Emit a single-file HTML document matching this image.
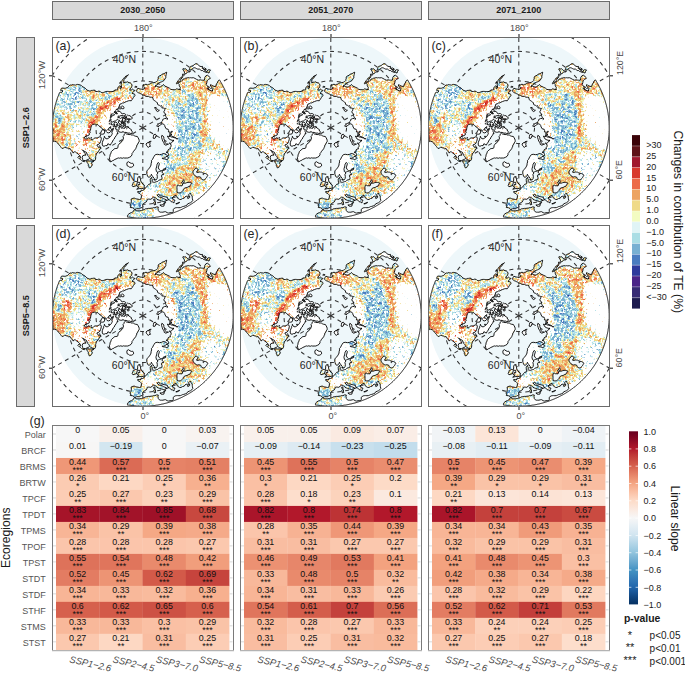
<!DOCTYPE html>
<html><head><meta charset="utf-8"><style>
html,body{margin:0;padding:0;background:#fff;width:685px;height:673px;overflow:hidden;}
svg{display:block;font-family:"Liberation Sans", sans-serif;}
</style></head><body>
<svg width="685" height="673" viewBox="0 0 685 673">
<rect x="0" y="0" width="685" height="673" fill="#fff"/>
<rect x="52.5" y="1.5" width="181" height="18" fill="#d9d9d9" stroke="#6b6b6b" stroke-width="1"/>
<text x="142.75" y="13.1" font-size="9" fill="#1a1a1a" text-anchor="middle" font-weight="bold">2030_2050</text>
<rect x="240.5" y="1.5" width="181" height="18" fill="#d9d9d9" stroke="#6b6b6b" stroke-width="1"/>
<text x="330.75" y="13.1" font-size="9" fill="#1a1a1a" text-anchor="middle" font-weight="bold">2051_2070</text>
<rect x="428.5" y="1.5" width="181" height="18" fill="#d9d9d9" stroke="#6b6b6b" stroke-width="1"/>
<text x="518.75" y="13.1" font-size="9" fill="#1a1a1a" text-anchor="middle" font-weight="bold">2071_2100</text>
<rect x="16.5" y="37.5" width="18" height="181" fill="#d9d9d9" stroke="#6b6b6b" stroke-width="1"/>
<text x="29" y="127.75" font-size="9" fill="#1a1a1a" text-anchor="middle" font-weight="bold" transform="rotate(-90 29 127.75)">SSP1−2.6</text>
<rect x="16.5" y="225.5" width="18" height="181" fill="#d9d9d9" stroke="#6b6b6b" stroke-width="1"/>
<text x="29" y="315.75" font-size="9" fill="#1a1a1a" text-anchor="middle" font-weight="bold" transform="rotate(-90 29 315.75)">SSP5−8.5</text>
<defs><filter id="valF0" x="0" y="0" width="182" height="182" filterUnits="userSpaceOnUse" color-interpolation-filters="sRGB">
<feGaussianBlur in="SourceGraphic" stdDeviation="1.8" result="f"/>
<feTurbulence type="fractalNoise" baseFrequency="0.3" numOctaves="3" seed="3" result="n"/>
<feColorMatrix in="n" type="matrix" values="1 0 0 0 0 0 1 0 0 0 0 0 1 0 0 0 0 0 0 1" result="n1"/>
<feComposite in="f" in2="n1" operator="arithmetic" k1="0" k2="1" k3="0.38" k4="-0.19" result="t"/>
<feColorMatrix in="t" type="matrix" values="1 0 0 0 0 1 0 0 0 0 1 0 0 0 0 0 0 0 0 1" result="g"/>
<feComponentTransfer in="g"><feFuncR type="discrete" tableValues="0.1098 0.1098 0.1098 0.1098 0.1098 0.2118 0.2118 0.2118 0.2118 0.2118 0.2902 0.2902 0.2902 0.2902 0.2902 0.1804 0.1804 0.1804 0.1804 0.1804 0.2902 0.2902 0.2902 0.2902 0.2902 0.4706 0.4706 0.4706 0.4706 0.4706 0.6706 0.6706 0.6706 0.6706 0.8784 0.9529 0.9373 0.9373 0.9373 0.9373 0.9294 0.9294 0.9294 0.9294 0.9294 0.9255 0.9255 0.9255 0.9255 0.9255 0.8471 0.8471 0.8471 0.8471 0.8471 0.6275 0.6275 0.6275 0.6275 0.6275 0.3686 0.3686 0.3686 0.3686 0.3686 0.2275 0.2275 0.2275 0.2275 0.2275"/><feFuncG type="discrete" tableValues="0.1020 0.1020 0.1020 0.1020 0.1020 0.1647 0.1647 0.1647 0.1647 0.1647 0.1412 0.1412 0.1412 0.1412 0.1412 0.2275 0.2275 0.2275 0.2275 0.2275 0.4863 0.4863 0.4863 0.4863 0.4863 0.6902 0.6902 0.6902 0.6902 0.6902 0.8706 0.8706 0.8706 0.8706 0.9569 0.9882 0.8549 0.8549 0.8549 0.8549 0.6431 0.6431 0.6431 0.6431 0.6431 0.4196 0.4196 0.4196 0.4196 0.4196 0.2275 0.2275 0.2275 0.2275 0.2275 0.0941 0.0941 0.0941 0.0941 0.0941 0.0706 0.0706 0.0706 0.0706 0.0706 0.0078 0.0078 0.0078 0.0078 0.0078"/><feFuncB type="discrete" tableValues="0.3059 0.3059 0.3059 0.3059 0.3059 0.4549 0.4549 0.4549 0.4549 0.4549 0.5333 0.5333 0.5333 0.5333 0.5333 0.6118 0.6118 0.6118 0.6118 0.6118 0.7529 0.7529 0.7529 0.7529 0.7529 0.8235 0.8235 0.8235 0.8235 0.8235 0.8980 0.8980 0.8980 0.8980 0.9647 0.7608 0.5333 0.5333 0.5333 0.5333 0.3843 0.3843 0.3843 0.3843 0.3843 0.2824 0.2824 0.2824 0.2824 0.2824 0.1804 0.1804 0.1804 0.1804 0.1804 0.1804 0.1804 0.1804 0.1804 0.1804 0.0941 0.0941 0.0941 0.0941 0.0941 0.0314 0.0314 0.0314 0.0314 0.0314"/><feFuncA type="linear" slope="0" intercept="1"/></feComponentTransfer>
<feGaussianBlur stdDeviation="0.65"/>
</filter>
<filter id="valF1" x="0" y="0" width="182" height="182" filterUnits="userSpaceOnUse" color-interpolation-filters="sRGB">
<feGaussianBlur in="SourceGraphic" stdDeviation="1.8" result="f"/>
<feTurbulence type="fractalNoise" baseFrequency="0.3" numOctaves="3" seed="10" result="n"/>
<feColorMatrix in="n" type="matrix" values="1 0 0 0 0 0 1 0 0 0 0 0 1 0 0 0 0 0 0 1" result="n1"/>
<feComposite in="f" in2="n1" operator="arithmetic" k1="0" k2="1" k3="0.38" k4="-0.19" result="t"/>
<feColorMatrix in="t" type="matrix" values="1 0 0 0 0 1 0 0 0 0 1 0 0 0 0 0 0 0 0 1" result="g"/>
<feComponentTransfer in="g"><feFuncR type="discrete" tableValues="0.1098 0.1098 0.1098 0.1098 0.1098 0.2118 0.2118 0.2118 0.2118 0.2118 0.2902 0.2902 0.2902 0.2902 0.2902 0.1804 0.1804 0.1804 0.1804 0.1804 0.2902 0.2902 0.2902 0.2902 0.2902 0.4706 0.4706 0.4706 0.4706 0.4706 0.6706 0.6706 0.6706 0.6706 0.8784 0.9529 0.9373 0.9373 0.9373 0.9373 0.9294 0.9294 0.9294 0.9294 0.9294 0.9255 0.9255 0.9255 0.9255 0.9255 0.8471 0.8471 0.8471 0.8471 0.8471 0.6275 0.6275 0.6275 0.6275 0.6275 0.3686 0.3686 0.3686 0.3686 0.3686 0.2275 0.2275 0.2275 0.2275 0.2275"/><feFuncG type="discrete" tableValues="0.1020 0.1020 0.1020 0.1020 0.1020 0.1647 0.1647 0.1647 0.1647 0.1647 0.1412 0.1412 0.1412 0.1412 0.1412 0.2275 0.2275 0.2275 0.2275 0.2275 0.4863 0.4863 0.4863 0.4863 0.4863 0.6902 0.6902 0.6902 0.6902 0.6902 0.8706 0.8706 0.8706 0.8706 0.9569 0.9882 0.8549 0.8549 0.8549 0.8549 0.6431 0.6431 0.6431 0.6431 0.6431 0.4196 0.4196 0.4196 0.4196 0.4196 0.2275 0.2275 0.2275 0.2275 0.2275 0.0941 0.0941 0.0941 0.0941 0.0941 0.0706 0.0706 0.0706 0.0706 0.0706 0.0078 0.0078 0.0078 0.0078 0.0078"/><feFuncB type="discrete" tableValues="0.3059 0.3059 0.3059 0.3059 0.3059 0.4549 0.4549 0.4549 0.4549 0.4549 0.5333 0.5333 0.5333 0.5333 0.5333 0.6118 0.6118 0.6118 0.6118 0.6118 0.7529 0.7529 0.7529 0.7529 0.7529 0.8235 0.8235 0.8235 0.8235 0.8235 0.8980 0.8980 0.8980 0.8980 0.9647 0.7608 0.5333 0.5333 0.5333 0.5333 0.3843 0.3843 0.3843 0.3843 0.3843 0.2824 0.2824 0.2824 0.2824 0.2824 0.1804 0.1804 0.1804 0.1804 0.1804 0.1804 0.1804 0.1804 0.1804 0.1804 0.0941 0.0941 0.0941 0.0941 0.0941 0.0314 0.0314 0.0314 0.0314 0.0314"/><feFuncA type="linear" slope="0" intercept="1"/></feComponentTransfer>
<feGaussianBlur stdDeviation="0.65"/>
</filter>
<filter id="valF2" x="0" y="0" width="182" height="182" filterUnits="userSpaceOnUse" color-interpolation-filters="sRGB">
<feGaussianBlur in="SourceGraphic" stdDeviation="1.8" result="f"/>
<feTurbulence type="fractalNoise" baseFrequency="0.3" numOctaves="3" seed="17" result="n"/>
<feColorMatrix in="n" type="matrix" values="1 0 0 0 0 0 1 0 0 0 0 0 1 0 0 0 0 0 0 1" result="n1"/>
<feComposite in="f" in2="n1" operator="arithmetic" k1="0" k2="1" k3="0.38" k4="-0.19" result="t"/>
<feColorMatrix in="t" type="matrix" values="1 0 0 0 0 1 0 0 0 0 1 0 0 0 0 0 0 0 0 1" result="g"/>
<feComponentTransfer in="g"><feFuncR type="discrete" tableValues="0.1098 0.1098 0.1098 0.1098 0.1098 0.2118 0.2118 0.2118 0.2118 0.2118 0.2902 0.2902 0.2902 0.2902 0.2902 0.1804 0.1804 0.1804 0.1804 0.1804 0.2902 0.2902 0.2902 0.2902 0.2902 0.4706 0.4706 0.4706 0.4706 0.4706 0.6706 0.6706 0.6706 0.6706 0.8784 0.9529 0.9373 0.9373 0.9373 0.9373 0.9294 0.9294 0.9294 0.9294 0.9294 0.9255 0.9255 0.9255 0.9255 0.9255 0.8471 0.8471 0.8471 0.8471 0.8471 0.6275 0.6275 0.6275 0.6275 0.6275 0.3686 0.3686 0.3686 0.3686 0.3686 0.2275 0.2275 0.2275 0.2275 0.2275"/><feFuncG type="discrete" tableValues="0.1020 0.1020 0.1020 0.1020 0.1020 0.1647 0.1647 0.1647 0.1647 0.1647 0.1412 0.1412 0.1412 0.1412 0.1412 0.2275 0.2275 0.2275 0.2275 0.2275 0.4863 0.4863 0.4863 0.4863 0.4863 0.6902 0.6902 0.6902 0.6902 0.6902 0.8706 0.8706 0.8706 0.8706 0.9569 0.9882 0.8549 0.8549 0.8549 0.8549 0.6431 0.6431 0.6431 0.6431 0.6431 0.4196 0.4196 0.4196 0.4196 0.4196 0.2275 0.2275 0.2275 0.2275 0.2275 0.0941 0.0941 0.0941 0.0941 0.0941 0.0706 0.0706 0.0706 0.0706 0.0706 0.0078 0.0078 0.0078 0.0078 0.0078"/><feFuncB type="discrete" tableValues="0.3059 0.3059 0.3059 0.3059 0.3059 0.4549 0.4549 0.4549 0.4549 0.4549 0.5333 0.5333 0.5333 0.5333 0.5333 0.6118 0.6118 0.6118 0.6118 0.6118 0.7529 0.7529 0.7529 0.7529 0.7529 0.8235 0.8235 0.8235 0.8235 0.8235 0.8980 0.8980 0.8980 0.8980 0.9647 0.7608 0.5333 0.5333 0.5333 0.5333 0.3843 0.3843 0.3843 0.3843 0.3843 0.2824 0.2824 0.2824 0.2824 0.2824 0.1804 0.1804 0.1804 0.1804 0.1804 0.1804 0.1804 0.1804 0.1804 0.1804 0.0941 0.0941 0.0941 0.0941 0.0941 0.0314 0.0314 0.0314 0.0314 0.0314"/><feFuncA type="linear" slope="0" intercept="1"/></feComponentTransfer>
<feGaussianBlur stdDeviation="0.65"/>
</filter>
<filter id="valF3" x="0" y="0" width="182" height="182" filterUnits="userSpaceOnUse" color-interpolation-filters="sRGB">
<feGaussianBlur in="SourceGraphic" stdDeviation="1.8" result="f"/>
<feTurbulence type="fractalNoise" baseFrequency="0.3" numOctaves="3" seed="24" result="n"/>
<feColorMatrix in="n" type="matrix" values="1 0 0 0 0 0 1 0 0 0 0 0 1 0 0 0 0 0 0 1" result="n1"/>
<feComposite in="f" in2="n1" operator="arithmetic" k1="0" k2="1" k3="0.38" k4="-0.19" result="t"/>
<feColorMatrix in="t" type="matrix" values="1 0 0 0 0 1 0 0 0 0 1 0 0 0 0 0 0 0 0 1" result="g"/>
<feComponentTransfer in="g"><feFuncR type="discrete" tableValues="0.1098 0.1098 0.1098 0.1098 0.1098 0.2118 0.2118 0.2118 0.2118 0.2118 0.2902 0.2902 0.2902 0.2902 0.2902 0.1804 0.1804 0.1804 0.1804 0.1804 0.2902 0.2902 0.2902 0.2902 0.2902 0.4706 0.4706 0.4706 0.4706 0.4706 0.6706 0.6706 0.6706 0.6706 0.8784 0.9529 0.9373 0.9373 0.9373 0.9373 0.9294 0.9294 0.9294 0.9294 0.9294 0.9255 0.9255 0.9255 0.9255 0.9255 0.8471 0.8471 0.8471 0.8471 0.8471 0.6275 0.6275 0.6275 0.6275 0.6275 0.3686 0.3686 0.3686 0.3686 0.3686 0.2275 0.2275 0.2275 0.2275 0.2275"/><feFuncG type="discrete" tableValues="0.1020 0.1020 0.1020 0.1020 0.1020 0.1647 0.1647 0.1647 0.1647 0.1647 0.1412 0.1412 0.1412 0.1412 0.1412 0.2275 0.2275 0.2275 0.2275 0.2275 0.4863 0.4863 0.4863 0.4863 0.4863 0.6902 0.6902 0.6902 0.6902 0.6902 0.8706 0.8706 0.8706 0.8706 0.9569 0.9882 0.8549 0.8549 0.8549 0.8549 0.6431 0.6431 0.6431 0.6431 0.6431 0.4196 0.4196 0.4196 0.4196 0.4196 0.2275 0.2275 0.2275 0.2275 0.2275 0.0941 0.0941 0.0941 0.0941 0.0941 0.0706 0.0706 0.0706 0.0706 0.0706 0.0078 0.0078 0.0078 0.0078 0.0078"/><feFuncB type="discrete" tableValues="0.3059 0.3059 0.3059 0.3059 0.3059 0.4549 0.4549 0.4549 0.4549 0.4549 0.5333 0.5333 0.5333 0.5333 0.5333 0.6118 0.6118 0.6118 0.6118 0.6118 0.7529 0.7529 0.7529 0.7529 0.7529 0.8235 0.8235 0.8235 0.8235 0.8235 0.8980 0.8980 0.8980 0.8980 0.9647 0.7608 0.5333 0.5333 0.5333 0.5333 0.3843 0.3843 0.3843 0.3843 0.3843 0.2824 0.2824 0.2824 0.2824 0.2824 0.1804 0.1804 0.1804 0.1804 0.1804 0.1804 0.1804 0.1804 0.1804 0.1804 0.0941 0.0941 0.0941 0.0941 0.0941 0.0314 0.0314 0.0314 0.0314 0.0314"/><feFuncA type="linear" slope="0" intercept="1"/></feComponentTransfer>
<feGaussianBlur stdDeviation="0.65"/>
</filter>
<filter id="valF4" x="0" y="0" width="182" height="182" filterUnits="userSpaceOnUse" color-interpolation-filters="sRGB">
<feGaussianBlur in="SourceGraphic" stdDeviation="1.8" result="f"/>
<feTurbulence type="fractalNoise" baseFrequency="0.3" numOctaves="3" seed="31" result="n"/>
<feColorMatrix in="n" type="matrix" values="1 0 0 0 0 0 1 0 0 0 0 0 1 0 0 0 0 0 0 1" result="n1"/>
<feComposite in="f" in2="n1" operator="arithmetic" k1="0" k2="1" k3="0.38" k4="-0.19" result="t"/>
<feColorMatrix in="t" type="matrix" values="1 0 0 0 0 1 0 0 0 0 1 0 0 0 0 0 0 0 0 1" result="g"/>
<feComponentTransfer in="g"><feFuncR type="discrete" tableValues="0.1098 0.1098 0.1098 0.1098 0.1098 0.2118 0.2118 0.2118 0.2118 0.2118 0.2902 0.2902 0.2902 0.2902 0.2902 0.1804 0.1804 0.1804 0.1804 0.1804 0.2902 0.2902 0.2902 0.2902 0.2902 0.4706 0.4706 0.4706 0.4706 0.4706 0.6706 0.6706 0.6706 0.6706 0.8784 0.9529 0.9373 0.9373 0.9373 0.9373 0.9294 0.9294 0.9294 0.9294 0.9294 0.9255 0.9255 0.9255 0.9255 0.9255 0.8471 0.8471 0.8471 0.8471 0.8471 0.6275 0.6275 0.6275 0.6275 0.6275 0.3686 0.3686 0.3686 0.3686 0.3686 0.2275 0.2275 0.2275 0.2275 0.2275"/><feFuncG type="discrete" tableValues="0.1020 0.1020 0.1020 0.1020 0.1020 0.1647 0.1647 0.1647 0.1647 0.1647 0.1412 0.1412 0.1412 0.1412 0.1412 0.2275 0.2275 0.2275 0.2275 0.2275 0.4863 0.4863 0.4863 0.4863 0.4863 0.6902 0.6902 0.6902 0.6902 0.6902 0.8706 0.8706 0.8706 0.8706 0.9569 0.9882 0.8549 0.8549 0.8549 0.8549 0.6431 0.6431 0.6431 0.6431 0.6431 0.4196 0.4196 0.4196 0.4196 0.4196 0.2275 0.2275 0.2275 0.2275 0.2275 0.0941 0.0941 0.0941 0.0941 0.0941 0.0706 0.0706 0.0706 0.0706 0.0706 0.0078 0.0078 0.0078 0.0078 0.0078"/><feFuncB type="discrete" tableValues="0.3059 0.3059 0.3059 0.3059 0.3059 0.4549 0.4549 0.4549 0.4549 0.4549 0.5333 0.5333 0.5333 0.5333 0.5333 0.6118 0.6118 0.6118 0.6118 0.6118 0.7529 0.7529 0.7529 0.7529 0.7529 0.8235 0.8235 0.8235 0.8235 0.8235 0.8980 0.8980 0.8980 0.8980 0.9647 0.7608 0.5333 0.5333 0.5333 0.5333 0.3843 0.3843 0.3843 0.3843 0.3843 0.2824 0.2824 0.2824 0.2824 0.2824 0.1804 0.1804 0.1804 0.1804 0.1804 0.1804 0.1804 0.1804 0.1804 0.1804 0.0941 0.0941 0.0941 0.0941 0.0941 0.0314 0.0314 0.0314 0.0314 0.0314"/><feFuncA type="linear" slope="0" intercept="1"/></feComponentTransfer>
<feGaussianBlur stdDeviation="0.65"/>
</filter>
<filter id="valF5" x="0" y="0" width="182" height="182" filterUnits="userSpaceOnUse" color-interpolation-filters="sRGB">
<feGaussianBlur in="SourceGraphic" stdDeviation="1.8" result="f"/>
<feTurbulence type="fractalNoise" baseFrequency="0.3" numOctaves="3" seed="38" result="n"/>
<feColorMatrix in="n" type="matrix" values="1 0 0 0 0 0 1 0 0 0 0 0 1 0 0 0 0 0 0 1" result="n1"/>
<feComposite in="f" in2="n1" operator="arithmetic" k1="0" k2="1" k3="0.38" k4="-0.19" result="t"/>
<feColorMatrix in="t" type="matrix" values="1 0 0 0 0 1 0 0 0 0 1 0 0 0 0 0 0 0 0 1" result="g"/>
<feComponentTransfer in="g"><feFuncR type="discrete" tableValues="0.1098 0.1098 0.1098 0.1098 0.1098 0.2118 0.2118 0.2118 0.2118 0.2118 0.2902 0.2902 0.2902 0.2902 0.2902 0.1804 0.1804 0.1804 0.1804 0.1804 0.2902 0.2902 0.2902 0.2902 0.2902 0.4706 0.4706 0.4706 0.4706 0.4706 0.6706 0.6706 0.6706 0.6706 0.8784 0.9529 0.9373 0.9373 0.9373 0.9373 0.9294 0.9294 0.9294 0.9294 0.9294 0.9255 0.9255 0.9255 0.9255 0.9255 0.8471 0.8471 0.8471 0.8471 0.8471 0.6275 0.6275 0.6275 0.6275 0.6275 0.3686 0.3686 0.3686 0.3686 0.3686 0.2275 0.2275 0.2275 0.2275 0.2275"/><feFuncG type="discrete" tableValues="0.1020 0.1020 0.1020 0.1020 0.1020 0.1647 0.1647 0.1647 0.1647 0.1647 0.1412 0.1412 0.1412 0.1412 0.1412 0.2275 0.2275 0.2275 0.2275 0.2275 0.4863 0.4863 0.4863 0.4863 0.4863 0.6902 0.6902 0.6902 0.6902 0.6902 0.8706 0.8706 0.8706 0.8706 0.9569 0.9882 0.8549 0.8549 0.8549 0.8549 0.6431 0.6431 0.6431 0.6431 0.6431 0.4196 0.4196 0.4196 0.4196 0.4196 0.2275 0.2275 0.2275 0.2275 0.2275 0.0941 0.0941 0.0941 0.0941 0.0941 0.0706 0.0706 0.0706 0.0706 0.0706 0.0078 0.0078 0.0078 0.0078 0.0078"/><feFuncB type="discrete" tableValues="0.3059 0.3059 0.3059 0.3059 0.3059 0.4549 0.4549 0.4549 0.4549 0.4549 0.5333 0.5333 0.5333 0.5333 0.5333 0.6118 0.6118 0.6118 0.6118 0.6118 0.7529 0.7529 0.7529 0.7529 0.7529 0.8235 0.8235 0.8235 0.8235 0.8235 0.8980 0.8980 0.8980 0.8980 0.9647 0.7608 0.5333 0.5333 0.5333 0.5333 0.3843 0.3843 0.3843 0.3843 0.3843 0.2824 0.2824 0.2824 0.2824 0.2824 0.1804 0.1804 0.1804 0.1804 0.1804 0.1804 0.1804 0.1804 0.1804 0.1804 0.0941 0.0941 0.0941 0.0941 0.0941 0.0314 0.0314 0.0314 0.0314 0.0314"/><feFuncA type="linear" slope="0" intercept="1"/></feComponentTransfer>
<feGaussianBlur stdDeviation="0.65"/>
</filter>
<filter id="rough" x="-5" y="-5" width="192" height="192" filterUnits="userSpaceOnUse">
<feTurbulence type="fractalNoise" baseFrequency="0.22" numOctaves="2" seed="4" result="n"/>
<feDisplacementMap in="SourceGraphic" in2="n" scale="3" xChannelSelector="R" yChannelSelector="G"/>
</filter>
<filter id="covF" x="0" y="0" width="182" height="182" filterUnits="userSpaceOnUse" color-interpolation-filters="sRGB">
<feGaussianBlur in="SourceGraphic" stdDeviation="2" result="f"/>
<feTurbulence type="fractalNoise" baseFrequency="0.45" numOctaves="2" seed="17" result="n"/>
<feColorMatrix in="n" type="matrix" values="1 0 0 0 0 1 0 0 0 0 1 0 0 0 0 0 0 0 0 1" result="n1"/>
<feComposite in="f" in2="n1" operator="arithmetic" k1="0" k2="1" k3="1.6" k4="-0.8" result="t"/>
<feComponentTransfer in="t"><feFuncR type="linear" slope="5" intercept="-2.5"/><feFuncG type="linear" slope="5" intercept="-2.5"/><feFuncB type="linear" slope="5" intercept="-2.5"/><feFuncA type="linear" slope="0" intercept="1"/></feComponentTransfer>
<feGaussianBlur stdDeviation="0.4"/>
</filter><path id="landP" d="M66.5 71.6L67.8 71.8L69.1 71.9L69.4 71.3L70.1 71.7L71.7 71.7L72.1 70.3L71.2 69.6L70.3 68.7L69.7 69.8L69.3 70.5L68.9 70.0L67.8 70.1L67.0 70.2L66.5 70.8L66.9 70.0L67.6 68.0L67.9 67.1L69.2 66.8L70.7 65.9L71.9 65.9L72.9 65.2L74.4 64.6L76.4 63.8L77.8 63.6L79.2 63.8L80.4 62.2L81.5 60.3L82.9 58.7L83.0 57.7L82.1 56.9L81.1 56.6L80.0 56.3L81.5 54.9L82.9 53.4L81.8 53.2L80.4 52.1L79.3 53.0L77.8 53.1L78.1 51.7L79.6 50.4L79.8 49.2L80.1 48.1L79.2 46.6L78.3 45.8L77.0 45.8L75.7 44.8L74.4 45.2L73.0 45.2L71.7 45.9L71.8 44.4L71.9 42.9L72.4 41.6L73.8 41.1L74.2 39.8L75.5 38.9L76.3 37.6L75.3 38.6L74.0 39.1L73.0 39.8L72.2 40.7L71.4 41.6L70.6 42.5L70.0 43.5L69.8 44.8L69.5 46.2L69.2 47.6L69.4 48.8L69.5 50.0L69.3 51.2L68.3 51.9L68.1 50.5L68.5 49.2L67.6 48.9L66.5 49.7L65.8 50.9L65.6 52.8L64.5 52.9L63.5 53.2L61.8 54.3L59.9 54.6L58.5 54.5L57.1 54.7L56.3 54.4L55.2 54.4L54.1 54.5L53.0 54.9L51.7 55.4L50.3 55.6L49.2 55.4L48.3 54.5L46.8 54.1L45.3 54.6L43.5 54.5L43.1 53.3L41.7 53.2L40.5 53.4L39.2 53.5L38.0 54.3L36.8 53.7L34.9 53.1L34.1 52.1L33.2 51.2L32.2 50.5L31.1 50.0L30.1 49.4L29.3 48.4L28.2 48.0L26.9 47.6L25.7 47.4L24.3 47.6L23.7 48.1L21.8 47.9L20.6 47.5L19.4 48.1L18.2 48.0L17.1 48.7L16.4 49.9L15.7 50.4L13.7 51.2L12.2 51.3L10.9 51.1L9.5 51.2L9.3 51.6L9.1 52.1L8.8 52.7L8.6 53.2L8.5 53.3L9.7 53.7L11.0 53.9L9.5 55.5L8.4 55.3L7.5 55.7L7.5 55.7L7.3 56.2L7.1 56.7L6.9 57.2L6.7 57.7L6.5 58.3L6.3 58.8L6.1 59.3L5.9 59.8L5.7 60.3L5.5 60.9L5.3 61.4L5.1 61.9L5.0 62.4L4.8 63.0L4.6 63.5L4.5 64.0L4.3 64.6L4.1 65.1L4.0 65.6L3.8 66.2L3.7 66.7L3.5 67.2L3.4 67.8L3.2 68.3L3.1 68.8L3.0 69.4L2.8 69.9L2.7 70.5L2.6 71.0L2.5 71.5L2.4 72.1L2.2 72.6L2.1 73.2L2.0 73.7L1.9 74.3L1.8 74.8L1.7 75.3L1.6 75.9L1.5 76.4L1.5 77.0L1.4 77.5L1.3 78.1L1.2 78.6L1.1 79.2L1.1 79.7L1.0 80.3L1.0 80.8L0.9 81.4L0.8 81.9L0.8 82.5L0.7 83.0L0.7 83.6L0.6 84.1L0.6 84.7L0.6 85.3L0.5 85.8L0.5 86.4L0.5 86.9L0.5 87.5L0.4 88.0L0.4 88.6L0.4 89.1L0.4 89.7L0.4 90.2L0.4 90.8L0.4 91.4L0.4 91.7L1.0 91.6L1.1 92.8L0.9 93.9L0.6 95.2L1.1 96.3L0.6 97.4L0.6 97.5L0.7 98.0L0.7 98.6L0.8 99.1L0.8 99.7L0.9 100.2L1.0 100.8L1.0 101.3L1.1 101.9L1.1 102.4L1.2 103.0L1.3 103.5L1.4 104.1L1.5 104.6L2.4 104.2L4.3 104.8L5.6 106.0L6.6 107.2L7.5 108.5L8.4 109.4L9.1 110.4L10.2 111.6L11.4 111.1L12.4 110.4L12.8 110.4L14.0 110.4L14.9 111.1L15.5 111.1L16.6 111.8L18.2 111.6L19.2 113.4L20.6 115.0L21.3 116.1L21.5 115.3L22.3 114.8L23.6 115.0L24.8 116.1L26.0 116.9L27.1 117.8L28.1 119.1L28.7 120.7L27.7 120.1L26.9 119.2L25.8 120.3L26.8 121.5L28.2 122.0L29.1 122.9L30.0 123.8L30.7 124.2L32.5 124.7L33.1 123.6L31.3 123.5L30.5 122.2L30.2 120.4L30.7 118.8L32.1 118.2L34.0 118.1L33.5 116.8L32.4 115.9L31.8 114.6L30.5 113.0L31.9 114.0L33.1 114.7L34.4 115.3L34.6 116.5L35.8 117.2L35.8 118.5L36.6 119.4L37.3 120.4L37.5 121.6L38.7 122.2L39.8 122.8L40.9 123.4L42.8 123.6L43.5 122.3L43.7 120.8L43.6 119.6L44.0 118.4L44.3 117.0L45.1 115.9L46.0 115.1L46.5 114.1L47.2 113.2L48.0 111.9L48.9 110.7L47.6 110.3L46.2 110.2L45.6 109.1L44.8 108.0L45.8 107.4L47.0 107.2L48.0 106.0L48.5 104.6L49.2 102.7L49.3 101.2L48.6 99.8L47.1 99.9L45.9 100.8L44.3 100.9L42.8 101.0L41.8 101.6L41.1 102.4L40.1 103.0L38.9 102.3L37.9 101.3L36.6 100.8L35.3 101.7L33.8 102.1L32.8 101.2L31.7 100.7L33.1 100.0L34.0 98.8L35.1 98.8L36.2 98.5L37.2 98.0L37.2 96.7L38.2 95.6L37.7 94.1L38.5 93.0L38.7 91.7L39.0 90.1L39.5 88.6L40.7 87.5L42.3 87.2L43.5 87.2L44.6 87.7L45.8 87.6L47.1 88.9L47.9 89.9L49.1 90.3L49.9 91.1L50.2 92.2L51.7 92.8L52.9 93.0L54.1 93.0L54.2 94.6L55.1 95.5L56.7 95.9L58.0 95.3L58.8 94.2L57.1 92.9L55.6 92.6L56.6 92.0L57.1 90.8L58.6 89.7L58.9 89.7L58.8 89.9L58.4 91.3L59.6 92.3L60.9 91.8L61.4 91.1L61.9 91.5L61.3 91.8L61.0 93.0L60.7 93.5L60.7 93.3L60.5 92.6L59.8 92.2L59.4 93.0L59.5 93.7L59.9 94.2L60.4 93.9L60.3 94.0L59.8 95.2L60.3 96.5L59.8 97.7L59.2 98.8L58.3 99.8L57.3 100.6L56.3 101.3L55.2 101.8L54.0 101.7L52.9 100.7L52.4 99.3L52.3 100.5L51.6 101.6L51.6 102.8L50.8 104.0L50.4 105.5L50.2 107.1L50.6 108.7L52.0 109.3L53.4 108.6L55.1 108.6L55.9 106.7L57.1 107.4L58.3 108.1L59.2 106.5L60.2 105.1L61.1 103.1L62.3 102.0L62.6 100.9L63.2 100.0L64.4 98.4L65.3 96.9L65.2 96.1L66.0 96.7L65.7 95.7L65.1 94.6L65.1 94.6L65.0 93.7L65.2 92.4L63.7 92.0L63.0 91.5L63.5 91.3L63.9 90.6L63.6 89.7L62.3 89.7L61.5 89.9L61.1 89.3L61.4 89.2L62.4 88.6L61.4 87.8L60.0 87.8L58.8 87.4L59.1 87.1L59.4 86.9L59.4 86.7L59.6 86.4L59.3 86.4L59.2 85.9L59.0 85.1L59.0 85.0L59.4 84.5L60.7 85.0L61.9 84.2L63.3 84.0L64.4 83.2L65.7 82.0L65.8 82.5L66.9 83.7L67.5 83.2L67.5 84.3L67.5 84.3L66.1 84.9L66.8 86.0L67.5 86.8L67.9 86.7L68.2 87.6L69.9 86.7L69.7 85.7L69.0 86.1L69.3 85.5L69.2 85.4L69.5 85.3L69.3 84.6L68.8 84.8L68.6 84.4L68.9 84.3L70.5 83.4L70.5 83.2L70.8 83.5L70.6 83.4L70.5 83.8L70.5 84.2L70.6 84.6L71.0 84.3L71.2 84.2L71.2 85.7L71.2 85.7L71.1 86.0L70.6 84.6L69.9 85.6L70.6 86.7L70.9 86.5L71.9 86.6L72.4 86.6L71.6 87.2L71.6 88.4L72.5 87.9L72.8 87.9L73.4 87.9L73.6 87.4L73.4 87.1L73.3 86.3L73.2 86.1L73.2 86.1L72.6 85.4L71.9 85.5L71.5 85.6L72.0 85.0L72.7 84.5L72.7 84.7L73.2 84.9L73.7 84.9L74.1 84.4L73.5 84.1L73.3 84.0L73.0 84.1L72.9 83.0L73.3 82.4L72.6 81.6L71.1 80.7L71.0 81.1L70.2 80.3L69.1 81.1L68.4 81.6L68.0 81.2L67.0 80.3L66.0 81.0L66.1 79.8L66.1 78.9L67.0 79.4L68.3 78.8L69.7 78.6L69.7 78.5L71.8 78.9L73.2 78.7L73.8 77.6L72.6 76.7L71.9 76.5L70.1 76.9L69.4 76.4L69.3 76.2L69.2 75.8L69.1 75.8L68.9 75.5L68.5 75.1L68.4 74.8L68.2 74.7L68.0 74.6L68.1 74.7L67.0 74.1L66.1 74.6L65.9 74.5L65.7 74.6L66.2 73.8L65.6 72.6L64.3 72.7L64.1 72.8L64.8 71.9L66.7 71.9ZM71.0 81.2L70.8 81.9L70.5 82.8L70.5 82.2ZM63.5 73.6L63.5 74.2L64.1 75.3L64.9 75.1L64.4 75.3L65.3 76.4L65.3 77.0L65.3 76.9L63.9 76.7L64.2 76.4L64.4 76.1L64.3 75.8L63.8 75.5L63.2 75.8L63.2 76.1L63.0 75.5L62.1 75.4L62.1 75.0L62.7 74.6ZM63.5 76.6L63.4 76.4L63.8 76.7L63.6 76.7L63.5 76.8ZM57.5 87.1L56.9 86.5L57.7 86.2L57.8 86.3L57.9 86.6ZM58.5 81.7L59.0 82.3L58.8 83.9L58.2 83.9L57.6 84.5L57.5 84.2L57.3 84.2L58.1 82.6L58.3 82.1L58.4 82.1L58.5 81.9ZM59.6 79.2L59.1 80.4L58.6 81.2L58.4 80.3L58.7 79.1L58.7 78.4L59.2 78.7L59.5 78.5L59.9 78.2L59.6 77.8L59.2 77.6L58.7 77.8L58.7 77.8L60.1 76.7L60.8 77.0L61.4 77.0L62.2 77.6L62.7 77.6L61.6 78.4ZM73.0 86.8L72.8 86.8L72.8 86.6ZM48.1 95.7L47.8 96.8L49.0 97.4L49.0 96.8L49.3 97.1L50.6 97.2L51.8 97.0L52.7 95.1L52.5 93.1L50.9 92.7L49.5 93.7L49.1 95.2L48.5 96.0ZM48.3 98.1L48.2 98.6L48.7 98.7ZM57.4 100.1L57.0 98.9L56.7 99.9ZM33.9 100.0L34.5 100.2L33.9 99.3ZM39.7 101.2L39.3 100.4L38.9 100.9ZM38.7 130.5L39.3 129.6L40.4 127.8L39.5 126.1L40.1 125.0L41.8 124.5L40.5 124.1L39.1 123.9L37.7 124.0L35.9 123.8L34.6 124.2L35.0 125.3L35.6 126.2L36.4 127.1L36.2 128.2L36.8 129.7L37.3 130.9ZM68.7 44.5L67.6 46.3L68.6 46.2L68.5 45.1ZM64.9 89.7L65.7 88.6L65.0 88.4L65.0 88.2L64.4 88.0L64.3 88.1L63.9 87.9L65.9 87.5L65.3 86.3L63.9 85.1L62.2 85.5L62.0 87.3L62.9 87.6L62.2 87.8L62.7 88.4L62.8 88.7L62.6 88.8L63.6 89.5ZM68.0 89.6L68.3 89.0L68.5 89.3L69.2 88.8L69.6 88.4L69.2 87.9L68.6 87.8L68.0 88.1L68.0 88.2L67.4 87.9L66.8 88.7ZM68.1 94.9L68.6 95.3L69.0 95.3L69.1 95.5L69.4 95.3L70.3 95.3L70.3 94.8L70.7 94.5L72.5 95.4L74.1 95.4L76.0 96.2L77.4 96.0L78.7 96.5L80.0 96.8L80.1 95.6L80.4 94.6L79.4 94.0L79.3 92.5L78.2 91.9L76.6 90.6L75.6 90.9L75.8 90.6L76.9 90.3L75.9 89.5L74.7 89.9L73.5 90.5L72.5 91.4L71.8 91.4L71.6 91.2L70.6 91.1L70.4 91.1L70.3 91.0L69.9 91.2L69.5 91.3L69.6 91.0L68.5 89.8L66.7 90.0L67.2 91.1L67.1 91.1L67.1 92.1L67.0 92.4L66.4 93.6L66.8 94.8L67.9 95.0ZM74.1 91.9L74.5 91.7L74.3 92.0ZM74.8 81.2L73.9 81.0L72.4 81.2L73.6 82.1L73.8 82.8L74.7 82.8L76.0 81.8L75.7 81.6L76.1 81.3L76.8 81.9L78.3 81.8L78.5 82.4L79.6 81.8L80.6 81.0L79.5 80.3L79.1 80.2L78.6 79.1L76.8 78.4L76.3 78.7L75.6 78.1L74.5 79.1L74.8 79.6L74.1 80.0L75.0 80.9L75.0 81.3ZM73.6 79.7L72.4 79.3L71.3 80.5L72.5 81.0L73.8 81.0ZM77.5 85.0L76.9 84.5L76.1 84.2L75.2 84.6L75.4 85.4L75.9 86.2L76.8 85.5ZM73.7 89.2L73.5 88.4L72.5 88.3L71.8 88.8L71.6 89.6L72.5 90.2L73.5 89.9ZM70.4 88.7L69.7 89.5L70.6 90.4L71.2 89.6ZM67.4 121.2L68.8 120.8L70.2 121.3L71.5 120.8L72.8 121.1L74.1 121.0L75.8 121.0L77.7 120.2L79.0 119.4L80.0 117.8L80.0 116.5L80.8 115.6L81.6 114.2L82.7 113.0L83.7 111.7L84.3 110.2L84.8 109.1L84.9 107.9L85.9 107.1L86.2 105.9L87.1 104.8L87.2 103.4L86.8 102.0L86.1 100.8L85.4 99.5L83.7 99.3L82.6 98.9L81.6 98.2L80.5 98.0L79.3 98.0L78.3 97.5L76.9 97.6L75.6 97.3L74.4 97.0L73.5 96.2L72.2 97.2L71.9 98.6L71.0 99.6L71.5 101.0L71.1 102.4L70.8 103.5L69.7 104.2L69.3 105.3L68.0 106.2L66.8 107.3L66.0 108.8L66.0 110.1L65.4 111.3L63.9 111.5L62.4 111.7L61.4 112.9L60.1 113.8L59.3 114.7L59.0 115.8L58.6 116.9L58.0 117.9L58.0 119.2L57.5 120.3L57.6 122.3L58.2 123.5L58.2 124.8L59.0 124.7L60.7 123.6L61.9 123.2L62.8 122.4L64.0 122.0L65.2 121.4L66.3 120.9ZM147.8 29.2L146.8 28.6L146.2 27.6L145.1 26.9L143.9 26.6L142.2 27.7L141.1 28.6L139.9 29.1L138.7 29.4L138.0 30.4L137.6 31.5L137.2 32.7L139.3 33.0L140.2 31.9L141.1 31.1L142.3 30.7L143.5 31.0L144.6 31.6L145.7 32.1L147.5 32.1L148.4 32.8L149.2 33.5L150.6 33.5L151.3 34.3L152.9 34.8L154.4 35.5L154.9 35.1L153.8 34.5L153.3 33.3L152.0 32.9L151.4 31.8L150.3 31.3L150.5 29.4L149.1 29.6ZM152.3 30.9L151.0 31.4L152.2 32.6L154.2 32.7L154.2 31.9ZM131.8 33.8L132.3 34.8L132.6 35.9L133.1 37.0L134.2 36.5L135.1 35.8L135.7 34.8L136.8 35.0L138.0 34.8L138.5 33.9L137.2 34.1L135.9 33.8L134.3 32.4L133.4 31.7L132.1 32.1L131.1 31.5L130.9 33.0ZM154.8 34.0L155.1 35.1L157.0 36.1L157.6 34.3L158.5 33.0L156.4 32.7ZM126.1 43.7L125.3 45.0L124.4 46.2L124.6 46.9L125.6 46.3L126.2 45.2L127.3 44.6L128.3 43.5L128.9 42.1L130.0 41.0L130.7 39.7L131.5 38.9L132.2 38.2L132.5 37.4L130.6 37.1L130.6 38.2L130.2 39.3L129.3 40.6L127.8 41.3L127.1 42.6ZM84.8 49.5L83.4 49.4L82.7 50.0L84.7 50.3ZM89.3 61.3L89.8 61.8L90.5 61.0L91.3 61.0L89.8 60.8ZM104.5 73.9L105.2 74.5L106.4 74.1L107.4 73.3L106.2 73.1L105.3 72.2L104.6 71.4L104.1 70.4L102.4 70.8L103.9 72.1ZM108.2 88.0L109.4 87.5L108.7 85.7L107.1 86.6L106.1 87.4L105.1 88.3L104.6 89.1L105.7 89.5L107.2 88.8ZM102.3 101.5L103.4 100.3L104.2 98.5L103.4 97.2L101.8 97.7L101.4 99.7L101.1 101.1ZM110.9 98.9L109.9 98.3L109.6 98.8L109.6 100.6L110.3 102.7L110.7 104.0L111.5 105.1L112.1 106.1L112.2 107.3L114.0 108.3L115.1 107.4L116.5 107.2L116.2 107.0L114.8 107.1L113.9 106.4L113.0 105.6L112.5 103.6L111.8 101.5L111.8 100.1ZM94.0 107.0L94.4 108.2L95.2 109.2L96.3 110.5L97.0 109.5L98.5 109.3L97.7 107.9L98.0 106.2L97.7 104.4L96.8 105.7L95.1 105.9ZM90.4 168.1L91.5 166.5L93.1 165.5L94.3 164.9L94.9 163.8L95.2 162.3L96.3 162.1L97.4 162.2L98.8 162.3L100.0 161.3L101.0 160.6L101.8 160.0L103.5 160.7L105.0 162.4L106.3 162.9L107.6 163.4L109.5 164.0L111.5 164.4L112.4 165.6L112.2 167.1L113.3 166.2L113.7 165.2L112.6 164.5L114.2 163.4L115.0 163.6L114.0 162.7L112.7 162.1L111.2 161.6L110.1 160.7L108.7 160.6L107.4 160.1L105.7 159.1L105.4 157.8L106.8 157.1L107.4 158.3L108.5 159.0L109.8 158.9L111.0 159.3L112.2 159.6L113.4 159.9L115.3 160.3L116.0 162.3L117.4 163.0L118.3 163.7L119.3 164.3L119.4 164.9L120.8 165.0L121.9 166.0L122.3 164.3L123.0 163.2L121.0 162.7L120.0 160.9L121.2 160.0L122.2 159.0L124.0 158.2L124.6 159.2L124.9 160.0L125.7 161.3L126.8 161.9L127.8 162.5L129.2 162.4L130.6 161.5L132.2 161.2L133.1 159.8L134.2 159.2L135.4 159.5L136.3 158.6L136.8 157.4L137.6 156.6L138.8 156.4L139.0 157.6L140.2 159.0L140.3 160.6L140.4 161.7L140.8 163.5L139.8 164.8L138.3 165.9L137.5 166.1L135.6 166.9L134.7 168.4L133.2 168.9L131.7 169.4L130.5 169.6L129.5 170.2L128.4 170.6L126.9 170.7L125.5 170.6L124.3 170.7L123.2 170.9L122.1 171.6L121.2 172.4L121.3 174.5L120.5 175.7L119.3 175.5L118.1 175.7L116.6 176.1L115.2 175.7L113.6 174.7L112.2 174.8L110.9 175.2L109.5 175.2L108.4 175.2L107.3 174.8L106.3 173.5L106.0 171.5L106.3 170.0L104.5 169.9L102.9 170.7L101.6 170.6L100.4 171.1L99.1 171.2L97.9 171.4L96.4 171.4L95.0 171.8L93.5 171.8L92.2 172.6L90.8 173.1L89.4 173.6L88.2 173.6L87.2 173.9L85.7 173.8L84.3 173.6L83.0 172.8L82.2 172.7L81.5 173.9L80.7 175.1L79.5 175.6L78.1 176.1L76.9 176.9L75.8 177.9L75.7 179.2L75.2 179.8L75.3 179.9L75.9 180.0L76.4 180.1L77.0 180.1L77.5 180.2L78.1 180.3L78.6 180.4L79.2 180.5L79.7 180.5L80.3 180.6L80.8 180.6L81.4 180.7L81.9 180.8L82.5 180.8L83.0 180.9L83.6 180.9L84.1 181.0L84.7 181.0L85.3 181.0L85.8 181.1L86.4 181.1L86.9 181.1L87.5 181.1L88.0 181.2L88.6 181.2L89.1 181.2L89.7 181.2L90.2 181.2L90.8 181.2L91.4 181.2L91.9 181.2L92.5 181.2L93.0 181.2L93.6 181.2L94.1 181.1L94.7 181.1L95.2 181.1L95.8 181.1L96.3 181.0L96.9 181.0L97.5 181.0L98.0 180.9L98.6 180.9L99.1 180.8L99.7 180.8L100.2 180.7L100.8 180.6L101.3 180.6L101.9 180.5L102.4 180.5L103.0 180.4L103.5 180.3L104.1 180.2L104.6 180.1L105.2 180.1L105.7 180.0L106.3 179.9L106.8 179.8L107.3 179.7L107.9 179.6L108.4 179.5L109.0 179.4L109.5 179.2L110.1 179.1L110.6 179.0L111.1 178.9L111.7 178.8L112.2 178.6L112.8 178.5L113.3 178.4L113.8 178.2L114.4 178.1L114.9 177.9L115.4 177.8L116.0 177.6L116.5 177.5L117.0 177.3L117.6 177.1L118.1 177.0L118.6 176.8L119.2 176.6L119.7 176.5L120.2 176.3L120.7 176.1L121.3 175.9L121.8 175.7L122.3 175.5L122.8 175.3L123.3 175.1L123.9 174.9L124.4 174.7L124.9 174.5L125.4 174.3L125.9 174.1L126.4 173.9L126.9 173.7L127.4 173.4L127.9 173.2L128.4 173.0L128.9 172.8L129.5 172.5L130.0 172.3L130.5 172.0L130.9 171.8L131.4 171.5L131.9 171.3L132.4 171.0L132.9 170.8L133.4 170.5L133.9 170.3L134.4 170.0L134.9 169.7L135.4 169.5L135.8 169.2L136.3 168.9L136.8 168.6L137.3 168.3L137.7 168.1L138.2 167.8L138.7 167.5L139.2 167.2L139.6 166.9L140.1 166.6L140.6 166.3L141.0 166.0L141.5 165.7L141.9 165.3L142.4 165.0L142.9 164.7L143.3 164.4L143.8 164.1L144.2 163.7L144.7 163.4L145.1 163.1L145.5 162.7L146.0 162.4L146.4 162.1L146.9 161.7L147.3 161.4L147.7 161.0L148.1 160.7L148.6 160.3L149.0 160.0L149.4 159.6L149.8 159.3L150.3 158.9L150.7 158.5L151.1 158.2L151.5 157.8L151.9 157.4L152.3 157.0L152.7 156.7L153.1 156.3L153.5 155.9L153.9 155.5L154.3 155.1L154.7 154.7L155.1 154.3L155.5 153.9L155.9 153.5L156.3 153.1L156.7 152.7L157.0 152.3L157.4 151.9L157.8 151.5L158.2 151.1L158.5 150.7L158.9 150.3L159.3 149.8L159.6 149.4L160.0 149.0L160.3 148.6L160.7 148.1L161.0 147.7L161.4 147.3L161.7 146.9L162.1 146.4L162.4 146.0L162.7 145.5L163.1 145.1L163.4 144.7L163.7 144.2L164.1 143.8L164.4 143.3L164.7 142.9L165.0 142.4L165.3 141.9L165.7 141.5L166.0 141.0L166.3 140.6L166.6 140.1L166.9 139.6L167.2 139.2L167.5 138.7L167.8 138.2L168.1 137.7L168.3 137.3L168.6 136.8L168.9 136.3L169.2 135.8L169.5 135.4L169.7 134.9L170.0 134.4L170.3 133.9L170.5 133.4L170.8 132.9L171.0 132.4L171.3 131.9L171.5 131.4L171.8 130.9L172.0 130.5L172.3 130.0L172.5 129.5L172.8 128.9L173.0 128.4L173.2 127.9L173.4 127.4L173.7 126.9L173.9 126.4L174.1 125.9L174.3 125.4L174.5 124.9L174.7 124.4L174.9 123.9L175.1 123.3L175.3 122.8L175.5 122.3L175.7 121.8L175.9 121.3L176.1 120.7L176.3 120.2L176.5 119.7L176.6 119.2L176.8 118.6L177.0 118.1L177.1 117.6L177.3 117.0L177.5 116.5L177.6 116.0L177.8 115.4L177.9 114.9L178.1 114.4L178.2 113.8L178.4 113.3L178.5 112.8L178.6 112.2L178.8 111.7L178.9 111.1L179.0 110.6L179.1 110.1L179.2 109.5L179.4 109.0L179.5 108.4L179.6 107.9L179.7 107.3L179.8 106.8L179.9 106.3L180.0 105.7L180.1 105.2L180.1 104.6L180.2 104.1L180.3 103.5L180.4 103.0L180.5 102.4L180.5 101.9L180.6 101.3L180.6 100.8L180.7 100.2L180.8 99.7L180.8 99.1L180.9 98.6L180.9 98.0L181.0 97.5L181.0 96.9L181.0 96.3L181.1 95.8L181.1 95.2L181.1 94.7L181.1 94.1L181.2 93.6L181.2 93.0L181.2 92.5L181.2 91.9L181.2 91.4L181.2 90.8L181.2 90.2L181.2 89.7L181.2 89.1L181.2 88.6L181.2 88.0L181.1 87.5L181.1 86.9L181.1 86.4L181.1 85.8L181.0 85.3L181.0 84.7L181.0 84.1L180.9 83.6L180.9 83.0L180.8 82.5L180.8 81.9L180.7 81.4L180.6 80.8L180.6 80.3L180.5 79.7L180.5 79.2L180.4 78.6L180.3 78.1L180.2 77.5L180.1 77.0L180.1 76.4L180.0 75.9L179.9 75.3L179.8 74.8L179.7 74.3L179.6 73.7L179.5 73.2L179.4 72.6L179.2 72.1L179.1 71.5L179.0 71.0L178.9 70.5L178.8 69.9L178.6 69.4L178.5 68.8L178.4 68.3L178.2 67.8L178.1 67.2L177.9 66.7L177.8 66.2L177.6 65.6L177.5 65.1L177.3 64.6L177.1 64.0L177.0 63.5L176.8 63.0L176.6 62.4L176.5 61.9L176.3 61.4L176.1 60.9L175.9 60.3L175.7 59.8L175.5 59.3L175.3 58.8L175.1 58.3L174.9 57.7L174.7 57.2L174.5 56.7L174.3 56.2L174.1 55.7L173.9 55.2L173.7 54.7L173.4 54.2L173.2 53.7L173.0 53.2L172.8 52.7L172.5 52.1L172.3 51.6L172.0 51.1L171.8 50.7L171.5 50.2L171.3 49.7L171.0 49.2L170.8 48.7L170.5 48.2L170.3 47.7L170.0 47.2L169.7 46.7L169.5 46.2L169.2 45.8L168.9 45.3L168.6 44.8L168.3 44.3L168.1 43.9L167.8 43.4L167.5 42.9L167.5 42.9L166.9 43.3L165.9 44.2L165.3 46.0L164.5 46.8L164.1 48.0L163.5 49.7L161.5 49.1L160.0 48.6L159.0 47.4L158.3 48.0L158.8 49.2L159.7 50.2L161.1 51.8L160.5 52.9L160.5 54.0L159.0 53.8L157.1 52.8L155.9 52.4L155.0 51.5L156.7 50.7L157.6 50.3L156.7 49.6L155.5 49.6L155.0 48.5L154.2 47.6L154.8 45.7L155.1 43.7L156.3 42.5L157.6 42.0L158.4 40.9L157.5 40.2L156.8 39.2L155.3 38.2L153.8 38.9L152.7 40.7L152.7 41.9L152.4 43.2L150.6 43.2L149.5 43.1L148.4 42.8L146.3 43.2L144.6 42.4L142.9 41.4L141.4 40.7L139.8 40.9L138.6 40.7L137.5 40.9L136.3 40.6L135.0 41.0L133.6 41.2L132.5 41.8L131.2 42.0L130.7 43.1L129.7 43.7L128.9 44.6L127.7 44.9L126.3 46.3L127.2 47.4L127.3 48.9L128.3 50.4L128.0 51.5L128.4 52.6L127.0 52.5L125.7 52.1L124.4 51.9L123.4 52.7L122.2 52.7L120.0 52.7L118.6 52.2L117.5 51.2L115.6 50.3L114.1 49.5L112.9 49.2L112.2 48.3L111.5 47.5L110.3 48.6L108.9 49.3L108.1 50.1L106.9 50.0L105.8 49.7L104.4 49.2L103.0 49.6L103.7 48.2L104.9 48.1L105.8 47.3L105.7 46.3L106.9 46.1L108.0 45.3L109.4 44.9L110.7 44.3L112.1 43.4L112.9 42.0L113.8 40.6L113.8 39.1L114.2 37.6L114.5 36.1L114.7 35.2L113.3 35.8L112.1 36.7L110.2 37.1L109.2 38.3L107.7 38.8L106.0 40.2L106.4 41.1L105.9 42.1L105.9 43.3L104.4 44.8L103.3 45.3L102.0 45.7L100.9 45.7L99.7 46.0L98.6 46.4L97.7 47.1L96.5 47.4L95.3 47.9L94.0 47.1L92.7 47.8L91.5 47.5L91.7 49.4L92.5 50.2L93.2 51.1L92.2 51.7L90.9 52.6L89.5 52.2L88.2 52.0L87.1 51.7L85.9 51.2L84.8 52.9L84.1 53.8L85.5 55.2L86.5 55.8L87.8 56.1L88.7 57.0L89.9 57.1L90.8 57.9L92.3 58.3L93.6 59.2L95.0 59.4L96.4 59.3L97.9 60.2L99.4 60.2L100.9 60.6L101.1 62.5L102.2 63.4L103.4 64.2L104.4 65.1L105.3 65.6L105.6 67.1L106.2 68.0L107.4 68.3L108.4 69.1L109.6 68.6L110.1 69.8L109.9 71.0L111.1 70.9L112.2 71.3L113.7 71.6L112.7 72.6L112.5 73.9L111.8 74.7L112.4 76.2L113.8 77.0L113.5 78.5L113.9 79.5L114.3 80.6L115.9 81.7L115.0 82.5L114.1 81.4L112.5 81.6L110.7 82.5L110.6 83.8L109.6 84.7L109.6 86.0L110.4 87.0L111.7 87.1L112.7 88.5L113.1 90.0L113.8 91.0L114.4 92.0L116.1 92.2L116.6 93.5L116.4 94.9L118.4 95.3L119.2 94.4L120.4 94.3L119.7 95.4L118.6 96.0L117.8 96.0L118.1 97.1L119.9 97.3L118.6 98.0L117.0 98.1L118.4 98.5L119.7 98.8L120.9 99.7L122.2 100.0L123.4 100.6L124.5 101.4L125.8 101.8L124.3 101.7L123.4 100.9L122.2 100.7L121.0 100.1L119.7 100.1L118.5 99.6L116.9 99.5L115.3 99.2L115.9 100.0L116.5 101.0L117.1 102.0L118.9 102.9L120.3 103.3L122.0 103.3L120.6 104.1L121.4 103.8L120.6 104.7L119.8 105.6L118.8 106.3L117.3 106.1L118.5 106.9L119.2 108.2L118.9 109.5L118.2 110.7L118.4 112.0L117.1 112.0L116.1 112.8L115.7 114.9L114.0 115.3L115.1 115.3L116.1 116.2L116.5 117.4L116.6 118.6L115.2 119.4L116.3 120.7L116.4 121.4L114.8 122.7L113.4 122.0L112.3 121.9L111.2 121.8L110.4 121.6L110.1 121.1L111.7 121.1L112.8 120.6L113.9 119.9L115.5 118.9L114.1 117.3L112.3 116.6L110.8 116.7L109.4 117.4L107.3 117.7L105.8 117.3L103.8 117.5L102.9 118.1L102.1 119.4L101.2 120.9L100.6 122.3L99.5 123.4L99.6 124.9L99.1 126.7L99.0 128.0L98.6 129.1L97.5 130.9L96.3 132.3L94.9 133.9L94.7 135.9L95.0 137.4L95.5 138.9L96.4 140.2L97.6 140.2L98.9 138.6L99.4 137.3L99.9 138.3L100.5 139.2L101.1 140.0L102.3 141.6L102.9 143.0L104.1 142.9L105.2 141.3L105.3 139.3L104.9 137.5L105.9 136.0L104.6 134.6L104.0 132.8L104.1 131.3L104.6 129.9L104.8 128.5L105.1 127.2L106.3 125.4L107.4 126.7L107.1 127.9L106.7 129.1L106.3 130.9L107.3 132.6L108.6 133.8L109.9 133.7L111.1 133.0L111.7 131.8L112.9 131.8L113.9 131.1L113.2 132.9L111.9 133.1L110.9 133.9L109.9 134.8L110.4 135.8L111.4 136.5L111.7 137.7L110.2 137.5L109.4 138.8L109.8 140.1L110.1 140.8L109.8 142.2L109.2 142.9L108.1 142.7L106.5 143.6L105.6 144.5L104.4 144.7L102.4 145.4L101.2 145.2L100.4 145.1L100.1 144.4L100.3 142.6L99.7 141.6L100.0 140.4L98.5 141.4L98.2 142.6L98.3 143.7L98.4 145.0L99.1 146.1L98.2 146.9L96.7 147.3L95.5 148.7L94.4 150.3L93.4 150.9L92.5 151.3L92.4 152.5L91.0 153.1L90.6 153.5L89.1 153.1L89.0 154.5L87.5 154.6L85.6 154.6L85.9 155.7L87.9 156.6L88.7 157.4L89.4 158.2L89.4 160.0L89.1 161.0L88.9 162.1L87.5 162.6L86.1 162.2L84.8 162.0L83.6 161.7L82.3 161.1L80.9 161.3L79.1 162.1L79.4 164.2L79.0 166.3L77.9 168.0L78.7 169.1L78.3 170.5L80.4 170.7L81.9 171.5L82.8 172.5L84.6 171.7L86.1 171.7L87.7 171.8L88.6 170.9L89.8 170.6L91.1 169.1ZM144.9 134.1L144.7 135.3L146.0 135.4L147.3 135.0L148.6 135.1L149.7 135.2L150.7 135.9L152.2 136.3L153.7 136.6L154.9 137.4L156.0 138.3L155.2 139.4L154.6 140.6L153.5 141.6L152.7 142.7L151.4 142.9L150.1 142.5L149.1 141.6L148.7 140.2L146.7 139.7L145.4 140.0L144.3 139.6L142.8 138.6L142.1 137.7L141.4 136.9L140.8 135.0L141.6 133.4L142.5 132.6L143.0 131.5L144.2 131.0L145.1 131.9L146.2 132.2L145.9 133.4ZM126.6 148.3L127.7 148.8L128.9 148.7L130.0 148.9L130.8 146.9L131.7 146.1L133.3 146.2L134.6 145.7L136.0 145.3L137.4 145.4L138.8 145.8L140.0 146.4L139.2 147.4L138.1 148.3L137.5 149.5L136.1 149.7L135.1 150.6L133.5 150.7L132.3 151.3L131.5 152.2L131.1 153.4L130.4 154.3L129.4 155.1L128.3 155.8L126.9 156.0L125.1 155.5L125.0 153.5L125.0 152.1L124.9 150.6L125.1 149.0L125.3 148.2ZM131.7 145.9L130.7 146.8L129.5 146.0L130.3 144.9L131.0 143.6L131.9 142.4L132.0 143.6L132.2 144.8ZM78.0 125.8L76.4 124.7L74.9 125.7L74.9 126.9L75.0 128.6L76.4 129.3L77.6 130.2L78.0 130.2L79.4 130.2L80.7 129.7L81.8 128.1L81.2 127.1L80.7 126.2L79.3 126.4ZM102.3 142.2L101.9 142.8L102.4 143.3ZM92.5 148.3L91.0 147.4L90.2 145.9L89.2 145.2L88.9 143.9L88.3 143.0L89.2 141.4L87.7 141.1L88.2 139.7L86.5 139.7L85.7 141.1L85.7 143.0L85.4 144.4L86.1 145.3L87.5 145.2L87.7 146.3L87.8 147.6L86.2 147.4L86.1 148.3L85.6 149.4L85.5 150.0L87.2 150.1L86.4 150.7L85.7 151.6L84.7 152.2L85.9 152.0L87.1 151.6L89.2 151.6L91.1 151.4L92.3 151.0L92.1 149.9ZM81.2 145.4L80.9 146.9L80.2 148.4L80.7 149.5L82.0 149.6L83.0 148.9L84.3 149.0L84.8 147.1L85.5 145.5L83.9 144.3L82.5 144.8ZM137.6 158.9L136.2 159.8L135.3 161.1L135.9 161.6L137.6 160.6ZM102.7 164.2L103.1 163.1L102.6 161.9L101.7 162.2L101.8 163.5ZM123.9 166.7L123.9 167.0L125.1 166.8L126.2 166.4L127.3 165.9L127.6 165.3L126.3 165.6L125.2 166.3ZM101.6 165.7L102.2 166.8L102.3 167.9L103.8 167.4L103.3 166.1L103.6 164.8L102.7 164.5ZM107.9 167.9L108.9 169.0L110.4 169.3L111.9 169.1L112.1 167.9L112.0 166.7L110.7 167.5L109.4 167.9Z" fill-rule="evenodd"/>
<path id="baseP" d="M73.0 45.2L71.7 45.9L71.8 44.4L71.9 42.9L72.4 41.6L73.8 41.1L74.2 39.8L75.5 38.9L76.3 37.6L75.3 38.6L74.0 39.1L73.0 39.8L72.2 40.7L71.4 41.6L70.6 42.5L70.0 43.5L69.8 44.8L69.5 46.2L69.2 47.6L69.4 48.8L69.5 50.0L69.5 50.3L70.0 50.0L79.6 47.2L79.2 46.6L78.3 45.8L77.0 45.8L75.7 44.8L74.4 45.2ZM65.7 52.5L68.2 51.1L68.1 50.5L68.5 49.2L67.6 48.9L66.5 49.7L65.8 50.9ZM57.1 54.7L56.3 54.4L55.2 54.4L54.1 54.5L53.0 54.9L51.7 55.4L50.3 55.6L49.2 55.4L48.3 54.5L46.8 54.1L45.3 54.6L43.5 54.5L43.1 53.3L41.7 53.2L40.5 53.4L39.2 53.5L38.0 54.3L36.8 53.7L34.9 53.1L34.1 52.1L33.2 51.2L32.2 50.5L31.1 50.0L30.1 49.4L29.3 48.4L28.2 48.0L26.9 47.6L25.7 47.4L24.3 47.6L23.7 48.1L21.8 47.9L20.6 47.5L19.4 48.1L18.2 48.0L17.1 48.7L16.4 49.9L15.7 50.4L13.7 51.2L12.2 51.3L10.9 51.1L9.5 51.2L9.3 51.6L9.1 52.1L8.8 52.7L8.6 53.2L8.5 53.3L9.7 53.7L11.0 53.9L9.5 55.5L8.4 55.3L7.5 55.7L7.5 55.7L7.3 56.2L7.1 56.7L6.9 57.2L6.7 57.7L6.5 58.3L6.3 58.8L6.1 59.3L5.9 59.8L5.7 60.3L5.5 60.9L5.3 61.4L5.1 61.9L5.0 62.4L4.8 63.0L4.6 63.5L4.5 64.0L4.3 64.6L4.1 65.1L4.0 65.6L3.8 66.2L3.7 66.7L3.5 67.2L3.4 67.8L3.2 68.3L3.1 68.8L3.0 69.4L2.8 69.9L2.7 70.5L2.6 71.0L2.5 71.5L2.4 72.1L2.2 72.6L2.1 73.2L2.0 73.7L1.9 74.3L1.8 74.8L1.7 75.3L1.6 75.9L1.5 76.4L1.5 77.0L1.4 77.5L1.3 78.1L1.2 78.6L1.1 79.2L1.1 79.7L1.0 80.3L1.0 80.8L0.9 81.4L0.8 81.9L0.8 82.5L0.7 83.0L0.7 83.6L0.6 84.1L0.6 84.7L0.6 85.3L0.5 85.8L0.5 86.4L0.5 86.9L0.5 87.5L0.4 88.0L0.4 88.6L0.4 89.1L0.4 89.7L0.4 90.2L0.4 90.8L0.4 91.4L0.4 91.7L1.0 91.6L1.1 92.8L0.9 93.9L0.6 95.2L1.1 96.3L0.6 97.4L0.6 97.5L0.7 98.0L0.7 98.6L0.8 99.1L0.8 99.7L0.9 100.2L1.0 100.8L1.0 101.3L1.1 101.9L1.1 102.4L1.2 103.0L1.3 103.5L1.4 104.1L1.5 104.6L2.4 104.2L4.3 104.8L5.6 106.0L6.6 107.2L7.5 108.5L8.4 109.4L9.1 110.4L10.2 111.6L11.4 111.1L12.4 110.4L12.8 110.4L14.0 110.4L14.9 111.1L15.5 111.1L16.6 111.8L18.2 111.6L19.2 113.4L20.6 115.0L21.3 116.1L21.5 115.3L22.3 114.8L23.6 115.0L24.8 116.1L26.0 116.9L27.1 117.8L28.1 119.1L28.7 120.7L27.7 120.1L26.9 119.2L25.8 120.3L26.8 121.5L28.2 122.0L29.1 122.9L30.0 123.8L30.7 124.2L32.5 124.7L33.1 123.6L31.3 123.5L30.5 122.2L30.2 120.4L30.7 118.8L32.1 118.2L34.0 118.1L33.5 116.8L32.4 115.9L31.8 114.6L30.5 113.0L31.9 114.0L33.1 114.7L34.4 115.3L34.6 116.5L35.8 117.2L35.8 118.5L36.6 119.4L37.3 120.4L37.5 121.6L38.7 122.2L39.8 122.8L40.9 123.4L42.8 123.6L43.5 122.3L43.7 120.8L43.6 119.6L44.0 118.4L44.3 117.0L45.1 115.9L46.0 115.1L46.5 114.1L47.2 113.2L47.5 112.6L43.0 110.0L44.4 100.9L44.3 100.9L42.8 101.0L41.8 101.6L41.1 102.4L40.1 103.0L38.9 102.3L37.9 101.3L36.6 100.8L35.3 101.7L33.8 102.1L32.8 101.2L31.7 100.7L33.1 100.0L34.0 98.8L35.1 98.8L36.2 98.5L37.2 98.0L37.2 96.7L38.2 95.6L37.7 94.1L38.5 93.0L38.7 91.7L39.0 90.1L39.5 88.6L40.7 87.5L42.3 87.2L43.5 87.2L44.6 87.7L45.8 87.6L46.5 88.3L52.0 70.0L58.0 57.0L65.1 52.8L64.5 52.9L63.5 53.2L61.8 54.3L59.9 54.6L58.5 54.5ZM57.1 107.4L55.9 106.7L57.1 107.4L58.3 108.1ZM65.3 94.9L65.2 95.0L65.5 95.7L66.0 96.7L65.7 95.7ZM39.1 123.9L37.7 124.0L35.9 123.8L34.6 124.2L35.0 125.3L35.6 126.2L36.4 127.1L36.2 128.2L36.8 129.7L37.3 130.9L38.7 130.5L39.3 129.6L40.4 127.8L39.5 126.1L40.1 125.0L41.8 124.5L40.5 124.1ZM68.5 45.1L68.7 44.5L67.6 46.3L68.6 46.2ZM78.7 96.3L77.9 96.2L78.7 96.5L80.0 96.8ZM80.0 95.6L80.0 96.8L80.1 95.6L80.4 94.6ZM79.2 92.6L79.3 93.2L79.3 92.5L78.2 91.9ZM74.7 90.1L75.9 89.5L74.7 89.9L73.5 90.5ZM67.1 92.2L67.1 92.2L67.0 92.4L66.4 93.6L66.8 94.8L67.2 93.6L67.2 92.4L67.1 92.4ZM74.3 92.0L75.7 91.6L76.5 90.7L76.1 91.0L75.1 91.5L74.5 91.7ZM72.8 120.7L72.2 121.0L72.8 121.1L74.1 121.0ZM84.4 109.0L84.3 110.2L84.8 109.1L84.9 107.9ZM85.3 106.7L84.9 107.9L85.9 107.1L86.2 105.9ZM86.8 104.7L86.2 105.9L87.1 104.8L87.2 103.4ZM82.6 98.9L81.6 98.2L80.5 98.0L81.6 98.3L82.5 99.2L83.7 99.3ZM76.9 97.7L78.3 97.5L76.9 97.6L75.6 97.3ZM70.2 104.5L70.3 103.8L69.7 104.2L69.3 105.3ZM68.3 106.5L69.3 105.3L68.0 106.2L66.8 107.3ZM61.5 113.0L62.4 111.7L61.4 112.9L60.1 113.8ZM59.5 116.0L59.3 114.8L59.0 115.8L58.6 116.9ZM58.1 118.0L58.6 116.9L58.0 117.9L58.0 118.2ZM61.9 123.2L60.7 123.6L61.9 123.2L62.8 122.4ZM139.9 29.1L138.7 29.4L138.0 30.4L137.6 31.5L137.2 32.7L139.3 33.0L140.2 31.9L141.1 31.1L142.3 30.7L143.5 31.0L144.6 31.6L145.7 32.1L147.5 32.1L148.4 32.8L149.2 33.5L150.6 33.5L151.3 34.3L152.9 34.8L154.4 35.5L154.9 35.1L153.8 34.5L153.3 33.3L152.0 32.9L151.4 31.8L150.3 31.3L150.5 29.4L149.1 29.6L147.8 29.2L146.8 28.6L146.2 27.6L145.1 26.9L143.9 26.6L142.2 27.7L141.1 28.6ZM152.2 32.6L154.2 32.7L154.2 31.9L152.3 30.9L151.0 31.4ZM136.8 35.0L138.0 34.8L138.5 33.9L137.2 34.1L135.9 33.8L134.3 32.4L133.4 31.7L132.1 32.1L131.1 31.5L130.9 33.0L131.8 33.8L132.3 34.8L132.6 35.9L133.1 37.0L134.2 36.5L135.1 35.8L135.7 34.8ZM155.1 35.1L157.0 36.1L157.6 34.3L158.5 33.0L156.4 32.7L154.8 34.0ZM128.3 43.5L128.9 42.1L130.0 41.0L130.7 39.7L131.5 38.9L132.2 38.2L132.5 37.4L130.6 37.1L130.6 38.2L130.2 39.3L129.3 40.6L127.8 41.3L127.1 42.6L126.1 43.7L125.3 45.0L124.4 46.2L124.6 46.9L125.6 46.3L126.2 45.2L127.3 44.6ZM111.2 103.7L110.3 102.7L110.7 104.0L111.5 105.1ZM112.1 106.1L111.5 105.1L112.1 106.1L112.2 107.3ZM94.7 108.1L94.0 107.0L94.4 108.2L95.2 109.2ZM97.4 162.2L98.8 162.3L100.0 161.3L101.0 160.6L101.8 160.0L103.5 160.7L105.0 162.4L106.3 162.9L107.6 163.4L109.5 164.0L111.5 164.4L112.3 165.4L113.5 165.0L112.6 164.5L114.2 163.4L115.0 163.6L114.0 162.7L112.7 162.1L111.2 161.6L110.1 160.7L108.7 160.6L107.4 160.1L105.7 159.1L105.4 157.8L106.8 157.1L107.4 158.3L108.5 159.0L109.8 158.9L111.0 159.3L112.2 159.6L113.4 159.9L115.3 160.3L116.0 162.3L117.4 163.0L118.2 163.6L120.0 163.0L121.1 162.7L121.0 162.7L120.0 160.9L121.2 160.0L122.2 159.0L124.0 158.2L124.6 159.2L124.9 160.0L125.7 161.3L126.0 161.5L133.4 159.6L134.2 159.2L134.7 159.3L135.9 159.0L136.3 158.6L136.8 157.4L137.6 156.6L138.8 156.4L139.0 157.6L139.4 158.1L140.0 158.0L156.0 150.0L162.7 143.3L156.0 146.0L153.7 141.4L153.5 141.6L152.7 142.7L151.4 142.9L150.1 142.5L149.1 141.6L148.7 140.2L146.7 139.7L145.4 140.0L144.3 139.6L142.8 138.6L142.1 137.7L141.4 136.9L140.8 135.0L141.6 133.4L142.5 132.6L143.0 131.5L144.2 131.0L145.1 131.9L146.2 132.2L145.9 133.4L144.9 134.1L144.7 135.3L146.0 135.4L147.3 135.0L148.6 135.1L149.7 135.2L150.7 135.9L151.0 136.0L150.0 134.0L150.0 118.0L160.0 116.0L168.0 124.0L166.2 139.8L167.7 138.3L167.8 138.2L168.1 137.7L168.3 137.3L168.6 136.8L168.9 136.3L169.2 135.8L169.5 135.4L169.7 134.9L170.0 134.4L170.3 133.9L170.5 133.4L170.8 132.9L171.0 132.4L171.3 131.9L171.5 131.4L171.8 130.9L172.0 130.5L172.3 130.0L172.5 129.5L172.8 128.9L173.0 128.4L173.2 127.9L173.4 127.4L173.7 126.9L173.9 126.4L174.1 125.9L174.3 125.4L174.5 124.9L174.7 124.4L174.9 123.9L175.1 123.3L175.3 122.8L175.5 122.3L175.7 121.8L175.9 121.3L176.1 120.7L176.3 120.2L176.5 119.7L176.6 119.2L176.8 118.6L177.0 118.1L177.1 117.6L177.3 117.0L177.5 116.5L177.6 116.0L177.8 115.4L177.9 114.9L178.1 114.4L178.2 113.8L178.4 113.3L178.5 112.8L178.6 112.2L178.8 111.7L178.9 111.1L179.0 110.6L179.1 110.1L179.2 109.5L179.4 109.0L179.5 108.4L179.6 107.9L179.7 107.3L179.8 106.8L179.9 106.3L180.0 105.7L180.1 105.2L180.1 104.6L180.2 104.1L180.3 103.5L180.4 103.0L180.5 102.4L180.5 101.9L180.6 101.3L180.6 100.8L180.7 100.5L172.0 104.0L160.0 96.0L152.0 84.0L152.0 62.0L162.0 60.0L176.0 64.0L179.5 73.3L179.5 73.2L179.4 72.6L179.2 72.1L179.1 71.5L179.0 71.0L178.9 70.5L178.8 69.9L178.6 69.4L178.5 68.8L178.4 68.3L178.2 67.8L178.1 67.2L177.9 66.7L177.8 66.2L177.6 65.6L177.5 65.1L177.3 64.6L177.1 64.0L177.0 63.5L176.8 63.0L176.6 62.4L176.5 61.9L176.3 61.4L176.1 60.9L175.9 60.3L175.7 59.8L175.5 59.3L175.3 58.8L175.1 58.3L174.9 57.7L174.7 57.2L174.5 56.7L174.3 56.2L174.1 55.7L173.9 55.2L173.7 54.7L173.4 54.2L173.2 53.7L173.0 53.2L172.8 52.7L172.5 52.1L172.3 51.6L172.0 51.1L171.8 50.7L171.5 50.2L171.3 49.7L171.0 49.2L170.8 48.7L170.5 48.2L170.3 47.7L170.0 47.2L169.7 46.7L169.5 46.2L169.2 45.8L168.9 45.3L168.6 44.8L168.3 44.3L168.1 43.9L167.8 43.4L167.5 42.9L167.5 42.9L166.9 43.3L165.9 44.2L165.3 46.0L164.5 46.8L164.1 48.0L163.5 49.7L161.5 49.1L160.0 48.6L159.0 47.4L158.3 48.0L158.8 49.2L159.7 50.2L161.1 51.8L160.5 52.9L160.5 54.0L159.0 53.8L157.1 52.8L155.9 52.4L155.0 51.5L156.7 50.7L157.6 50.3L156.7 49.6L155.5 49.6L155.0 48.5L154.2 47.6L154.8 45.7L155.1 43.7L156.3 42.5L157.6 42.0L158.4 40.9L157.5 40.2L156.8 39.2L155.3 38.2L153.8 38.9L152.7 40.7L152.7 41.9L152.4 43.2L150.6 43.2L149.5 43.1L148.4 42.8L146.3 43.2L144.6 42.4L142.9 41.4L141.4 40.7L139.8 40.9L138.6 40.7L137.5 40.9L136.3 40.6L135.0 41.0L133.6 41.2L132.5 41.8L131.2 42.0L130.7 43.1L129.7 43.7L128.9 44.6L127.7 44.9L126.3 46.3L127.2 47.4L127.3 48.9L128.3 50.4L128.0 51.5L128.4 52.6L127.0 52.5L125.7 52.1L124.4 51.9L123.4 52.7L122.2 52.7L120.0 52.7L118.6 52.2L117.5 51.2L115.6 50.3L114.1 49.5L112.9 49.2L112.2 48.3L111.5 47.5L110.3 48.6L108.9 49.3L108.1 50.1L106.9 50.0L105.8 49.7L104.4 49.2L103.0 49.6L103.7 48.2L104.9 48.1L105.8 47.3L105.7 46.3L106.9 46.1L108.0 45.3L109.4 44.9L110.7 44.3L112.1 43.4L112.9 42.0L113.8 40.6L113.8 39.1L114.2 37.6L114.5 36.1L114.7 35.2L113.3 35.8L112.1 36.7L110.2 37.1L109.2 38.3L107.7 38.8L106.0 40.2L106.4 41.1L105.9 42.1L105.9 43.3L104.4 44.8L103.3 45.3L102.0 45.7L100.9 45.7L99.7 46.0L98.6 46.4L97.7 47.1L96.5 47.4L95.3 47.9L94.0 47.1L92.7 47.8L91.5 47.5L91.7 49.4L92.5 50.2L93.2 51.1L92.2 51.7L90.9 52.6L89.5 52.2L88.2 52.0L87.1 51.7L86.8 51.6L89.5 57.1L89.9 57.1L90.8 57.9L92.3 58.3L93.6 59.2L94.8 59.4L92.0 53.0L104.0 56.0L112.0 66.0L118.0 78.0L121.0 92.0L123.1 100.4L123.4 100.6L124.5 101.4L125.8 101.8L124.3 101.7L123.4 100.9L123.2 100.8L124.0 104.0L119.0 107.8L119.2 108.2L118.9 109.5L118.2 110.7L118.4 112.0L117.1 112.0L116.1 112.8L115.7 114.9L114.0 115.3L115.1 115.3L116.1 116.2L116.5 117.4L116.6 118.6L115.2 119.4L116.3 120.7L116.4 121.4L114.8 122.7L113.4 122.0L112.3 121.9L111.2 121.8L110.4 121.6L110.1 121.1L111.7 121.1L112.8 120.6L113.9 119.9L115.5 118.9L114.1 117.3L112.3 116.6L110.8 116.7L109.4 117.4L107.3 117.7L105.8 117.3L105.0 117.4L110.0 124.0L108.8 133.7L109.9 133.7L111.1 133.0L111.7 131.8L112.9 131.8L113.9 131.1L113.2 132.9L111.9 133.1L110.9 133.9L109.9 134.8L110.4 135.8L111.4 136.5L111.7 137.7L110.2 137.5L109.4 138.8L109.8 140.1L110.1 140.8L109.8 142.2L109.2 142.9L108.1 142.7L106.5 143.6L105.6 144.5L104.4 144.7L102.4 145.4L101.2 145.2L101.1 145.2L100.0 146.0L98.3 143.1L98.3 143.7L98.4 145.0L99.1 146.1L98.2 146.9L96.7 147.3L95.5 148.7L94.4 150.3L93.4 150.9L92.5 151.3L92.4 152.5L91.0 153.1L90.6 153.5L89.1 153.1L89.0 154.5L87.5 154.6L85.6 154.6L85.9 155.7L87.9 156.6L88.7 157.4L89.4 158.2L89.4 160.0L89.1 161.0L88.9 162.1L87.5 162.6L86.1 162.2L84.8 162.0L83.6 161.7L82.3 161.1L80.9 161.3L79.1 162.1L79.4 164.2L79.0 166.3L77.9 168.0L78.7 169.1L78.3 170.5L80.4 170.7L81.9 171.5L82.8 172.5L84.6 171.7L86.1 171.7L87.7 171.8L88.6 170.9L89.8 170.6L91.1 169.1L90.4 168.1L91.5 166.5L93.1 165.5L94.3 164.9L94.9 163.8L95.2 162.3L96.3 162.1ZM134.6 145.7L136.0 145.3L137.4 145.4L138.8 145.8L140.0 146.4L139.2 147.4L138.1 148.3L137.5 149.5L136.1 149.7L135.1 150.6L133.5 150.7L132.3 151.3L131.5 152.2L131.1 153.4L130.4 154.3L129.4 155.1L128.3 155.8L126.9 156.0L125.1 155.5L125.0 153.5L125.0 152.1L124.9 150.6L125.1 149.0L125.3 148.2L126.6 148.3L127.7 148.8L128.9 148.7L130.0 148.9L130.8 146.9L131.7 146.1L133.3 146.2ZM132.2 144.8L131.7 145.9L130.7 146.8L129.5 146.0L130.3 144.9L131.0 143.6L131.9 142.4L132.0 143.6ZM95.5 138.9L96.4 140.2L96.5 140.2L95.2 137.9ZM100.4 171.1L99.1 171.2L97.9 171.4L96.4 171.4L95.0 171.8L93.5 171.8L92.2 172.6L90.8 173.1L89.4 173.6L88.2 173.6L87.2 173.9L85.7 173.8L84.3 173.6L83.0 172.8L82.2 172.7L81.5 173.9L80.7 175.1L79.5 175.6L78.1 176.1L76.9 176.9L75.8 177.9L75.7 179.2L75.2 179.8L75.3 179.9L75.9 180.0L76.4 180.1L77.0 180.1L77.5 180.2L78.1 180.3L78.6 180.4L79.2 180.5L79.7 180.5L80.3 180.6L80.8 180.6L81.4 180.7L81.9 180.8L82.5 180.8L83.0 180.9L83.6 180.9L84.1 181.0L84.7 181.0L85.3 181.0L85.8 181.1L86.4 181.1L86.9 181.1L87.5 181.1L88.0 181.2L88.6 181.2L89.1 181.2L89.7 181.2L90.2 181.2L90.8 181.2L91.4 181.2L91.9 181.2L92.5 181.2L93.0 181.2L93.6 181.2L94.1 181.1L94.7 181.1L95.2 181.1L95.8 181.1L96.3 181.0L96.9 181.0L97.5 181.0L98.0 180.9L98.6 180.9L99.1 180.8L99.7 180.8L100.2 180.7L100.8 180.6L100.8 180.6L103.4 170.4L102.9 170.7L101.6 170.6ZM76.4 129.3L75.0 128.6L76.4 129.3L77.6 130.2ZM79.4 130.0L78.0 130.2L79.4 130.2L80.7 129.7ZM87.7 141.1L88.2 139.7L86.5 139.7L85.7 141.1L85.7 143.0L85.4 144.4L86.1 145.3L87.5 145.2L87.7 146.3L87.8 147.6L86.2 147.4L86.1 148.3L85.6 149.4L85.5 150.0L87.2 150.1L86.4 150.7L85.7 151.6L84.7 152.2L85.9 152.0L87.1 151.6L89.2 151.6L91.1 151.4L92.3 151.0L92.1 149.9L92.5 148.3L91.0 147.4L90.2 145.9L89.2 145.2L88.9 143.9L88.3 143.0L89.2 141.4ZM84.8 147.1L85.5 145.5L83.9 144.3L82.5 144.8L81.2 145.4L80.9 146.9L80.2 148.4L80.7 149.5L82.0 149.6L83.0 148.9L84.3 149.0ZM102.6 161.9L101.7 162.2L101.8 163.5L102.7 164.2L103.1 163.1ZM101.6 165.7L102.2 166.8L102.3 167.9L103.8 167.4L103.3 166.1L103.6 164.8L102.7 164.5Z" fill-rule="evenodd"/>
<clipPath id="dataClip"><path d="M66.9 70.0L67.6 68.0L67.9 67.1L69.2 66.8L70.7 65.9L71.9 65.9L72.9 65.2L74.4 64.6L76.4 63.8L77.8 63.6L79.2 63.8L80.4 62.2L81.5 60.3L82.9 58.7L83.0 57.7L82.1 56.9L81.1 56.6L80.0 56.3L81.5 54.9L82.9 53.4L81.8 53.2L80.4 52.1L79.3 53.0L77.8 53.1L78.1 51.7L79.6 50.4L79.8 49.2L80.1 48.1L79.2 46.6L78.3 45.8L77.0 45.8L75.7 44.8L74.4 45.2L73.0 45.2L71.7 45.9L71.8 44.4L71.9 42.9L72.4 41.6L73.8 41.1L74.2 39.8L75.5 38.9L76.3 37.6L75.3 38.6L74.0 39.1L73.0 39.8L72.2 40.7L71.4 41.6L70.6 42.5L70.0 43.5L69.8 44.8L69.5 46.2L69.2 47.6L69.4 48.8L69.5 50.0L69.3 51.2L68.3 51.9L68.1 50.5L68.5 49.2L67.6 48.9L66.5 49.7L65.8 50.9L65.6 52.8L64.5 52.9L63.5 53.2L61.8 54.3L59.9 54.6L58.5 54.5L57.1 54.7L56.3 54.4L55.2 54.4L54.1 54.5L53.0 54.9L51.7 55.4L50.3 55.6L49.2 55.4L48.3 54.5L46.8 54.1L45.3 54.6L43.5 54.5L43.1 53.3L41.7 53.2L40.5 53.4L39.2 53.5L38.0 54.3L36.8 53.7L34.9 53.1L34.1 52.1L33.2 51.2L32.2 50.5L31.1 50.0L30.1 49.4L29.3 48.4L28.2 48.0L26.9 47.6L25.7 47.4L24.3 47.6L23.7 48.1L21.8 47.9L20.6 47.5L19.4 48.1L18.2 48.0L17.1 48.7L16.4 49.9L15.7 50.4L13.7 51.2L12.2 51.3L10.9 51.1L9.5 51.2L9.3 51.6L9.1 52.1L8.8 52.7L8.6 53.2L8.5 53.3L9.7 53.7L11.0 53.9L9.5 55.5L8.4 55.3L7.5 55.7L7.5 55.7L7.3 56.2L7.1 56.7L6.9 57.2L6.7 57.7L6.5 58.3L6.3 58.8L6.1 59.3L5.9 59.8L5.7 60.3L5.5 60.9L5.3 61.4L5.1 61.9L5.0 62.4L4.8 63.0L4.6 63.5L4.5 64.0L4.3 64.6L4.1 65.1L4.0 65.6L3.8 66.2L3.7 66.7L3.5 67.2L3.4 67.8L3.2 68.3L3.1 68.8L3.0 69.4L2.8 69.9L2.7 70.5L2.6 71.0L2.5 71.5L2.4 72.1L2.2 72.6L2.1 73.2L2.0 73.7L1.9 74.3L1.8 74.8L1.7 75.3L1.6 75.9L1.5 76.4L1.5 77.0L1.4 77.5L1.3 78.1L1.2 78.6L1.1 79.2L1.1 79.7L1.0 80.3L1.0 80.8L0.9 81.4L0.8 81.9L0.8 82.5L0.7 83.0L0.7 83.6L0.6 84.1L0.6 84.7L0.6 85.3L0.5 85.8L0.5 86.4L0.5 86.9L0.5 87.5L0.4 88.0L0.4 88.6L0.4 89.1L0.4 89.7L0.4 90.2L0.4 90.8L0.4 91.4L0.4 91.7L1.0 91.6L1.1 92.8L0.9 93.9L0.6 95.2L1.1 96.3L0.6 97.4L0.6 97.5L0.7 98.0L0.7 98.6L0.8 99.1L0.8 99.7L0.9 100.2L1.0 100.8L1.0 101.3L1.1 101.9L1.1 102.4L1.2 103.0L1.3 103.5L1.4 104.1L1.5 104.6L2.4 104.2L4.3 104.8L5.6 106.0L6.6 107.2L7.5 108.5L8.4 109.4L9.1 110.4L10.2 111.6L11.4 111.1L12.4 110.4L12.8 110.4L14.0 110.4L14.9 111.1L15.5 111.1L16.6 111.8L18.2 111.6L19.2 113.4L20.6 115.0L21.3 116.1L21.5 115.3L22.3 114.8L23.6 115.0L24.8 116.1L26.0 116.9L27.1 117.8L28.1 119.1L28.7 120.7L27.7 120.1L26.9 119.2L25.8 120.3L26.8 121.5L28.2 122.0L29.1 122.9L30.0 123.8L30.7 124.2L32.5 124.7L33.1 123.6L31.3 123.5L30.5 122.2L30.2 120.4L30.7 118.8L32.1 118.2L34.0 118.1L33.5 116.8L32.4 115.9L31.8 114.6L30.5 113.0L31.9 114.0L33.1 114.7L34.4 115.3L34.6 116.5L35.8 117.2L35.8 118.5L36.6 119.4L37.3 120.4L37.5 121.6L38.7 122.2L39.8 122.8L40.9 123.4L42.8 123.6L43.5 122.3L43.7 120.8L43.6 119.6L44.0 118.4L44.3 117.0L45.1 115.9L46.0 115.1L46.5 114.1L47.2 113.2L48.0 111.9L48.9 110.7L47.6 110.3L46.2 110.2L45.6 109.1L44.8 108.0L45.8 107.4L47.0 107.2L48.0 106.0L48.5 104.6L49.2 102.7L49.3 101.2L48.6 99.8L47.1 99.9L45.9 100.8L44.3 100.9L42.8 101.0L41.8 101.6L41.1 102.4L40.1 103.0L38.9 102.3L37.9 101.3L36.6 100.8L35.3 101.7L33.8 102.1L32.8 101.2L31.7 100.7L33.1 100.0L34.0 98.8L35.1 98.8L36.2 98.5L37.2 98.0L37.2 96.7L38.2 95.6L37.7 94.1L38.5 93.0L38.7 91.7L39.0 90.1L39.5 88.6L40.7 87.5L42.3 87.2L43.5 87.2L44.6 87.7L45.8 87.6L47.1 88.9L47.9 89.9L49.1 90.3L49.9 91.1L50.2 92.2L51.7 92.8L52.9 93.0L54.1 93.0L54.2 94.6L55.1 95.5L56.7 95.9L58.0 95.3L58.8 94.2L57.1 92.9L55.6 92.6L56.6 92.0L57.1 90.8L58.6 89.7L58.9 89.7L59.6 88.8L60.3 89.4L61.1 89.3L61.1 89.3L61.4 89.2L62.4 88.6L61.4 87.8L60.0 87.8L58.8 87.4L58.5 87.4L58.2 87.6L58.1 87.4L57.3 87.3L57.5 87.1L56.9 86.5L56.6 86.7L56.1 85.6L55.8 84.9L54.9 85.3L54.6 84.3L54.3 83.6L54.9 83.3L55.9 83.2L56.2 84.1L56.0 84.6L56.6 84.2L57.3 84.2L58.1 82.6L58.3 82.1L57.9 82.2L57.6 81.9L57.1 81.4L57.9 81.3L58.5 81.1L58.5 81.4L59.4 80.5L59.6 79.2L59.1 80.4L58.6 81.2L58.4 80.3L58.7 79.1L58.7 78.4L58.7 78.4L58.4 77.9L58.7 77.8L58.7 77.8L60.1 76.7L59.7 76.5L59.7 75.5L60.6 74.6L62.1 74.8L62.1 75.0L62.7 74.6L63.5 73.6L63.6 73.2L64.1 72.8L64.8 71.9L66.7 71.9L66.5 71.6L65.8 71.6L66.5 70.8ZM57.8 78.2L57.0 78.3L56.5 78.0L56.3 77.1L57.0 76.9L58.3 76.7L58.7 77.6ZM61.0 93.0L60.7 93.5L60.6 93.7L61.2 93.1L61.3 91.8ZM60.3 94.0L60.4 93.9L60.4 93.9ZM59.8 95.2L60.3 96.5L59.8 97.7L60.4 96.5L60.5 95.3L60.3 94.0ZM57.3 100.6L56.3 101.3L57.3 100.6L58.3 99.8ZM51.6 101.6L51.6 102.8L52.1 101.7L52.0 100.9ZM50.8 104.0L50.4 105.5L50.8 104.0L51.6 102.8ZM57.1 107.4L58.3 108.1L57.1 107.4L55.9 106.7ZM65.7 95.7L65.3 94.9L65.2 95.0L65.5 95.7L66.0 96.7ZM61.9 84.2L63.3 84.0L64.4 83.2L63.2 84.0L61.9 84.2L60.7 85.0ZM67.5 84.3L67.7 84.3L68.1 83.2L68.1 82.8L67.5 83.2ZM70.5 83.2L70.5 83.2L70.5 83.4ZM66.1 78.9L67.0 79.4L66.2 78.5L65.4 77.9L65.5 78.4L66.1 79.8ZM68.3 78.8L69.7 78.6L68.2 78.7L67.0 79.4ZM66.1 74.6L66.7 74.7L67.0 74.1ZM70.5 82.2L71.0 81.2L71.0 81.2L70.3 82.2L70.5 82.9L70.5 82.8ZM65.3 76.9L65.3 77.1L65.3 77.0ZM63.5 76.8L63.5 76.8L63.6 76.7ZM58.5 81.7L58.5 81.7L58.5 81.7L58.5 81.9ZM61.6 78.4L62.8 77.7L62.8 77.6L62.7 77.6ZM49.3 97.1L50.6 97.2L49.5 96.4L49.0 96.4L49.0 96.8ZM39.3 129.6L40.4 127.8L39.5 126.1L40.1 125.0L41.8 124.5L40.5 124.1L39.1 123.9L37.7 124.0L35.9 123.8L34.6 124.2L35.0 125.3L35.6 126.2L36.4 127.1L36.2 128.2L36.8 129.7L37.3 130.9L38.7 130.5ZM67.6 46.3L68.6 46.2L68.5 45.1L68.7 44.5ZM63.6 89.5L64.9 89.7L63.7 89.2L63.2 89.0L63.2 89.0L63.1 89.0L62.6 88.8ZM78.7 96.5L80.0 96.8L78.7 96.3L77.9 96.2ZM80.1 95.6L80.4 94.6L80.0 95.6L80.0 96.8ZM79.3 92.5L78.2 91.9L79.2 92.6L79.3 93.2ZM74.7 89.9L73.5 90.5L74.7 90.1L75.9 89.5ZM67.0 92.4L66.4 93.6L66.8 94.8L67.2 93.6L67.2 92.4L67.1 92.4L67.1 92.2L67.1 92.2ZM74.3 92.0L75.7 91.6L76.5 90.7L76.1 91.0L75.1 91.5L74.5 91.7ZM72.5 81.0L73.8 81.0L72.6 80.5L71.3 80.5ZM72.8 121.1L74.1 121.0L72.8 120.7L72.2 121.0ZM84.8 109.1L84.9 107.9L84.4 109.0L84.3 110.2ZM85.9 107.1L86.2 105.9L85.3 106.7L84.9 107.9ZM87.1 104.8L87.2 103.4L86.8 104.7L86.2 105.9ZM82.6 98.9L81.6 98.2L80.5 98.0L81.6 98.3L82.5 99.2L83.7 99.3ZM76.9 97.6L75.6 97.3L76.9 97.7L78.3 97.5ZM69.7 104.2L69.3 105.3L70.2 104.5L70.3 103.8ZM68.0 106.2L66.8 107.3L68.3 106.5L69.3 105.3ZM61.4 112.9L60.1 113.8L61.5 113.0L62.4 111.7ZM59.0 115.8L58.6 116.9L59.5 116.0L59.3 114.8ZM58.0 117.9L58.0 118.2L58.1 118.0L58.6 116.9ZM61.9 123.2L62.8 122.4L61.9 123.2L60.7 123.6ZM146.8 28.6L146.2 27.6L145.1 26.9L143.9 26.6L142.2 27.7L141.1 28.6L139.9 29.1L138.7 29.4L138.0 30.4L137.6 31.5L137.2 32.7L139.3 33.0L140.2 31.9L141.1 31.1L142.3 30.7L143.5 31.0L144.6 31.6L145.7 32.1L147.5 32.1L148.4 32.8L149.2 33.5L150.6 33.5L151.3 34.3L152.9 34.8L154.4 35.5L154.9 35.1L153.8 34.5L153.3 33.3L152.0 32.9L151.4 31.8L150.3 31.3L150.5 29.4L149.1 29.6L147.8 29.2ZM151.0 31.4L152.2 32.6L154.2 32.7L154.2 31.9L152.3 30.9ZM132.3 34.8L132.6 35.9L133.1 37.0L134.2 36.5L135.1 35.8L135.7 34.8L136.8 35.0L138.0 34.8L138.5 33.9L137.2 34.1L135.9 33.8L134.3 32.4L133.4 31.7L132.1 32.1L131.1 31.5L130.9 33.0L131.8 33.8ZM155.1 35.1L157.0 36.1L157.6 34.3L158.5 33.0L156.4 32.7L154.8 34.0ZM125.3 45.0L124.4 46.2L124.6 46.9L125.6 46.3L126.2 45.2L127.3 44.6L128.3 43.5L128.9 42.1L130.0 41.0L130.7 39.7L131.5 38.9L132.2 38.2L132.5 37.4L130.6 37.1L130.6 38.2L130.2 39.3L129.3 40.6L127.8 41.3L127.1 42.6L126.1 43.7ZM83.4 49.4L82.7 50.0L84.7 50.3L84.8 49.5ZM106.4 74.1L107.4 73.3L106.3 73.9L105.2 74.5ZM109.4 87.5L108.2 87.9L107.2 88.8L108.2 88.0ZM110.7 104.0L111.5 105.1L111.2 103.7L110.3 102.7ZM112.1 106.1L112.2 107.3L112.1 106.1L111.5 105.1ZM111.8 100.1L110.9 98.9L111.2 100.3L111.8 101.5ZM94.4 108.2L95.2 109.2L94.7 108.1L94.0 107.0ZM91.5 166.5L93.1 165.5L94.3 164.9L94.9 163.8L95.2 162.3L96.3 162.1L97.4 162.2L98.8 162.3L100.0 161.3L101.0 160.6L101.8 160.0L103.5 160.7L105.0 162.4L106.3 162.9L107.6 163.4L109.5 164.0L111.5 164.4L112.4 165.6L112.2 167.1L113.3 166.2L113.7 165.2L112.6 164.5L114.2 163.4L115.0 163.6L114.0 162.7L112.7 162.1L111.2 161.6L110.1 160.7L108.7 160.6L107.4 160.1L105.7 159.1L105.4 157.8L106.8 157.1L107.4 158.3L108.5 159.0L109.8 158.9L111.0 159.3L112.2 159.6L113.4 159.9L115.3 160.3L116.0 162.3L117.4 163.0L118.3 163.7L119.3 164.3L119.4 164.9L120.8 165.0L121.9 166.0L122.3 164.3L123.0 163.2L121.0 162.7L120.0 160.9L121.2 160.0L122.2 159.0L124.0 158.2L124.6 159.2L124.9 160.0L125.7 161.3L126.8 161.9L127.8 162.5L129.2 162.4L130.6 161.5L132.2 161.2L133.1 159.8L134.2 159.2L135.4 159.5L136.3 158.6L136.8 157.4L137.6 156.6L138.8 156.4L139.0 157.6L140.2 159.0L140.3 160.6L140.4 161.7L140.8 163.5L139.8 164.8L138.3 165.9L137.5 166.1L135.6 166.9L134.7 168.4L133.2 168.9L131.7 169.4L130.5 169.6L129.5 170.2L128.4 170.6L126.9 170.7L125.5 170.6L124.3 170.7L123.2 170.9L122.1 171.6L121.2 172.4L121.3 174.5L120.5 175.7L119.3 175.5L118.1 175.7L116.6 176.1L115.2 175.7L113.6 174.7L112.2 174.8L110.9 175.2L109.5 175.2L108.4 175.2L107.3 174.8L106.3 173.5L106.0 171.5L106.3 170.0L104.5 169.9L102.9 170.7L101.6 170.6L100.4 171.1L99.1 171.2L97.9 171.4L96.4 171.4L95.0 171.8L93.5 171.8L92.2 172.6L90.8 173.1L89.4 173.6L88.2 173.6L87.2 173.9L85.7 173.8L84.3 173.6L83.0 172.8L82.2 172.7L81.5 173.9L80.7 175.1L79.5 175.6L78.1 176.1L76.9 176.9L75.8 177.9L75.7 179.2L75.2 179.8L75.3 179.9L75.9 180.0L76.4 180.1L77.0 180.1L77.5 180.2L78.1 180.3L78.6 180.4L79.2 180.5L79.7 180.5L80.3 180.6L80.8 180.6L81.4 180.7L81.9 180.8L82.5 180.8L83.0 180.9L83.6 180.9L84.1 181.0L84.7 181.0L85.3 181.0L85.8 181.1L86.4 181.1L86.9 181.1L87.5 181.1L88.0 181.2L88.6 181.2L89.1 181.2L89.7 181.2L90.2 181.2L90.8 181.2L91.4 181.2L91.9 181.2L92.5 181.2L93.0 181.2L93.6 181.2L94.1 181.1L94.7 181.1L95.2 181.1L95.8 181.1L96.3 181.0L96.9 181.0L97.5 181.0L98.0 180.9L98.6 180.9L99.1 180.8L99.7 180.8L100.2 180.7L100.8 180.6L101.3 180.6L101.9 180.5L102.4 180.5L103.0 180.4L103.5 180.3L104.1 180.2L104.6 180.1L105.2 180.1L105.7 180.0L106.3 179.9L106.8 179.8L107.3 179.7L107.9 179.6L108.4 179.5L109.0 179.4L109.5 179.2L110.1 179.1L110.6 179.0L111.1 178.9L111.7 178.8L112.2 178.6L112.8 178.5L113.3 178.4L113.8 178.2L114.4 178.1L114.9 177.9L115.4 177.8L116.0 177.6L116.5 177.5L117.0 177.3L117.6 177.1L118.1 177.0L118.6 176.8L119.2 176.6L119.7 176.5L120.2 176.3L120.7 176.1L121.3 175.9L121.8 175.7L122.3 175.5L122.8 175.3L123.3 175.1L123.9 174.9L124.4 174.7L124.9 174.5L125.4 174.3L125.9 174.1L126.4 173.9L126.9 173.7L127.4 173.4L127.9 173.2L128.4 173.0L128.9 172.8L129.5 172.5L130.0 172.3L130.5 172.0L130.9 171.8L131.4 171.5L131.9 171.3L132.4 171.0L132.9 170.8L133.4 170.5L133.9 170.3L134.4 170.0L134.9 169.7L135.4 169.5L135.8 169.2L136.3 168.9L136.8 168.6L137.3 168.3L137.7 168.1L138.2 167.8L138.7 167.5L139.2 167.2L139.6 166.9L140.1 166.6L140.6 166.3L141.0 166.0L141.5 165.7L141.9 165.3L142.4 165.0L142.9 164.7L143.3 164.4L143.8 164.1L144.2 163.7L144.7 163.4L145.1 163.1L145.5 162.7L146.0 162.4L146.4 162.1L146.9 161.7L147.3 161.4L147.7 161.0L148.1 160.7L148.6 160.3L149.0 160.0L149.4 159.6L149.8 159.3L150.3 158.9L150.7 158.5L151.1 158.2L151.5 157.8L151.9 157.4L152.3 157.0L152.7 156.7L153.1 156.3L153.5 155.9L153.9 155.5L154.3 155.1L154.7 154.7L155.1 154.3L155.5 153.9L155.9 153.5L156.3 153.1L156.7 152.7L157.0 152.3L157.4 151.9L157.8 151.5L158.2 151.1L158.5 150.7L158.9 150.3L159.3 149.8L159.6 149.4L160.0 149.0L160.3 148.6L160.7 148.1L161.0 147.7L161.4 147.3L161.7 146.9L162.1 146.4L162.4 146.0L162.7 145.5L163.1 145.1L163.4 144.7L163.7 144.2L164.1 143.8L164.4 143.3L164.7 142.9L165.0 142.4L165.3 141.9L165.7 141.5L166.0 141.0L166.3 140.6L166.6 140.1L166.9 139.6L167.2 139.2L167.5 138.7L167.8 138.2L168.1 137.7L168.3 137.3L168.6 136.8L168.9 136.3L169.2 135.8L169.5 135.4L169.7 134.9L170.0 134.4L170.3 133.9L170.5 133.4L170.8 132.9L171.0 132.4L171.3 131.9L171.5 131.4L171.8 130.9L172.0 130.5L172.3 130.0L172.5 129.5L172.8 128.9L173.0 128.4L173.2 127.9L173.4 127.4L173.7 126.9L173.9 126.4L174.1 125.9L174.3 125.4L174.5 124.9L174.7 124.4L174.9 123.9L175.1 123.3L175.3 122.8L175.5 122.3L175.7 121.8L175.9 121.3L176.1 120.7L176.3 120.2L176.5 119.7L176.6 119.2L176.8 118.6L177.0 118.1L177.1 117.6L177.3 117.0L177.5 116.5L177.6 116.0L177.8 115.4L177.9 114.9L178.1 114.4L178.2 113.8L178.4 113.3L178.5 112.8L178.6 112.2L178.8 111.7L178.9 111.1L179.0 110.6L179.1 110.1L179.2 109.5L179.4 109.0L179.5 108.4L179.6 107.9L179.7 107.3L179.8 106.8L179.9 106.3L180.0 105.7L180.1 105.2L180.1 104.6L180.2 104.1L180.3 103.5L180.4 103.0L180.5 102.4L180.5 101.9L180.6 101.3L180.6 100.8L180.7 100.2L180.8 99.7L180.8 99.1L180.9 98.6L180.9 98.0L181.0 97.5L181.0 96.9L181.0 96.3L181.1 95.8L181.1 95.2L181.1 94.7L181.1 94.1L181.2 93.6L181.2 93.0L181.2 92.5L181.2 91.9L181.2 91.4L181.2 90.8L181.2 90.2L181.2 89.7L181.2 89.1L181.2 88.6L181.2 88.0L181.1 87.5L181.1 86.9L181.1 86.4L181.1 85.8L181.0 85.3L181.0 84.7L181.0 84.1L180.9 83.6L180.9 83.0L180.8 82.5L180.8 81.9L180.7 81.4L180.6 80.8L180.6 80.3L180.5 79.7L180.5 79.2L180.4 78.6L180.3 78.1L180.2 77.5L180.1 77.0L180.1 76.4L180.0 75.9L179.9 75.3L179.8 74.8L179.7 74.3L179.6 73.7L179.5 73.2L179.4 72.6L179.2 72.1L179.1 71.5L179.0 71.0L178.9 70.5L178.8 69.9L178.6 69.4L178.5 68.8L178.4 68.3L178.2 67.8L178.1 67.2L177.9 66.7L177.8 66.2L177.6 65.6L177.5 65.1L177.3 64.6L177.1 64.0L177.0 63.5L176.8 63.0L176.6 62.4L176.5 61.9L176.3 61.4L176.1 60.9L175.9 60.3L175.7 59.8L175.5 59.3L175.3 58.8L175.1 58.3L174.9 57.7L174.7 57.2L174.5 56.7L174.3 56.2L174.1 55.7L173.9 55.2L173.7 54.7L173.4 54.2L173.2 53.7L173.0 53.2L172.8 52.7L172.5 52.1L172.3 51.6L172.0 51.1L171.8 50.7L171.5 50.2L171.3 49.7L171.0 49.2L170.8 48.7L170.5 48.2L170.3 47.7L170.0 47.2L169.7 46.7L169.5 46.2L169.2 45.8L168.9 45.3L168.6 44.8L168.3 44.3L168.1 43.9L167.8 43.4L167.5 42.9L167.5 42.9L166.9 43.3L165.9 44.2L165.3 46.0L164.5 46.8L164.1 48.0L163.5 49.7L161.5 49.1L160.0 48.6L159.0 47.4L158.3 48.0L158.8 49.2L159.7 50.2L161.1 51.8L160.5 52.9L160.5 54.0L159.0 53.8L157.1 52.8L155.9 52.4L155.0 51.5L156.7 50.7L157.6 50.3L156.7 49.6L155.5 49.6L155.0 48.5L154.2 47.6L154.8 45.7L155.1 43.7L156.3 42.5L157.6 42.0L158.4 40.9L157.5 40.2L156.8 39.2L155.3 38.2L153.8 38.9L152.7 40.7L152.7 41.9L152.4 43.2L150.6 43.2L149.5 43.1L148.4 42.8L146.3 43.2L144.6 42.4L142.9 41.4L141.4 40.7L139.8 40.9L138.6 40.7L137.5 40.9L136.3 40.6L135.0 41.0L133.6 41.2L132.5 41.8L131.2 42.0L130.7 43.1L129.7 43.7L128.9 44.6L127.7 44.9L126.3 46.3L127.2 47.4L127.3 48.9L128.3 50.4L128.0 51.5L128.4 52.6L127.0 52.5L125.7 52.1L124.4 51.9L123.4 52.7L122.2 52.7L120.0 52.7L118.6 52.2L117.5 51.2L115.6 50.3L114.1 49.5L112.9 49.2L112.2 48.3L111.5 47.5L110.3 48.6L108.9 49.3L108.1 50.1L106.9 50.0L105.8 49.7L104.4 49.2L103.0 49.6L103.7 48.2L104.9 48.1L105.8 47.3L105.7 46.3L106.9 46.1L108.0 45.3L109.4 44.9L110.7 44.3L112.1 43.4L112.9 42.0L113.8 40.6L113.8 39.1L114.2 37.6L114.5 36.1L114.7 35.2L113.3 35.8L112.1 36.7L110.2 37.1L109.2 38.3L107.7 38.8L106.0 40.2L106.4 41.1L105.9 42.1L105.9 43.3L104.4 44.8L103.3 45.3L102.0 45.7L100.9 45.7L99.7 46.0L98.6 46.4L97.7 47.1L96.5 47.4L95.3 47.9L94.0 47.1L92.7 47.8L91.5 47.5L91.7 49.4L92.5 50.2L93.2 51.1L92.2 51.7L90.9 52.6L89.5 52.2L88.2 52.0L87.1 51.7L85.9 51.2L84.8 52.9L84.1 53.8L85.5 55.2L86.5 55.8L87.8 56.1L88.7 57.0L89.9 57.1L90.8 57.9L92.3 58.3L93.6 59.2L95.0 59.4L96.4 59.3L97.9 60.2L99.4 60.2L100.9 60.6L101.1 62.5L102.2 63.4L103.4 64.2L104.4 65.1L105.3 65.6L105.6 67.1L106.2 68.0L107.4 68.3L108.4 69.1L109.6 68.6L110.1 69.8L109.9 71.0L111.1 70.9L112.2 71.3L113.7 71.6L112.7 72.6L112.5 73.9L111.8 74.7L112.4 76.2L113.8 77.0L113.5 78.5L113.9 79.5L114.3 80.6L115.9 81.7L115.0 82.5L114.1 81.4L112.5 81.6L110.7 82.5L110.6 83.8L109.6 84.7L109.6 86.0L110.4 87.0L111.7 87.1L112.7 88.5L113.1 90.0L113.8 91.0L114.4 92.0L116.1 92.2L116.6 93.5L116.4 94.9L118.4 95.3L119.2 94.4L120.4 94.3L119.7 95.4L118.6 96.0L117.8 96.0L118.1 97.1L119.9 97.3L118.6 98.0L117.0 98.1L118.4 98.5L119.7 98.8L120.9 99.7L122.2 100.0L123.4 100.6L124.5 101.4L125.8 101.8L124.3 101.7L123.4 100.9L122.2 100.7L121.0 100.1L119.7 100.1L118.5 99.6L116.9 99.5L115.3 99.2L115.9 100.0L116.5 101.0L117.1 102.0L118.9 102.9L120.3 103.3L122.0 103.3L120.6 104.1L121.4 103.8L120.6 104.7L119.8 105.6L118.8 106.3L117.3 106.1L118.5 106.9L119.2 108.2L118.9 109.5L118.2 110.7L118.4 112.0L117.1 112.0L116.1 112.8L115.7 114.9L114.0 115.3L115.1 115.3L116.1 116.2L116.5 117.4L116.6 118.6L115.2 119.4L116.3 120.7L116.4 121.4L114.8 122.7L113.4 122.0L112.3 121.9L111.2 121.8L110.4 121.6L110.1 121.1L111.7 121.1L112.8 120.6L113.9 119.9L115.5 118.9L114.1 117.3L112.3 116.6L110.8 116.7L109.4 117.4L107.3 117.7L105.8 117.3L103.8 117.5L102.9 118.1L102.1 119.4L101.2 120.9L100.6 122.3L99.5 123.4L99.6 124.9L99.1 126.7L99.0 128.0L98.6 129.1L97.5 130.9L96.3 132.3L94.9 133.9L94.7 135.9L95.0 137.4L95.5 138.9L96.4 140.2L97.6 140.2L98.9 138.6L99.4 137.3L99.9 138.3L100.5 139.2L101.1 140.0L102.3 141.6L102.9 143.0L104.1 142.9L105.2 141.3L105.3 139.3L104.9 137.5L105.9 136.0L104.6 134.6L104.0 132.8L104.1 131.3L104.6 129.9L104.8 128.5L105.1 127.2L106.3 125.4L107.4 126.7L107.1 127.9L106.7 129.1L106.3 130.9L107.3 132.6L108.6 133.8L109.9 133.7L111.1 133.0L111.7 131.8L112.9 131.8L113.9 131.1L113.2 132.9L111.9 133.1L110.9 133.9L109.9 134.8L110.4 135.8L111.4 136.5L111.7 137.7L110.2 137.5L109.4 138.8L109.8 140.1L110.1 140.8L109.8 142.2L109.2 142.9L108.1 142.7L106.5 143.6L105.6 144.5L104.4 144.7L102.4 145.4L101.2 145.2L100.4 145.1L100.1 144.4L100.3 142.6L99.7 141.6L100.0 140.4L98.5 141.4L98.2 142.6L98.3 143.7L98.4 145.0L99.1 146.1L98.2 146.9L96.7 147.3L95.5 148.7L94.4 150.3L93.4 150.9L92.5 151.3L92.4 152.5L91.0 153.1L90.6 153.5L89.1 153.1L89.0 154.5L87.5 154.6L85.6 154.6L85.9 155.7L87.9 156.6L88.7 157.4L89.4 158.2L89.4 160.0L89.1 161.0L88.9 162.1L87.5 162.6L86.1 162.2L84.8 162.0L83.6 161.7L82.3 161.1L80.9 161.3L79.1 162.1L79.4 164.2L79.0 166.3L77.9 168.0L78.7 169.1L78.3 170.5L80.4 170.7L81.9 171.5L82.8 172.5L84.6 171.7L86.1 171.7L87.7 171.8L88.6 170.9L89.8 170.6L91.1 169.1L90.4 168.1ZM144.7 135.3L146.0 135.4L147.3 135.0L148.6 135.1L149.7 135.2L150.7 135.9L152.2 136.3L153.7 136.6L154.9 137.4L156.0 138.3L155.2 139.4L154.6 140.6L153.5 141.6L152.7 142.7L151.4 142.9L150.1 142.5L149.1 141.6L148.7 140.2L146.7 139.7L145.4 140.0L144.3 139.6L142.8 138.6L142.1 137.7L141.4 136.9L140.8 135.0L141.6 133.4L142.5 132.6L143.0 131.5L144.2 131.0L145.1 131.9L146.2 132.2L145.9 133.4L144.9 134.1ZM127.7 148.8L128.9 148.7L130.0 148.9L130.8 146.9L131.7 146.1L133.3 146.2L134.6 145.7L136.0 145.3L137.4 145.4L138.8 145.8L140.0 146.4L139.2 147.4L138.1 148.3L137.5 149.5L136.1 149.7L135.1 150.6L133.5 150.7L132.3 151.3L131.5 152.2L131.1 153.4L130.4 154.3L129.4 155.1L128.3 155.8L126.9 156.0L125.1 155.5L125.0 153.5L125.0 152.1L124.9 150.6L125.1 149.0L125.3 148.2L126.6 148.3ZM130.7 146.8L129.5 146.0L130.3 144.9L131.0 143.6L131.9 142.4L132.0 143.6L132.2 144.8L131.7 145.9ZM76.4 129.3L77.6 130.2L76.4 129.3L75.0 128.6ZM79.4 130.2L80.7 129.7L79.4 130.0L78.0 130.2ZM101.9 142.8L102.4 143.3L102.3 142.2ZM91.0 147.4L90.2 145.9L89.2 145.2L88.9 143.9L88.3 143.0L89.2 141.4L87.7 141.1L88.2 139.7L86.5 139.7L85.7 141.1L85.7 143.0L85.4 144.4L86.1 145.3L87.5 145.2L87.7 146.3L87.8 147.6L86.2 147.4L86.1 148.3L85.6 149.4L85.5 150.0L87.2 150.1L86.4 150.7L85.7 151.6L84.7 152.2L85.9 152.0L87.1 151.6L89.2 151.6L91.1 151.4L92.3 151.0L92.1 149.9L92.5 148.3ZM80.9 146.9L80.2 148.4L80.7 149.5L82.0 149.6L83.0 148.9L84.3 149.0L84.8 147.1L85.5 145.5L83.9 144.3L82.5 144.8L81.2 145.4ZM136.2 159.8L135.3 161.1L135.9 161.6L137.6 160.6L137.6 158.9ZM103.1 163.1L102.6 161.9L101.7 162.2L101.8 163.5L102.7 164.2ZM123.9 167.0L125.1 166.8L126.2 166.4L127.3 165.9L127.6 165.3L126.3 165.6L125.2 166.3L123.9 166.7ZM102.2 166.8L102.3 167.9L103.8 167.4L103.3 166.1L103.6 164.8L102.7 164.5L101.6 165.7ZM108.9 169.0L110.4 169.3L111.9 169.1L112.1 167.9L112.0 166.7L110.7 167.5L109.4 167.9L107.9 167.9Z" clip-rule="evenodd"/></clipPath>
<mask id="covM" maskUnits="userSpaceOnUse" x="0" y="0" width="182" height="182"><g filter="url(#covF)"><rect x="0" y="0" width="182" height="182" fill="rgb(184,184,184)"/><polyline points="66,61.5 57,66 48,72.5 43.4,80.5 38.9,87.6 36.3,94.8 33.5,104" fill="none" stroke="rgb(242,242,242)" stroke-opacity="1" stroke-width="5" stroke-linecap="round" stroke-linejoin="round"/><ellipse cx="6" cy="95" rx="10" ry="16" fill="rgb(224,224,224)" fill-opacity="1"/><polygon points="119,56 133,53 147,62 150,80 149,104 145,124 130,126 121,110 120,80" fill="rgb(189,189,189)" fill-opacity="1"/><ellipse cx="131" cy="141" rx="17" ry="15" fill="rgb(235,235,235)" fill-opacity="1"/><polyline points="147,54 152.7,70 153,85 150,108 140.5,127 127,143 116,157" fill="none" stroke="rgb(230,230,230)" stroke-opacity="1" stroke-width="7" stroke-linecap="round" stroke-linejoin="round"/><ellipse cx="100" cy="55" rx="9" ry="7" fill="rgb(204,204,204)" fill-opacity="1"/><ellipse cx="160" cy="50" rx="10" ry="10" fill="rgb(209,209,209)" fill-opacity="1"/><ellipse cx="40" cy="60" rx="14" ry="9" fill="rgb(184,184,184)" fill-opacity="1"/><ellipse cx="18" cy="66" rx="14" ry="12" fill="rgb(158,158,158)" fill-opacity="1"/><ellipse cx="85" cy="166" rx="6" ry="5" fill="rgb(209,209,209)" fill-opacity="1"/><ellipse cx="132" cy="156" rx="8" ry="3" fill="rgb(204,204,204)" fill-opacity="1"/><polygon points="68,64 76,61 86,63 80,75 70,85 60,95 52,105 44,112 43,104 46,92 51,80 57,71" fill="rgb(71,71,71)" fill-opacity="1"/><polygon points="96,58 106,60 114,70 122,80 124,95 126,108 118,114 110,100 106,80 98,66" fill="rgb(66,66,66)" fill-opacity="1"/><polygon points="156,60 166,58 178,64 184,84 184,110 172,112 160,100 156,84" fill="rgb(31,31,31)" fill-opacity="1"/><polygon points="106,170 120,164 140,160 156,152 168,140 178,132 186,140 178,172 150,184 100,186" fill="rgb(26,26,26)" fill-opacity="1"/><polygon points="150,116 162,114 172,122 170,142 158,148 150,136" fill="rgb(89,89,89)" fill-opacity="1"/><polygon points="96,116 106,114 112,124 110,140 100,146 94,136" fill="rgb(56,56,56)" fill-opacity="1"/><ellipse cx="27" cy="96" rx="9" ry="10" fill="rgb(102,102,102)" fill-opacity="1"/><ellipse cx="30" cy="114" rx="9" ry="8" fill="rgb(102,102,102)" fill-opacity="1"/><ellipse cx="97" cy="156" rx="8" ry="6" fill="rgb(76,76,76)" fill-opacity="1"/><ellipse cx="88" cy="145" rx="4" ry="5" fill="rgb(102,102,102)" fill-opacity="1"/><polygon points="136,38 146,27 152,20 160,18 162,26 150,36 142,44" fill="rgb(20,20,20)" fill-opacity="1"/></g></mask>
<g id="grat" stroke="#333" stroke-width="1.05" stroke-dasharray="4 3.8"><circle cx="90.8" cy="90.8" r="15.76" fill="none"/><circle cx="90.8" cy="90.8" r="46.79" fill="none"/><circle cx="90.8" cy="90.8" r="76.41" fill="none"/><circle cx="90.8" cy="90.8" r="104.50" fill="none"/><line x1="90.8" y1="90.8" x2="90.80" y2="-25.42"/><line x1="90.8" y1="90.8" x2="-9.85" y2="32.69"/><line x1="90.8" y1="90.8" x2="-9.85" y2="148.91"/><line x1="90.8" y1="90.8" x2="90.80" y2="207.02"/><line x1="90.8" y1="90.8" x2="191.45" y2="148.91"/><line x1="90.8" y1="90.8" x2="191.45" y2="32.69"/></g></defs>
<g transform="translate(52 37)">
<svg x="0.5" y="0.5" width="181" height="181" viewBox="0.5 0.5 181 181" overflow="hidden">
<circle cx="90.8" cy="90.8" r="90.40" fill="#eef7fa"/>
<use href="#grat"/>
<use href="#landP" fill="#fff"/>
<g clip-path="url(#dataClip)"><g mask="url(#covM)">
<g filter="url(#valF0)"><rect x="0" y="0" width="182" height="182" fill="rgb(131,131,131)"/><polygon points="6,48 40,45 78,44 62,56 48,74 38,96 30,118 0,122 0,50" fill="rgb(128,128,128)" fill-opacity="1"/><ellipse cx="20" cy="61" rx="13" ry="8" fill="rgb(115,115,115)" fill-opacity="1" transform="rotate(-15 20 61)"/><ellipse cx="40" cy="70" rx="5" ry="6" fill="rgb(112,112,112)" fill-opacity="1"/><polygon points="66,63 76,60 86,63 80,75 70,85 60,95 52,105 44,112 42,104 45,92 50,80 56,70" fill="rgb(158,158,158)" fill-opacity="1"/><polyline points="66,61.5 57,66 48,72.5 43.4,80.5 38.9,87.6 36.3,94.8 33.5,104" fill="none" stroke="rgb(185,185,185)" stroke-opacity="1" stroke-width="4.5" stroke-linecap="round" stroke-linejoin="round"/><ellipse cx="6" cy="95" rx="9" ry="15" fill="rgb(152,152,152)" fill-opacity="1"/><ellipse cx="15.5" cy="81.5" rx="2.5" ry="4" fill="rgb(161,161,161)" fill-opacity="1"/><ellipse cx="41" cy="57" rx="8" ry="5" fill="rgb(142,142,142)" fill-opacity="1"/><ellipse cx="66" cy="54" rx="11" ry="6" fill="rgb(138,138,138)" fill-opacity="1" transform="rotate(-20 66 54)"/><ellipse cx="58" cy="60.5" rx="7" ry="2.5" fill="rgb(110,110,110)" fill-opacity="1" transform="rotate(-25 58 60.5)"/><ellipse cx="25" cy="55.5" rx="6" ry="5" fill="rgb(102,102,102)" fill-opacity="1" transform="rotate(-20 25 55.5)"/><ellipse cx="34" cy="51" rx="5" ry="3" fill="rgb(112,112,112)" fill-opacity="1" transform="rotate(-20 34 51)"/><ellipse cx="42" cy="75" rx="3.5" ry="4" fill="rgb(105,105,105)" fill-opacity="1"/><ellipse cx="7" cy="83" rx="3" ry="6" fill="rgb(105,105,105)" fill-opacity="1"/><ellipse cx="27.5" cy="96" rx="4" ry="4" fill="rgb(110,110,110)" fill-opacity="1"/><ellipse cx="18" cy="66" rx="9" ry="7" fill="rgb(111,111,111)" fill-opacity="1"/><ellipse cx="28" cy="112" rx="10" ry="8" fill="rgb(150,150,150)" fill-opacity="1"/><ellipse cx="27" cy="92" rx="6" ry="8" fill="rgb(117,117,117)" fill-opacity="1"/><ellipse cx="100" cy="55" rx="10" ry="8" fill="rgb(150,150,150)" fill-opacity="1"/><ellipse cx="118" cy="52" rx="10" ry="7" fill="rgb(140,140,140)" fill-opacity="1"/><ellipse cx="147" cy="50" rx="20" ry="7" fill="rgb(142,142,142)" fill-opacity="1" transform="rotate(15 147 50)"/><ellipse cx="160" cy="50" rx="10" ry="10" fill="rgb(147,147,147)" fill-opacity="1"/><polygon points="119,56 133,53 147,62 150,80 149,104 145,124 130,126 121,110 120,80" fill="rgb(111,111,111)" fill-opacity="1"/><ellipse cx="131" cy="80" rx="3" ry="5" fill="rgb(102,102,102)" fill-opacity="1"/><ellipse cx="146" cy="81" rx="1.8" ry="7" fill="rgb(103,103,103)" fill-opacity="1"/><ellipse cx="133" cy="95" rx="4" ry="8" fill="rgb(110,110,110)" fill-opacity="1"/><polyline points="147,54 152.7,70 153,85 150,108 140.5,127 127,143 116,157" fill="none" stroke="rgb(149,149,149)" stroke-opacity="1" stroke-width="5" stroke-linecap="round" stroke-linejoin="round"/><ellipse cx="127" cy="60" rx="9" ry="5" fill="rgb(130,130,130)" fill-opacity="1"/><ellipse cx="112" cy="120" rx="6" ry="9" fill="rgb(115,115,115)" fill-opacity="1"/><polyline points="128,60 132,70" fill="none" stroke="rgb(138,138,138)" stroke-opacity="1" stroke-width="3" stroke-linecap="round" stroke-linejoin="round"/><ellipse cx="151" cy="95" rx="3" ry="4" fill="rgb(159,159,159)" fill-opacity="1"/><ellipse cx="120" cy="90" rx="4" ry="18" fill="rgb(156,156,156)" fill-opacity="1"/><ellipse cx="142" cy="120" rx="8" ry="5" fill="rgb(143,143,143)" fill-opacity="1"/><ellipse cx="131" cy="143" rx="17" ry="14" fill="rgb(142,142,142)" fill-opacity="1"/><ellipse cx="133" cy="145" rx="7" ry="6" fill="rgb(144,144,144)" fill-opacity="1"/><ellipse cx="87" cy="146" rx="4" ry="5" fill="rgb(140,140,140)" fill-opacity="1"/><ellipse cx="97" cy="156" rx="8" ry="5" fill="rgb(148,148,148)" fill-opacity="1"/><ellipse cx="85" cy="162" rx="6" ry="2.5" fill="rgb(143,143,143)" fill-opacity="1"/><ellipse cx="85" cy="168" rx="7" ry="4" fill="rgb(106,106,106)" fill-opacity="1"/><polyline points="78,177 95,179 110,177" fill="none" stroke="rgb(111,111,111)" stroke-opacity="1" stroke-width="3" stroke-linecap="round" stroke-linejoin="round"/><ellipse cx="113" cy="162" rx="7" ry="5" fill="rgb(115,115,115)" fill-opacity="1"/><ellipse cx="132" cy="157" rx="7" ry="3" fill="rgb(115,115,115)" fill-opacity="1"/><ellipse cx="100" cy="150" rx="8" ry="6" fill="rgb(120,120,120)" fill-opacity="1"/><ellipse cx="163" cy="128" rx="12" ry="12" fill="rgb(117,117,117)" fill-opacity="1"/><ellipse cx="108" cy="128" rx="6" ry="10" fill="rgb(121,121,121)" fill-opacity="1"/><ellipse cx="120" cy="131" rx="6" ry="5" fill="rgb(110,110,110)" fill-opacity="1"/><ellipse cx="140" cy="109" rx="12" ry="6" fill="rgb(113,113,113)" fill-opacity="1"/></g>
</g></g>
<use href="#landP" fill="none" stroke="#000" stroke-width="0.9" stroke-linejoin="round"/>
<text x="60.7" y="26.4" font-size="10.5" fill="#262626">40°N</text>
<text x="59.8" y="144.4" font-size="10.5" fill="#262626">60°N</text>
</svg>
<rect x="0.5" y="0.5" width="181" height="181" fill="none" stroke="#6b6b6b" stroke-width="1"/>
<text x="3.4" y="13.1" font-size="12.4" fill="#262626" text-anchor="start">(a)</text>
</g>
<g transform="translate(240 37)">
<svg x="0.5" y="0.5" width="181" height="181" viewBox="0.5 0.5 181 181" overflow="hidden">
<circle cx="90.8" cy="90.8" r="90.40" fill="#eef7fa"/>
<use href="#grat"/>
<use href="#landP" fill="#fff"/>
<g clip-path="url(#dataClip)"><g mask="url(#covM)">
<g filter="url(#valF1)"><rect x="0" y="0" width="182" height="182" fill="rgb(131,131,131)"/><polygon points="6,48 40,45 78,44 62,56 48,74 38,96 30,118 0,122 0,50" fill="rgb(128,128,128)" fill-opacity="1"/><ellipse cx="20" cy="61" rx="13" ry="8" fill="rgb(114,114,114)" fill-opacity="1" transform="rotate(-15 20 61)"/><ellipse cx="40" cy="70" rx="5" ry="6" fill="rgb(112,112,112)" fill-opacity="1"/><polygon points="66,63 76,60 86,63 80,75 70,85 60,95 52,105 44,112 42,104 45,92 50,80 56,70" fill="rgb(159,159,159)" fill-opacity="1"/><polyline points="66,61.5 57,66 48,72.5 43.4,80.5 38.9,87.6 36.3,94.8 33.5,104" fill="none" stroke="rgb(187,187,187)" stroke-opacity="1" stroke-width="4.5" stroke-linecap="round" stroke-linejoin="round"/><ellipse cx="6" cy="95" rx="9" ry="15" fill="rgb(153,153,153)" fill-opacity="1"/><ellipse cx="15.5" cy="81.5" rx="2.5" ry="4" fill="rgb(162,162,162)" fill-opacity="1"/><ellipse cx="41" cy="57" rx="8" ry="5" fill="rgb(142,142,142)" fill-opacity="1"/><ellipse cx="66" cy="54" rx="11" ry="6" fill="rgb(138,138,138)" fill-opacity="1" transform="rotate(-20 66 54)"/><ellipse cx="58" cy="60.5" rx="7" ry="2.5" fill="rgb(109,109,109)" fill-opacity="1" transform="rotate(-25 58 60.5)"/><ellipse cx="25" cy="55.5" rx="6" ry="5" fill="rgb(101,101,101)" fill-opacity="1" transform="rotate(-20 25 55.5)"/><ellipse cx="34" cy="51" rx="5" ry="3" fill="rgb(112,112,112)" fill-opacity="1" transform="rotate(-20 34 51)"/><ellipse cx="42" cy="75" rx="3.5" ry="4" fill="rgb(104,104,104)" fill-opacity="1"/><ellipse cx="7" cy="83" rx="3" ry="6" fill="rgb(104,104,104)" fill-opacity="1"/><ellipse cx="27.5" cy="96" rx="4" ry="4" fill="rgb(109,109,109)" fill-opacity="1"/><ellipse cx="18" cy="66" rx="9" ry="7" fill="rgb(110,110,110)" fill-opacity="1"/><ellipse cx="28" cy="112" rx="10" ry="8" fill="rgb(151,151,151)" fill-opacity="1"/><ellipse cx="27" cy="92" rx="6" ry="8" fill="rgb(117,117,117)" fill-opacity="1"/><ellipse cx="100" cy="55" rx="10" ry="8" fill="rgb(151,151,151)" fill-opacity="1"/><ellipse cx="118" cy="52" rx="10" ry="7" fill="rgb(141,141,141)" fill-opacity="1"/><ellipse cx="147" cy="50" rx="20" ry="7" fill="rgb(142,142,142)" fill-opacity="1" transform="rotate(15 147 50)"/><ellipse cx="160" cy="50" rx="10" ry="10" fill="rgb(147,147,147)" fill-opacity="1"/><polygon points="119,56 133,53 147,62 150,80 149,104 145,124 130,126 121,110 120,80" fill="rgb(110,110,110)" fill-opacity="1"/><ellipse cx="131" cy="80" rx="3" ry="5" fill="rgb(101,101,101)" fill-opacity="1"/><ellipse cx="146" cy="81" rx="1.8" ry="7" fill="rgb(102,102,102)" fill-opacity="1"/><ellipse cx="133" cy="95" rx="4" ry="8" fill="rgb(109,109,109)" fill-opacity="1"/><polyline points="147,54 152.7,70 153,85 150,108 140.5,127 127,143 116,157" fill="none" stroke="rgb(150,150,150)" stroke-opacity="1" stroke-width="5" stroke-linecap="round" stroke-linejoin="round"/><ellipse cx="127" cy="60" rx="9" ry="5" fill="rgb(130,130,130)" fill-opacity="1"/><ellipse cx="112" cy="120" rx="6" ry="9" fill="rgb(114,114,114)" fill-opacity="1"/><polyline points="128,60 132,70" fill="none" stroke="rgb(138,138,138)" stroke-opacity="1" stroke-width="3" stroke-linecap="round" stroke-linejoin="round"/><ellipse cx="151" cy="95" rx="3" ry="4" fill="rgb(161,161,161)" fill-opacity="1"/><ellipse cx="120" cy="90" rx="4" ry="18" fill="rgb(157,157,157)" fill-opacity="1"/><ellipse cx="142" cy="120" rx="8" ry="5" fill="rgb(143,143,143)" fill-opacity="1"/><ellipse cx="131" cy="143" rx="17" ry="14" fill="rgb(143,143,143)" fill-opacity="1"/><ellipse cx="133" cy="145" rx="7" ry="6" fill="rgb(145,145,145)" fill-opacity="1"/><ellipse cx="87" cy="146" rx="4" ry="5" fill="rgb(141,141,141)" fill-opacity="1"/><ellipse cx="97" cy="156" rx="8" ry="5" fill="rgb(149,149,149)" fill-opacity="1"/><ellipse cx="85" cy="162" rx="6" ry="2.5" fill="rgb(143,143,143)" fill-opacity="1"/><ellipse cx="85" cy="168" rx="7" ry="4" fill="rgb(105,105,105)" fill-opacity="1"/><polyline points="78,177 95,179 110,177" fill="none" stroke="rgb(110,110,110)" stroke-opacity="1" stroke-width="3" stroke-linecap="round" stroke-linejoin="round"/><ellipse cx="113" cy="162" rx="7" ry="5" fill="rgb(114,114,114)" fill-opacity="1"/><ellipse cx="132" cy="157" rx="7" ry="3" fill="rgb(114,114,114)" fill-opacity="1"/><ellipse cx="100" cy="150" rx="8" ry="6" fill="rgb(120,120,120)" fill-opacity="1"/><ellipse cx="163" cy="128" rx="12" ry="12" fill="rgb(117,117,117)" fill-opacity="1"/><ellipse cx="108" cy="128" rx="6" ry="10" fill="rgb(121,121,121)" fill-opacity="1"/><ellipse cx="120" cy="131" rx="6" ry="5" fill="rgb(109,109,109)" fill-opacity="1"/><ellipse cx="140" cy="109" rx="12" ry="6" fill="rgb(113,113,113)" fill-opacity="1"/></g>
</g></g>
<use href="#landP" fill="none" stroke="#000" stroke-width="0.9" stroke-linejoin="round"/>
<text x="60.7" y="26.4" font-size="10.5" fill="#262626">40°N</text>
<text x="59.8" y="144.4" font-size="10.5" fill="#262626">60°N</text>
</svg>
<rect x="0.5" y="0.5" width="181" height="181" fill="none" stroke="#6b6b6b" stroke-width="1"/>
<text x="3.4" y="13.1" font-size="12.4" fill="#262626" text-anchor="start">(b)</text>
</g>
<g transform="translate(428 37)">
<svg x="0.5" y="0.5" width="181" height="181" viewBox="0.5 0.5 181 181" overflow="hidden">
<circle cx="90.8" cy="90.8" r="90.40" fill="#eef7fa"/>
<use href="#grat"/>
<use href="#landP" fill="#fff"/>
<g clip-path="url(#dataClip)"><g mask="url(#covM)">
<g filter="url(#valF2)"><rect x="0" y="0" width="182" height="182" fill="rgb(132,132,132)"/><polygon points="6,48 40,45 78,44 62,56 48,74 38,96 30,118 0,122 0,50" fill="rgb(128,128,128)" fill-opacity="1"/><ellipse cx="20" cy="61" rx="13" ry="8" fill="rgb(114,114,114)" fill-opacity="1" transform="rotate(-15 20 61)"/><ellipse cx="40" cy="70" rx="5" ry="6" fill="rgb(111,111,111)" fill-opacity="1"/><polygon points="66,63 76,60 86,63 80,75 70,85 60,95 52,105 44,112 42,104 45,92 50,80 56,70" fill="rgb(160,160,160)" fill-opacity="1"/><polyline points="66,61.5 57,66 48,72.5 43.4,80.5 38.9,87.6 36.3,94.8 33.5,104" fill="none" stroke="rgb(188,188,188)" stroke-opacity="1" stroke-width="4.5" stroke-linecap="round" stroke-linejoin="round"/><ellipse cx="6" cy="95" rx="9" ry="15" fill="rgb(153,153,153)" fill-opacity="1"/><ellipse cx="15.5" cy="81.5" rx="2.5" ry="4" fill="rgb(163,163,163)" fill-opacity="1"/><ellipse cx="41" cy="57" rx="8" ry="5" fill="rgb(142,142,142)" fill-opacity="1"/><ellipse cx="66" cy="54" rx="11" ry="6" fill="rgb(138,138,138)" fill-opacity="1" transform="rotate(-20 66 54)"/><ellipse cx="58" cy="60.5" rx="7" ry="2.5" fill="rgb(109,109,109)" fill-opacity="1" transform="rotate(-25 58 60.5)"/><ellipse cx="25" cy="55.5" rx="6" ry="5" fill="rgb(100,100,100)" fill-opacity="1" transform="rotate(-20 25 55.5)"/><ellipse cx="34" cy="51" rx="5" ry="3" fill="rgb(111,111,111)" fill-opacity="1" transform="rotate(-20 34 51)"/><ellipse cx="42" cy="75" rx="3.5" ry="4" fill="rgb(103,103,103)" fill-opacity="1"/><ellipse cx="7" cy="83" rx="3" ry="6" fill="rgb(103,103,103)" fill-opacity="1"/><ellipse cx="27.5" cy="96" rx="4" ry="4" fill="rgb(109,109,109)" fill-opacity="1"/><ellipse cx="18" cy="66" rx="9" ry="7" fill="rgb(110,110,110)" fill-opacity="1"/><ellipse cx="28" cy="112" rx="10" ry="8" fill="rgb(152,152,152)" fill-opacity="1"/><ellipse cx="27" cy="92" rx="6" ry="8" fill="rgb(117,117,117)" fill-opacity="1"/><ellipse cx="100" cy="55" rx="10" ry="8" fill="rgb(152,152,152)" fill-opacity="1"/><ellipse cx="118" cy="52" rx="10" ry="7" fill="rgb(141,141,141)" fill-opacity="1"/><ellipse cx="147" cy="50" rx="20" ry="7" fill="rgb(142,142,142)" fill-opacity="1" transform="rotate(15 147 50)"/><ellipse cx="160" cy="50" rx="10" ry="10" fill="rgb(148,148,148)" fill-opacity="1"/><polygon points="119,56 133,53 147,62 150,80 149,104 145,124 130,126 121,110 120,80" fill="rgb(110,110,110)" fill-opacity="1"/><ellipse cx="131" cy="80" rx="3" ry="5" fill="rgb(100,100,100)" fill-opacity="1"/><ellipse cx="146" cy="81" rx="1.8" ry="7" fill="rgb(102,102,102)" fill-opacity="1"/><ellipse cx="133" cy="95" rx="4" ry="8" fill="rgb(109,109,109)" fill-opacity="1"/><polyline points="147,54 152.7,70 153,85 150,108 140.5,127 127,143 116,157" fill="none" stroke="rgb(150,150,150)" stroke-opacity="1" stroke-width="5" stroke-linecap="round" stroke-linejoin="round"/><ellipse cx="127" cy="60" rx="9" ry="5" fill="rgb(130,130,130)" fill-opacity="1"/><ellipse cx="112" cy="120" rx="6" ry="9" fill="rgb(114,114,114)" fill-opacity="1"/><polyline points="128,60 132,70" fill="none" stroke="rgb(138,138,138)" stroke-opacity="1" stroke-width="3" stroke-linecap="round" stroke-linejoin="round"/><ellipse cx="151" cy="95" rx="3" ry="4" fill="rgb(161,161,161)" fill-opacity="1"/><ellipse cx="120" cy="90" rx="4" ry="18" fill="rgb(157,157,157)" fill-opacity="1"/><ellipse cx="142" cy="120" rx="8" ry="5" fill="rgb(144,144,144)" fill-opacity="1"/><ellipse cx="131" cy="143" rx="17" ry="14" fill="rgb(143,143,143)" fill-opacity="1"/><ellipse cx="133" cy="145" rx="7" ry="6" fill="rgb(145,145,145)" fill-opacity="1"/><ellipse cx="87" cy="146" rx="4" ry="5" fill="rgb(141,141,141)" fill-opacity="1"/><ellipse cx="97" cy="156" rx="8" ry="5" fill="rgb(149,149,149)" fill-opacity="1"/><ellipse cx="85" cy="162" rx="6" ry="2.5" fill="rgb(144,144,144)" fill-opacity="1"/><ellipse cx="85" cy="168" rx="7" ry="4" fill="rgb(105,105,105)" fill-opacity="1"/><polyline points="78,177 95,179 110,177" fill="none" stroke="rgb(110,110,110)" stroke-opacity="1" stroke-width="3" stroke-linecap="round" stroke-linejoin="round"/><ellipse cx="113" cy="162" rx="7" ry="5" fill="rgb(114,114,114)" fill-opacity="1"/><ellipse cx="132" cy="157" rx="7" ry="3" fill="rgb(114,114,114)" fill-opacity="1"/><ellipse cx="100" cy="150" rx="8" ry="6" fill="rgb(119,119,119)" fill-opacity="1"/><ellipse cx="163" cy="128" rx="12" ry="12" fill="rgb(117,117,117)" fill-opacity="1"/><ellipse cx="108" cy="128" rx="6" ry="10" fill="rgb(121,121,121)" fill-opacity="1"/><ellipse cx="120" cy="131" rx="6" ry="5" fill="rgb(109,109,109)" fill-opacity="1"/><ellipse cx="140" cy="109" rx="12" ry="6" fill="rgb(113,113,113)" fill-opacity="1"/></g>
</g></g>
<use href="#landP" fill="none" stroke="#000" stroke-width="0.9" stroke-linejoin="round"/>
<text x="60.7" y="26.4" font-size="10.5" fill="#262626">40°N</text>
<text x="59.8" y="144.4" font-size="10.5" fill="#262626">60°N</text>
</svg>
<rect x="0.5" y="0.5" width="181" height="181" fill="none" stroke="#6b6b6b" stroke-width="1"/>
<text x="3.4" y="13.1" font-size="12.4" fill="#262626" text-anchor="start">(c)</text>
</g>
<g transform="translate(52 225)">
<svg x="0.5" y="0.5" width="181" height="181" viewBox="0.5 0.5 181 181" overflow="hidden">
<circle cx="90.8" cy="90.8" r="90.40" fill="#eef7fa"/>
<use href="#grat"/>
<use href="#landP" fill="#fff"/>
<g clip-path="url(#dataClip)"><g mask="url(#covM)">
<g filter="url(#valF3)"><rect x="0" y="0" width="182" height="182" fill="rgb(132,132,132)"/><polygon points="6,48 40,45 78,44 62,56 48,74 38,96 30,118 0,122 0,50" fill="rgb(128,128,128)" fill-opacity="1"/><ellipse cx="20" cy="61" rx="13" ry="8" fill="rgb(113,113,113)" fill-opacity="1" transform="rotate(-15 20 61)"/><ellipse cx="40" cy="70" rx="5" ry="6" fill="rgb(110,110,110)" fill-opacity="1"/><polygon points="66,63 76,60 86,63 80,75 70,85 60,95 52,105 44,112 42,104 45,92 50,80 56,70" fill="rgb(162,162,162)" fill-opacity="1"/><polyline points="66,61.5 57,66 48,72.5 43.4,80.5 38.9,87.6 36.3,94.8 33.5,104" fill="none" stroke="rgb(192,192,192)" stroke-opacity="1" stroke-width="4.5" stroke-linecap="round" stroke-linejoin="round"/><ellipse cx="6" cy="95" rx="9" ry="15" fill="rgb(155,155,155)" fill-opacity="1"/><ellipse cx="15.5" cy="81.5" rx="2.5" ry="4" fill="rgb(165,165,165)" fill-opacity="1"/><ellipse cx="41" cy="57" rx="8" ry="5" fill="rgb(143,143,143)" fill-opacity="1"/><ellipse cx="66" cy="54" rx="11" ry="6" fill="rgb(139,139,139)" fill-opacity="1" transform="rotate(-20 66 54)"/><ellipse cx="58" cy="60.5" rx="7" ry="2.5" fill="rgb(108,108,108)" fill-opacity="1" transform="rotate(-25 58 60.5)"/><ellipse cx="25" cy="55.5" rx="6" ry="5" fill="rgb(99,99,99)" fill-opacity="1" transform="rotate(-20 25 55.5)"/><ellipse cx="34" cy="51" rx="5" ry="3" fill="rgb(110,110,110)" fill-opacity="1" transform="rotate(-20 34 51)"/><ellipse cx="42" cy="75" rx="3.5" ry="4" fill="rgb(102,102,102)" fill-opacity="1"/><ellipse cx="7" cy="83" rx="3" ry="6" fill="rgb(102,102,102)" fill-opacity="1"/><ellipse cx="27.5" cy="96" rx="4" ry="4" fill="rgb(108,108,108)" fill-opacity="1"/><ellipse cx="18" cy="66" rx="9" ry="7" fill="rgb(109,109,109)" fill-opacity="1"/><ellipse cx="28" cy="112" rx="10" ry="8" fill="rgb(153,153,153)" fill-opacity="1"/><ellipse cx="27" cy="92" rx="6" ry="8" fill="rgb(116,116,116)" fill-opacity="1"/><ellipse cx="100" cy="55" rx="10" ry="8" fill="rgb(153,153,153)" fill-opacity="1"/><ellipse cx="118" cy="52" rx="10" ry="7" fill="rgb(142,142,142)" fill-opacity="1"/><ellipse cx="147" cy="50" rx="20" ry="7" fill="rgb(143,143,143)" fill-opacity="1" transform="rotate(15 147 50)"/><ellipse cx="160" cy="50" rx="10" ry="10" fill="rgb(149,149,149)" fill-opacity="1"/><polygon points="119,56 133,53 147,62 150,80 149,104 145,124 130,126 121,110 120,80" fill="rgb(109,109,109)" fill-opacity="1"/><ellipse cx="131" cy="80" rx="3" ry="5" fill="rgb(99,99,99)" fill-opacity="1"/><ellipse cx="146" cy="81" rx="1.8" ry="7" fill="rgb(100,100,100)" fill-opacity="1"/><ellipse cx="133" cy="95" rx="4" ry="8" fill="rgb(108,108,108)" fill-opacity="1"/><polyline points="147,54 152.7,70 153,85 150,108 140.5,127 127,143 116,157" fill="none" stroke="rgb(152,152,152)" stroke-opacity="1" stroke-width="5" stroke-linecap="round" stroke-linejoin="round"/><ellipse cx="127" cy="60" rx="9" ry="5" fill="rgb(130,130,130)" fill-opacity="1"/><ellipse cx="112" cy="120" rx="6" ry="9" fill="rgb(113,113,113)" fill-opacity="1"/><polyline points="128,60 132,70" fill="none" stroke="rgb(139,139,139)" stroke-opacity="1" stroke-width="3" stroke-linecap="round" stroke-linejoin="round"/><ellipse cx="151" cy="95" rx="3" ry="4" fill="rgb(163,163,163)" fill-opacity="1"/><ellipse cx="15" cy="80" rx="5" ry="7" fill="rgb(170,170,170)" fill-opacity="1"/><polyline points="141,55 147,66 150,80" fill="none" stroke="rgb(162,162,162)" stroke-opacity="1" stroke-width="3" stroke-linecap="round" stroke-linejoin="round"/><polyline points="60,64 50,70" fill="none" stroke="rgb(176,176,176)" stroke-opacity="1" stroke-width="4" stroke-linecap="round" stroke-linejoin="round"/><ellipse cx="120" cy="90" rx="4" ry="18" fill="rgb(159,159,159)" fill-opacity="1"/><ellipse cx="142" cy="120" rx="8" ry="5" fill="rgb(145,145,145)" fill-opacity="1"/><ellipse cx="131" cy="143" rx="17" ry="14" fill="rgb(144,144,144)" fill-opacity="1"/><ellipse cx="133" cy="145" rx="7" ry="6" fill="rgb(146,146,146)" fill-opacity="1"/><ellipse cx="87" cy="146" rx="4" ry="5" fill="rgb(142,142,142)" fill-opacity="1"/><ellipse cx="97" cy="156" rx="8" ry="5" fill="rgb(150,150,150)" fill-opacity="1"/><ellipse cx="85" cy="162" rx="6" ry="2.5" fill="rgb(145,145,145)" fill-opacity="1"/><ellipse cx="85" cy="168" rx="7" ry="4" fill="rgb(103,103,103)" fill-opacity="1"/><polyline points="78,177 95,179 110,177" fill="none" stroke="rgb(109,109,109)" stroke-opacity="1" stroke-width="3" stroke-linecap="round" stroke-linejoin="round"/><ellipse cx="113" cy="162" rx="7" ry="5" fill="rgb(113,113,113)" fill-opacity="1"/><ellipse cx="132" cy="157" rx="7" ry="3" fill="rgb(113,113,113)" fill-opacity="1"/><ellipse cx="100" cy="150" rx="8" ry="6" fill="rgb(119,119,119)" fill-opacity="1"/><ellipse cx="163" cy="128" rx="12" ry="12" fill="rgb(116,116,116)" fill-opacity="1"/><ellipse cx="108" cy="128" rx="6" ry="10" fill="rgb(120,120,120)" fill-opacity="1"/><ellipse cx="120" cy="131" rx="6" ry="5" fill="rgb(108,108,108)" fill-opacity="1"/><ellipse cx="140" cy="109" rx="12" ry="6" fill="rgb(112,112,112)" fill-opacity="1"/></g>
</g></g>
<use href="#landP" fill="none" stroke="#000" stroke-width="0.9" stroke-linejoin="round"/>
<text x="60.7" y="26.4" font-size="10.5" fill="#262626">40°N</text>
<text x="59.8" y="144.4" font-size="10.5" fill="#262626">60°N</text>
</svg>
<rect x="0.5" y="0.5" width="181" height="181" fill="none" stroke="#6b6b6b" stroke-width="1"/>
<text x="3.4" y="13.1" font-size="12.4" fill="#262626" text-anchor="start">(d)</text>
</g>
<g transform="translate(240 225)">
<svg x="0.5" y="0.5" width="181" height="181" viewBox="0.5 0.5 181 181" overflow="hidden">
<circle cx="90.8" cy="90.8" r="90.40" fill="#eef7fa"/>
<use href="#grat"/>
<use href="#landP" fill="#fff"/>
<g clip-path="url(#dataClip)"><g mask="url(#covM)">
<g filter="url(#valF4)"><rect x="0" y="0" width="182" height="182" fill="rgb(132,132,132)"/><polygon points="6,48 40,45 78,44 62,56 48,74 38,96 30,118 0,122 0,50" fill="rgb(128,128,128)" fill-opacity="1"/><ellipse cx="20" cy="61" rx="13" ry="8" fill="rgb(112,112,112)" fill-opacity="1" transform="rotate(-15 20 61)"/><ellipse cx="40" cy="70" rx="5" ry="6" fill="rgb(109,109,109)" fill-opacity="1"/><polygon points="66,63 76,60 86,63 80,75 70,85 60,95 52,105 44,112 42,104 45,92 50,80 56,70" fill="rgb(164,164,164)" fill-opacity="1"/><polyline points="66,61.5 57,66 48,72.5 43.4,80.5 38.9,87.6 36.3,94.8 33.5,104" fill="none" stroke="rgb(196,196,196)" stroke-opacity="1" stroke-width="4.5" stroke-linecap="round" stroke-linejoin="round"/><ellipse cx="6" cy="95" rx="9" ry="15" fill="rgb(157,157,157)" fill-opacity="1"/><ellipse cx="15.5" cy="81.5" rx="2.5" ry="4" fill="rgb(167,167,167)" fill-opacity="1"/><ellipse cx="41" cy="57" rx="8" ry="5" fill="rgb(144,144,144)" fill-opacity="1"/><ellipse cx="66" cy="54" rx="11" ry="6" fill="rgb(140,140,140)" fill-opacity="1" transform="rotate(-20 66 54)"/><ellipse cx="58" cy="60.5" rx="7" ry="2.5" fill="rgb(106,106,106)" fill-opacity="1" transform="rotate(-25 58 60.5)"/><ellipse cx="25" cy="55.5" rx="6" ry="5" fill="rgb(97,97,97)" fill-opacity="1" transform="rotate(-20 25 55.5)"/><ellipse cx="34" cy="51" rx="5" ry="3" fill="rgb(109,109,109)" fill-opacity="1" transform="rotate(-20 34 51)"/><ellipse cx="42" cy="75" rx="3.5" ry="4" fill="rgb(100,100,100)" fill-opacity="1"/><ellipse cx="7" cy="83" rx="3" ry="6" fill="rgb(100,100,100)" fill-opacity="1"/><ellipse cx="27.5" cy="96" rx="4" ry="4" fill="rgb(106,106,106)" fill-opacity="1"/><ellipse cx="18" cy="66" rx="9" ry="7" fill="rgb(108,108,108)" fill-opacity="1"/><ellipse cx="28" cy="112" rx="10" ry="8" fill="rgb(155,155,155)" fill-opacity="1"/><ellipse cx="27" cy="92" rx="6" ry="8" fill="rgb(115,115,115)" fill-opacity="1"/><ellipse cx="100" cy="55" rx="10" ry="8" fill="rgb(155,155,155)" fill-opacity="1"/><ellipse cx="118" cy="52" rx="10" ry="7" fill="rgb(143,143,143)" fill-opacity="1"/><ellipse cx="147" cy="50" rx="20" ry="7" fill="rgb(144,144,144)" fill-opacity="1" transform="rotate(15 147 50)"/><ellipse cx="160" cy="50" rx="10" ry="10" fill="rgb(150,150,150)" fill-opacity="1"/><polygon points="119,56 133,53 147,62 150,80 149,104 145,124 130,126 121,110 120,80" fill="rgb(108,108,108)" fill-opacity="1"/><ellipse cx="131" cy="80" rx="3" ry="5" fill="rgb(97,97,97)" fill-opacity="1"/><ellipse cx="146" cy="81" rx="1.8" ry="7" fill="rgb(98,98,98)" fill-opacity="1"/><ellipse cx="133" cy="95" rx="4" ry="8" fill="rgb(106,106,106)" fill-opacity="1"/><polyline points="147,54 152.7,70 153,85 150,108 140.5,127 127,143 116,157" fill="none" stroke="rgb(154,154,154)" stroke-opacity="1" stroke-width="5" stroke-linecap="round" stroke-linejoin="round"/><ellipse cx="127" cy="60" rx="9" ry="5" fill="rgb(131,131,131)" fill-opacity="1"/><ellipse cx="112" cy="120" rx="6" ry="9" fill="rgb(112,112,112)" fill-opacity="1"/><polyline points="128,60 132,70" fill="none" stroke="rgb(140,140,140)" stroke-opacity="1" stroke-width="3" stroke-linecap="round" stroke-linejoin="round"/><ellipse cx="151" cy="95" rx="3" ry="4" fill="rgb(166,166,166)" fill-opacity="1"/><ellipse cx="15" cy="80" rx="5" ry="7" fill="rgb(173,173,173)" fill-opacity="1"/><polyline points="141,55 147,66 150,80" fill="none" stroke="rgb(164,164,164)" stroke-opacity="1" stroke-width="3" stroke-linecap="round" stroke-linejoin="round"/><polyline points="60,64 50,70" fill="none" stroke="rgb(180,180,180)" stroke-opacity="1" stroke-width="4" stroke-linecap="round" stroke-linejoin="round"/><ellipse cx="120" cy="90" rx="4" ry="18" fill="rgb(161,161,161)" fill-opacity="1"/><ellipse cx="142" cy="120" rx="8" ry="5" fill="rgb(146,146,146)" fill-opacity="1"/><ellipse cx="131" cy="143" rx="17" ry="14" fill="rgb(145,145,145)" fill-opacity="1"/><ellipse cx="133" cy="145" rx="7" ry="6" fill="rgb(147,147,147)" fill-opacity="1"/><ellipse cx="87" cy="146" rx="4" ry="5" fill="rgb(143,143,143)" fill-opacity="1"/><ellipse cx="97" cy="156" rx="8" ry="5" fill="rgb(152,152,152)" fill-opacity="1"/><ellipse cx="85" cy="162" rx="6" ry="2.5" fill="rgb(146,146,146)" fill-opacity="1"/><ellipse cx="85" cy="168" rx="7" ry="4" fill="rgb(101,101,101)" fill-opacity="1"/><polyline points="78,177 95,179 110,177" fill="none" stroke="rgb(108,108,108)" stroke-opacity="1" stroke-width="3" stroke-linecap="round" stroke-linejoin="round"/><ellipse cx="113" cy="162" rx="7" ry="5" fill="rgb(112,112,112)" fill-opacity="1"/><ellipse cx="132" cy="157" rx="7" ry="3" fill="rgb(112,112,112)" fill-opacity="1"/><ellipse cx="100" cy="150" rx="8" ry="6" fill="rgb(118,118,118)" fill-opacity="1"/><ellipse cx="163" cy="128" rx="12" ry="12" fill="rgb(115,115,115)" fill-opacity="1"/><ellipse cx="108" cy="128" rx="6" ry="10" fill="rgb(120,120,120)" fill-opacity="1"/><ellipse cx="120" cy="131" rx="6" ry="5" fill="rgb(106,106,106)" fill-opacity="1"/><ellipse cx="140" cy="109" rx="12" ry="6" fill="rgb(111,111,111)" fill-opacity="1"/></g>
</g></g>
<use href="#landP" fill="none" stroke="#000" stroke-width="0.9" stroke-linejoin="round"/>
<text x="60.7" y="26.4" font-size="10.5" fill="#262626">40°N</text>
<text x="59.8" y="144.4" font-size="10.5" fill="#262626">60°N</text>
</svg>
<rect x="0.5" y="0.5" width="181" height="181" fill="none" stroke="#6b6b6b" stroke-width="1"/>
<text x="3.4" y="13.1" font-size="12.4" fill="#262626" text-anchor="start">(e)</text>
</g>
<g transform="translate(428 225)">
<svg x="0.5" y="0.5" width="181" height="181" viewBox="0.5 0.5 181 181" overflow="hidden">
<circle cx="90.8" cy="90.8" r="90.40" fill="#eef7fa"/>
<use href="#grat"/>
<use href="#landP" fill="#fff"/>
<g clip-path="url(#dataClip)"><g mask="url(#covM)">
<g filter="url(#valF5)"><rect x="0" y="0" width="182" height="182" fill="rgb(132,132,132)"/><polygon points="6,48 40,45 78,44 62,56 48,74 38,96 30,118 0,122 0,50" fill="rgb(128,128,128)" fill-opacity="1"/><ellipse cx="20" cy="61" rx="13" ry="8" fill="rgb(112,112,112)" fill-opacity="1" transform="rotate(-15 20 61)"/><ellipse cx="40" cy="70" rx="5" ry="6" fill="rgb(109,109,109)" fill-opacity="1"/><polygon points="66,63 76,60 86,63 80,75 70,85 60,95 52,105 44,112 42,104 45,92 50,80 56,70" fill="rgb(164,164,164)" fill-opacity="1"/><polyline points="66,61.5 57,66 48,72.5 43.4,80.5 38.9,87.6 36.3,94.8 33.5,104" fill="none" stroke="rgb(196,196,196)" stroke-opacity="1" stroke-width="4.5" stroke-linecap="round" stroke-linejoin="round"/><ellipse cx="6" cy="95" rx="9" ry="15" fill="rgb(157,157,157)" fill-opacity="1"/><ellipse cx="15.5" cy="81.5" rx="2.5" ry="4" fill="rgb(167,167,167)" fill-opacity="1"/><ellipse cx="41" cy="57" rx="8" ry="5" fill="rgb(144,144,144)" fill-opacity="1"/><ellipse cx="66" cy="54" rx="11" ry="6" fill="rgb(140,140,140)" fill-opacity="1" transform="rotate(-20 66 54)"/><ellipse cx="58" cy="60.5" rx="7" ry="2.5" fill="rgb(106,106,106)" fill-opacity="1" transform="rotate(-25 58 60.5)"/><ellipse cx="25" cy="55.5" rx="6" ry="5" fill="rgb(97,97,97)" fill-opacity="1" transform="rotate(-20 25 55.5)"/><ellipse cx="34" cy="51" rx="5" ry="3" fill="rgb(109,109,109)" fill-opacity="1" transform="rotate(-20 34 51)"/><ellipse cx="42" cy="75" rx="3.5" ry="4" fill="rgb(100,100,100)" fill-opacity="1"/><ellipse cx="7" cy="83" rx="3" ry="6" fill="rgb(100,100,100)" fill-opacity="1"/><ellipse cx="27.5" cy="96" rx="4" ry="4" fill="rgb(106,106,106)" fill-opacity="1"/><ellipse cx="18" cy="66" rx="9" ry="7" fill="rgb(108,108,108)" fill-opacity="1"/><ellipse cx="28" cy="112" rx="10" ry="8" fill="rgb(155,155,155)" fill-opacity="1"/><ellipse cx="27" cy="92" rx="6" ry="8" fill="rgb(115,115,115)" fill-opacity="1"/><ellipse cx="100" cy="55" rx="10" ry="8" fill="rgb(155,155,155)" fill-opacity="1"/><ellipse cx="118" cy="52" rx="10" ry="7" fill="rgb(143,143,143)" fill-opacity="1"/><ellipse cx="147" cy="50" rx="20" ry="7" fill="rgb(144,144,144)" fill-opacity="1" transform="rotate(15 147 50)"/><ellipse cx="160" cy="50" rx="10" ry="10" fill="rgb(150,150,150)" fill-opacity="1"/><polygon points="119,56 133,53 147,62 150,80 149,104 145,124 130,126 121,110 120,80" fill="rgb(108,108,108)" fill-opacity="1"/><ellipse cx="131" cy="80" rx="3" ry="5" fill="rgb(97,97,97)" fill-opacity="1"/><ellipse cx="146" cy="81" rx="1.8" ry="7" fill="rgb(98,98,98)" fill-opacity="1"/><ellipse cx="133" cy="95" rx="4" ry="8" fill="rgb(106,106,106)" fill-opacity="1"/><polyline points="147,54 152.7,70 153,85 150,108 140.5,127 127,143 116,157" fill="none" stroke="rgb(154,154,154)" stroke-opacity="1" stroke-width="5" stroke-linecap="round" stroke-linejoin="round"/><ellipse cx="127" cy="60" rx="9" ry="5" fill="rgb(131,131,131)" fill-opacity="1"/><ellipse cx="112" cy="120" rx="6" ry="9" fill="rgb(112,112,112)" fill-opacity="1"/><polyline points="128,60 132,70" fill="none" stroke="rgb(140,140,140)" stroke-opacity="1" stroke-width="3" stroke-linecap="round" stroke-linejoin="round"/><ellipse cx="151" cy="95" rx="3" ry="4" fill="rgb(166,166,166)" fill-opacity="1"/><ellipse cx="15" cy="80" rx="5" ry="7" fill="rgb(173,173,173)" fill-opacity="1"/><polyline points="141,55 147,66 150,80" fill="none" stroke="rgb(164,164,164)" stroke-opacity="1" stroke-width="3" stroke-linecap="round" stroke-linejoin="round"/><polyline points="60,64 50,70" fill="none" stroke="rgb(180,180,180)" stroke-opacity="1" stroke-width="4" stroke-linecap="round" stroke-linejoin="round"/><ellipse cx="120" cy="90" rx="4" ry="18" fill="rgb(161,161,161)" fill-opacity="1"/><ellipse cx="142" cy="120" rx="8" ry="5" fill="rgb(146,146,146)" fill-opacity="1"/><ellipse cx="131" cy="143" rx="17" ry="14" fill="rgb(145,145,145)" fill-opacity="1"/><ellipse cx="133" cy="145" rx="7" ry="6" fill="rgb(147,147,147)" fill-opacity="1"/><ellipse cx="87" cy="146" rx="4" ry="5" fill="rgb(143,143,143)" fill-opacity="1"/><ellipse cx="97" cy="156" rx="8" ry="5" fill="rgb(152,152,152)" fill-opacity="1"/><ellipse cx="85" cy="162" rx="6" ry="2.5" fill="rgb(146,146,146)" fill-opacity="1"/><ellipse cx="85" cy="168" rx="7" ry="4" fill="rgb(101,101,101)" fill-opacity="1"/><polyline points="78,177 95,179 110,177" fill="none" stroke="rgb(108,108,108)" stroke-opacity="1" stroke-width="3" stroke-linecap="round" stroke-linejoin="round"/><ellipse cx="113" cy="162" rx="7" ry="5" fill="rgb(112,112,112)" fill-opacity="1"/><ellipse cx="132" cy="157" rx="7" ry="3" fill="rgb(112,112,112)" fill-opacity="1"/><ellipse cx="100" cy="150" rx="8" ry="6" fill="rgb(118,118,118)" fill-opacity="1"/><ellipse cx="163" cy="128" rx="12" ry="12" fill="rgb(115,115,115)" fill-opacity="1"/><ellipse cx="108" cy="128" rx="6" ry="10" fill="rgb(120,120,120)" fill-opacity="1"/><ellipse cx="120" cy="131" rx="6" ry="5" fill="rgb(106,106,106)" fill-opacity="1"/><ellipse cx="140" cy="109" rx="12" ry="6" fill="rgb(111,111,111)" fill-opacity="1"/></g>
</g></g>
<use href="#landP" fill="none" stroke="#000" stroke-width="0.9" stroke-linejoin="round"/>
<text x="60.7" y="26.4" font-size="10.5" fill="#262626">40°N</text>
<text x="59.8" y="144.4" font-size="10.5" fill="#262626">60°N</text>
</svg>
<rect x="0.5" y="0.5" width="181" height="181" fill="none" stroke="#6b6b6b" stroke-width="1"/>
<text x="3.4" y="13.1" font-size="12.4" fill="#262626" text-anchor="start">(f)</text>
</g>
<line x1="143" y1="34" x2="143" y2="37" stroke="#262626" stroke-width="1.1"/>
<text x="143.3" y="31" font-size="9.1" fill="#4d4d4d" text-anchor="middle">180°</text>
<line x1="143" y1="407" x2="143" y2="410" stroke="#262626" stroke-width="1.1"/>
<text x="144.8" y="418.7" font-size="9.1" fill="#4d4d4d" text-anchor="middle">0°</text>
<line x1="331" y1="34" x2="331" y2="37" stroke="#262626" stroke-width="1.1"/>
<text x="331.3" y="31" font-size="9.1" fill="#4d4d4d" text-anchor="middle">180°</text>
<line x1="331" y1="407" x2="331" y2="410" stroke="#262626" stroke-width="1.1"/>
<text x="332.8" y="418.7" font-size="9.1" fill="#4d4d4d" text-anchor="middle">0°</text>
<line x1="519" y1="34" x2="519" y2="37" stroke="#262626" stroke-width="1.1"/>
<text x="519.3" y="31" font-size="9.1" fill="#4d4d4d" text-anchor="middle">180°</text>
<line x1="519" y1="407" x2="519" y2="410" stroke="#262626" stroke-width="1.1"/>
<text x="520.8" y="418.7" font-size="9.1" fill="#4d4d4d" text-anchor="middle">0°</text>
<line x1="49" y1="75.8" x2="52" y2="75.8" stroke="#262626" stroke-width="1.1"/>
<text x="44.6" y="75" font-size="9.5" fill="#4d4d4d" text-anchor="middle" transform="rotate(-90 44.6 75)">120°W</text>
<line x1="610" y1="75.8" x2="613" y2="75.8" stroke="#262626" stroke-width="1.1"/>
<text x="622.5" y="75" font-size="8.9" fill="#4d4d4d" text-anchor="start" transform="rotate(-90 622.5 75)">120°E</text>
<line x1="49" y1="180.2" x2="52" y2="180.2" stroke="#262626" stroke-width="1.1"/>
<text x="44.6" y="179.4" font-size="9.5" fill="#4d4d4d" text-anchor="middle" transform="rotate(-90 44.6 179.4)">60°W</text>
<line x1="610" y1="180.2" x2="613" y2="180.2" stroke="#262626" stroke-width="1.1"/>
<text x="622.5" y="179.4" font-size="8.9" fill="#4d4d4d" text-anchor="start" transform="rotate(-90 622.5 179.4)">60°E</text>
<line x1="49" y1="263.8" x2="52" y2="263.8" stroke="#262626" stroke-width="1.1"/>
<text x="44.6" y="263" font-size="9.5" fill="#4d4d4d" text-anchor="middle" transform="rotate(-90 44.6 263)">120°W</text>
<line x1="610" y1="263.8" x2="613" y2="263.8" stroke="#262626" stroke-width="1.1"/>
<text x="622.5" y="263" font-size="8.9" fill="#4d4d4d" text-anchor="start" transform="rotate(-90 622.5 263)">120°E</text>
<line x1="49" y1="368.2" x2="52" y2="368.2" stroke="#262626" stroke-width="1.1"/>
<text x="44.6" y="367.4" font-size="9.5" fill="#4d4d4d" text-anchor="middle" transform="rotate(-90 44.6 367.4)">60°W</text>
<line x1="610" y1="368.2" x2="613" y2="368.2" stroke="#262626" stroke-width="1.1"/>
<text x="622.5" y="367.4" font-size="8.9" fill="#4d4d4d" text-anchor="start" transform="rotate(-90 622.5 367.4)">60°E</text>
<rect x="632" y="135.10" width="8" height="10.89" fill="#3a0208"/>
<rect x="632" y="145.94" width="8" height="10.89" fill="#5e1218"/>
<rect x="632" y="156.78" width="8" height="10.89" fill="#a0182e"/>
<rect x="632" y="167.62" width="8" height="10.89" fill="#d83a2e"/>
<rect x="632" y="178.46" width="8" height="10.89" fill="#ec6b48"/>
<rect x="632" y="189.30" width="8" height="10.89" fill="#eda462"/>
<rect x="632" y="200.14" width="8" height="10.89" fill="#efda88"/>
<rect x="632" y="210.98" width="8" height="10.89" fill="#f3fcc2"/>
<rect x="632" y="221.82" width="8" height="10.89" fill="#e0f4f6"/>
<rect x="632" y="232.66" width="8" height="10.89" fill="#abdee5"/>
<rect x="632" y="243.50" width="8" height="10.89" fill="#78b0d2"/>
<rect x="632" y="254.34" width="8" height="10.89" fill="#4a7cc0"/>
<rect x="632" y="265.18" width="8" height="10.89" fill="#2e3a9c"/>
<rect x="632" y="276.02" width="8" height="10.89" fill="#4a2488"/>
<rect x="632" y="286.86" width="8" height="10.89" fill="#362a74"/>
<rect x="632" y="297.70" width="8" height="10.89" fill="#1c1a4e"/>
<line x1="632" y1="145.94" x2="640" y2="145.94" stroke="#fff" stroke-width="0.6" opacity="0.55"/>
<line x1="632" y1="156.78" x2="640" y2="156.78" stroke="#fff" stroke-width="0.6" opacity="0.55"/>
<line x1="632" y1="167.62" x2="640" y2="167.62" stroke="#fff" stroke-width="0.6" opacity="0.55"/>
<line x1="632" y1="178.46" x2="640" y2="178.46" stroke="#fff" stroke-width="0.6" opacity="0.55"/>
<line x1="632" y1="189.30" x2="640" y2="189.30" stroke="#fff" stroke-width="0.6" opacity="0.55"/>
<line x1="632" y1="200.14" x2="640" y2="200.14" stroke="#fff" stroke-width="0.6" opacity="0.55"/>
<line x1="632" y1="210.98" x2="640" y2="210.98" stroke="#fff" stroke-width="0.6" opacity="0.55"/>
<line x1="632" y1="221.82" x2="640" y2="221.82" stroke="#fff" stroke-width="0.6" opacity="0.55"/>
<line x1="632" y1="232.66" x2="640" y2="232.66" stroke="#fff" stroke-width="0.6" opacity="0.55"/>
<line x1="632" y1="243.50" x2="640" y2="243.50" stroke="#fff" stroke-width="0.6" opacity="0.55"/>
<line x1="632" y1="254.34" x2="640" y2="254.34" stroke="#fff" stroke-width="0.6" opacity="0.55"/>
<line x1="632" y1="265.18" x2="640" y2="265.18" stroke="#fff" stroke-width="0.6" opacity="0.55"/>
<line x1="632" y1="276.02" x2="640" y2="276.02" stroke="#fff" stroke-width="0.6" opacity="0.55"/>
<line x1="632" y1="286.86" x2="640" y2="286.86" stroke="#fff" stroke-width="0.6" opacity="0.55"/>
<line x1="632" y1="297.70" x2="640" y2="297.70" stroke="#fff" stroke-width="0.6" opacity="0.55"/>
<text x="646.2" y="148.04" font-size="9" fill="#1a1a1a" text-anchor="start">&gt;30</text>
<text x="646.2" y="158.88" font-size="9" fill="#1a1a1a" text-anchor="start">25</text>
<text x="646.2" y="169.72" font-size="9" fill="#1a1a1a" text-anchor="start">20</text>
<text x="646.2" y="180.56" font-size="9" fill="#1a1a1a" text-anchor="start">15</text>
<text x="646.2" y="191.4" font-size="9" fill="#1a1a1a" text-anchor="start">10</text>
<text x="646.2" y="202.24" font-size="9" fill="#1a1a1a" text-anchor="start">5.0</text>
<text x="646.2" y="213.08" font-size="9" fill="#1a1a1a" text-anchor="start">1.0</text>
<text x="646.2" y="223.92" font-size="9" fill="#1a1a1a" text-anchor="start">0.0</text>
<text x="646.2" y="234.76" font-size="9" fill="#1a1a1a" text-anchor="start">−1.0</text>
<text x="646.2" y="245.6" font-size="9" fill="#1a1a1a" text-anchor="start">−5.0</text>
<text x="646.2" y="256.44" font-size="9" fill="#1a1a1a" text-anchor="start">−10</text>
<text x="646.2" y="267.28" font-size="9" fill="#1a1a1a" text-anchor="start">−15</text>
<text x="646.2" y="278.12" font-size="9" fill="#1a1a1a" text-anchor="start">−20</text>
<text x="646.2" y="288.96" font-size="9" fill="#1a1a1a" text-anchor="start">−25</text>
<text x="646.2" y="299.8" font-size="9" fill="#1a1a1a" text-anchor="start">&lt;−30</text>
<text x="674.3" y="130.4" font-size="12.2" fill="#1a1a1a" text-anchor="start" transform="rotate(90 674.3 130.4)">Changes in contribution of TE (%)</text>
<rect x="52.5" y="425.5" width="181" height="225" fill="#fff"/>
<rect x="56.00" y="426.00" width="43.57" height="16.29" fill="#f7f7f7"/>
<rect x="99.28" y="426.00" width="43.57" height="16.29" fill="#f9f0eb"/>
<rect x="142.55" y="426.00" width="43.57" height="16.29" fill="#f7f7f7"/>
<rect x="185.82" y="426.00" width="43.57" height="16.29" fill="#f8f3f0"/>
<rect x="56.00" y="441.99" width="43.57" height="16.29" fill="#f7f6f5"/>
<rect x="99.28" y="441.99" width="43.57" height="16.29" fill="#d3e6f0"/>
<rect x="142.55" y="441.99" width="43.57" height="16.29" fill="#f7f7f7"/>
<rect x="185.82" y="441.99" width="43.57" height="16.29" fill="#eaf1f5"/>
<rect x="56.00" y="457.97" width="43.57" height="16.29" fill="#ef9777"/>
<rect x="99.28" y="457.97" width="43.57" height="16.29" fill="#db6b55"/>
<rect x="142.55" y="457.97" width="43.57" height="16.29" fill="#e68367"/>
<rect x="185.82" y="457.97" width="43.57" height="16.29" fill="#e48064"/>
<rect x="56.00" y="473.96" width="43.57" height="16.29" fill="#fbcbb2"/>
<rect x="99.28" y="473.96" width="43.57" height="16.29" fill="#fdd8c3"/>
<rect x="142.55" y="473.96" width="43.57" height="16.29" fill="#fccdb5"/>
<rect x="185.82" y="473.96" width="43.57" height="16.29" fill="#f7b08f"/>
<rect x="56.00" y="489.94" width="43.57" height="16.29" fill="#fccdb5"/>
<rect x="99.28" y="489.94" width="43.57" height="16.29" fill="#fbc8ae"/>
<rect x="142.55" y="489.94" width="43.57" height="16.29" fill="#fcd3bc"/>
<rect x="185.82" y="489.94" width="43.57" height="16.29" fill="#fac3a7"/>
<rect x="56.00" y="505.93" width="43.57" height="16.29" fill="#a61429"/>
<rect x="99.28" y="505.93" width="43.57" height="16.29" fill="#a21329"/>
<rect x="142.55" y="505.93" width="43.57" height="16.29" fill="#9f1128"/>
<rect x="185.82" y="505.93" width="43.57" height="16.29" fill="#c8483f"/>
<rect x="56.00" y="521.91" width="43.57" height="16.29" fill="#f8b596"/>
<rect x="99.28" y="521.91" width="43.57" height="16.29" fill="#fac3a7"/>
<rect x="142.55" y="521.91" width="43.57" height="16.29" fill="#f5a885"/>
<rect x="185.82" y="521.91" width="43.57" height="16.29" fill="#f5aa89"/>
<rect x="56.00" y="537.90" width="43.57" height="16.29" fill="#fbc5ab"/>
<rect x="99.28" y="537.90" width="43.57" height="16.29" fill="#fbc5ab"/>
<rect x="142.55" y="537.90" width="43.57" height="16.29" fill="#fbc5ab"/>
<rect x="185.82" y="537.90" width="43.57" height="16.29" fill="#fbc8ae"/>
<rect x="56.00" y="553.89" width="43.57" height="16.29" fill="#de725a"/>
<rect x="99.28" y="553.89" width="43.57" height="16.29" fill="#e0755c"/>
<rect x="142.55" y="553.89" width="43.57" height="16.29" fill="#e98a6c"/>
<rect x="185.82" y="553.89" width="43.57" height="16.29" fill="#f19e7c"/>
<rect x="56.00" y="569.87" width="43.57" height="16.29" fill="#e37c62"/>
<rect x="99.28" y="569.87" width="43.57" height="16.29" fill="#ed9474"/>
<rect x="142.55" y="569.87" width="43.57" height="16.29" fill="#d35a49"/>
<rect x="185.82" y="569.87" width="43.57" height="16.29" fill="#c6443d"/>
<rect x="56.00" y="585.86" width="43.57" height="16.29" fill="#f8b596"/>
<rect x="99.28" y="585.86" width="43.57" height="16.29" fill="#f8b89a"/>
<rect x="142.55" y="585.86" width="43.57" height="16.29" fill="#f9bb9d"/>
<rect x="185.82" y="585.86" width="43.57" height="16.29" fill="#f7b08f"/>
<rect x="56.00" y="601.84" width="43.57" height="16.29" fill="#d6604d"/>
<rect x="99.28" y="601.84" width="43.57" height="16.29" fill="#d35a49"/>
<rect x="142.55" y="601.84" width="43.57" height="16.29" fill="#cd5144"/>
<rect x="185.82" y="601.84" width="43.57" height="16.29" fill="#d6604d"/>
<rect x="56.00" y="617.83" width="43.57" height="16.29" fill="#f8b89a"/>
<rect x="99.28" y="617.83" width="43.57" height="16.29" fill="#f8b89a"/>
<rect x="142.55" y="617.83" width="43.57" height="16.29" fill="#fac0a4"/>
<rect x="185.82" y="617.83" width="43.57" height="16.29" fill="#fac3a7"/>
<rect x="56.00" y="633.81" width="43.57" height="16.29" fill="#fbc8ae"/>
<rect x="99.28" y="633.81" width="43.57" height="16.29" fill="#fdd8c3"/>
<rect x="142.55" y="633.81" width="43.57" height="16.29" fill="#f9bda1"/>
<rect x="185.82" y="633.81" width="43.57" height="16.29" fill="#fccdb5"/>
<line x1="53" y1="433.99" x2="56" y2="433.99" stroke="#cfcfcf" stroke-width="0.8"/>
<line x1="229.6" y1="433.99" x2="232.5" y2="433.99" stroke="#cfcfcf" stroke-width="0.8"/>
<line x1="53" y1="449.98" x2="56" y2="449.98" stroke="#cfcfcf" stroke-width="0.8"/>
<line x1="229.6" y1="449.98" x2="232.5" y2="449.98" stroke="#cfcfcf" stroke-width="0.8"/>
<line x1="53" y1="465.96" x2="56" y2="465.96" stroke="#cfcfcf" stroke-width="0.8"/>
<line x1="229.6" y1="465.96" x2="232.5" y2="465.96" stroke="#cfcfcf" stroke-width="0.8"/>
<line x1="53" y1="481.95" x2="56" y2="481.95" stroke="#cfcfcf" stroke-width="0.8"/>
<line x1="229.6" y1="481.95" x2="232.5" y2="481.95" stroke="#cfcfcf" stroke-width="0.8"/>
<line x1="53" y1="497.94" x2="56" y2="497.94" stroke="#cfcfcf" stroke-width="0.8"/>
<line x1="229.6" y1="497.94" x2="232.5" y2="497.94" stroke="#cfcfcf" stroke-width="0.8"/>
<line x1="53" y1="513.92" x2="56" y2="513.92" stroke="#cfcfcf" stroke-width="0.8"/>
<line x1="229.6" y1="513.92" x2="232.5" y2="513.92" stroke="#cfcfcf" stroke-width="0.8"/>
<line x1="53" y1="529.91" x2="56" y2="529.91" stroke="#cfcfcf" stroke-width="0.8"/>
<line x1="229.6" y1="529.91" x2="232.5" y2="529.91" stroke="#cfcfcf" stroke-width="0.8"/>
<line x1="53" y1="545.89" x2="56" y2="545.89" stroke="#cfcfcf" stroke-width="0.8"/>
<line x1="229.6" y1="545.89" x2="232.5" y2="545.89" stroke="#cfcfcf" stroke-width="0.8"/>
<line x1="53" y1="561.88" x2="56" y2="561.88" stroke="#cfcfcf" stroke-width="0.8"/>
<line x1="229.6" y1="561.88" x2="232.5" y2="561.88" stroke="#cfcfcf" stroke-width="0.8"/>
<line x1="53" y1="577.86" x2="56" y2="577.86" stroke="#cfcfcf" stroke-width="0.8"/>
<line x1="229.6" y1="577.86" x2="232.5" y2="577.86" stroke="#cfcfcf" stroke-width="0.8"/>
<line x1="53" y1="593.85" x2="56" y2="593.85" stroke="#cfcfcf" stroke-width="0.8"/>
<line x1="229.6" y1="593.85" x2="232.5" y2="593.85" stroke="#cfcfcf" stroke-width="0.8"/>
<line x1="53" y1="609.84" x2="56" y2="609.84" stroke="#cfcfcf" stroke-width="0.8"/>
<line x1="229.6" y1="609.84" x2="232.5" y2="609.84" stroke="#cfcfcf" stroke-width="0.8"/>
<line x1="53" y1="625.82" x2="56" y2="625.82" stroke="#cfcfcf" stroke-width="0.8"/>
<line x1="229.6" y1="625.82" x2="232.5" y2="625.82" stroke="#cfcfcf" stroke-width="0.8"/>
<line x1="53" y1="641.81" x2="56" y2="641.81" stroke="#cfcfcf" stroke-width="0.8"/>
<line x1="229.6" y1="641.81" x2="232.5" y2="641.81" stroke="#cfcfcf" stroke-width="0.8"/>
<text x="77.6375" y="433.2" font-size="8.9" fill="#111" text-anchor="middle">0</text>
<text x="120.912" y="433.2" font-size="8.9" fill="#111" text-anchor="middle">0.05</text>
<text x="164.188" y="433.2" font-size="8.9" fill="#111" text-anchor="middle">0</text>
<text x="207.463" y="433.2" font-size="8.9" fill="#111" text-anchor="middle">0.03</text>
<text x="77.6375" y="449.186" font-size="8.9" fill="#111" text-anchor="middle">0.01</text>
<text x="120.912" y="449.186" font-size="8.9" fill="#111" text-anchor="middle">−0.19</text>
<text x="164.188" y="449.186" font-size="8.9" fill="#111" text-anchor="middle">0</text>
<text x="207.463" y="449.186" font-size="8.9" fill="#111" text-anchor="middle">−0.07</text>
<text x="77.6375" y="465.171" font-size="8.9" fill="#111" text-anchor="middle">0.44</text>
<text x="77.6375" y="473.171" font-size="8.9" fill="#111" text-anchor="middle">***</text>
<text x="120.912" y="465.171" font-size="8.9" fill="#111" text-anchor="middle">0.57</text>
<text x="120.912" y="473.171" font-size="8.9" fill="#111" text-anchor="middle">***</text>
<text x="164.188" y="465.171" font-size="8.9" fill="#111" text-anchor="middle">0.5</text>
<text x="164.188" y="473.171" font-size="8.9" fill="#111" text-anchor="middle">***</text>
<text x="207.463" y="465.171" font-size="8.9" fill="#111" text-anchor="middle">0.51</text>
<text x="207.463" y="473.171" font-size="8.9" fill="#111" text-anchor="middle">***</text>
<text x="77.6375" y="481.157" font-size="8.9" fill="#111" text-anchor="middle">0.26</text>
<text x="77.6375" y="489.157" font-size="8.9" fill="#111" text-anchor="middle">*</text>
<text x="120.912" y="481.157" font-size="8.9" fill="#111" text-anchor="middle">0.21</text>
<text x="164.188" y="481.157" font-size="8.9" fill="#111" text-anchor="middle">0.25</text>
<text x="164.188" y="489.157" font-size="8.9" fill="#111" text-anchor="middle">*</text>
<text x="207.463" y="481.157" font-size="8.9" fill="#111" text-anchor="middle">0.36</text>
<text x="207.463" y="489.157" font-size="8.9" fill="#111" text-anchor="middle">**</text>
<text x="77.6375" y="497.143" font-size="8.9" fill="#111" text-anchor="middle">0.25</text>
<text x="77.6375" y="505.143" font-size="8.9" fill="#111" text-anchor="middle">**</text>
<text x="120.912" y="497.143" font-size="8.9" fill="#111" text-anchor="middle">0.27</text>
<text x="120.912" y="505.143" font-size="8.9" fill="#111" text-anchor="middle">***</text>
<text x="164.188" y="497.143" font-size="8.9" fill="#111" text-anchor="middle">0.23</text>
<text x="164.188" y="505.143" font-size="8.9" fill="#111" text-anchor="middle">**</text>
<text x="207.463" y="497.143" font-size="8.9" fill="#111" text-anchor="middle">0.29</text>
<text x="207.463" y="505.143" font-size="8.9" fill="#111" text-anchor="middle">***</text>
<text x="77.6375" y="513.129" font-size="8.9" fill="#111" text-anchor="middle">0.83</text>
<text x="77.6375" y="521.129" font-size="8.9" fill="#111" text-anchor="middle">***</text>
<text x="120.912" y="513.129" font-size="8.9" fill="#111" text-anchor="middle">0.84</text>
<text x="120.912" y="521.129" font-size="8.9" fill="#111" text-anchor="middle">***</text>
<text x="164.188" y="513.129" font-size="8.9" fill="#111" text-anchor="middle">0.85</text>
<text x="164.188" y="521.129" font-size="8.9" fill="#111" text-anchor="middle">***</text>
<text x="207.463" y="513.129" font-size="8.9" fill="#111" text-anchor="middle">0.68</text>
<text x="207.463" y="521.129" font-size="8.9" fill="#111" text-anchor="middle">***</text>
<text x="77.6375" y="529.114" font-size="8.9" fill="#111" text-anchor="middle">0.34</text>
<text x="77.6375" y="537.114" font-size="8.9" fill="#111" text-anchor="middle">***</text>
<text x="120.912" y="529.114" font-size="8.9" fill="#111" text-anchor="middle">0.29</text>
<text x="120.912" y="537.114" font-size="8.9" fill="#111" text-anchor="middle">**</text>
<text x="164.188" y="529.114" font-size="8.9" fill="#111" text-anchor="middle">0.39</text>
<text x="164.188" y="537.114" font-size="8.9" fill="#111" text-anchor="middle">***</text>
<text x="207.463" y="529.114" font-size="8.9" fill="#111" text-anchor="middle">0.38</text>
<text x="207.463" y="537.114" font-size="8.9" fill="#111" text-anchor="middle">***</text>
<text x="77.6375" y="545.1" font-size="8.9" fill="#111" text-anchor="middle">0.28</text>
<text x="77.6375" y="553.1" font-size="8.9" fill="#111" text-anchor="middle">***</text>
<text x="120.912" y="545.1" font-size="8.9" fill="#111" text-anchor="middle">0.28</text>
<text x="120.912" y="553.1" font-size="8.9" fill="#111" text-anchor="middle">***</text>
<text x="164.188" y="545.1" font-size="8.9" fill="#111" text-anchor="middle">0.28</text>
<text x="164.188" y="553.1" font-size="8.9" fill="#111" text-anchor="middle">***</text>
<text x="207.463" y="545.1" font-size="8.9" fill="#111" text-anchor="middle">0.27</text>
<text x="207.463" y="553.1" font-size="8.9" fill="#111" text-anchor="middle">***</text>
<text x="77.6375" y="561.086" font-size="8.9" fill="#111" text-anchor="middle">0.55</text>
<text x="77.6375" y="569.086" font-size="8.9" fill="#111" text-anchor="middle">***</text>
<text x="120.912" y="561.086" font-size="8.9" fill="#111" text-anchor="middle">0.54</text>
<text x="120.912" y="569.086" font-size="8.9" fill="#111" text-anchor="middle">***</text>
<text x="164.188" y="561.086" font-size="8.9" fill="#111" text-anchor="middle">0.48</text>
<text x="164.188" y="569.086" font-size="8.9" fill="#111" text-anchor="middle">***</text>
<text x="207.463" y="561.086" font-size="8.9" fill="#111" text-anchor="middle">0.42</text>
<text x="207.463" y="569.086" font-size="8.9" fill="#111" text-anchor="middle">***</text>
<text x="77.6375" y="577.071" font-size="8.9" fill="#111" text-anchor="middle">0.52</text>
<text x="77.6375" y="585.071" font-size="8.9" fill="#111" text-anchor="middle">***</text>
<text x="120.912" y="577.071" font-size="8.9" fill="#111" text-anchor="middle">0.45</text>
<text x="120.912" y="585.071" font-size="8.9" fill="#111" text-anchor="middle">***</text>
<text x="164.188" y="577.071" font-size="8.9" fill="#111" text-anchor="middle">0.62</text>
<text x="164.188" y="585.071" font-size="8.9" fill="#111" text-anchor="middle">***</text>
<text x="207.463" y="577.071" font-size="8.9" fill="#111" text-anchor="middle">0.69</text>
<text x="207.463" y="585.071" font-size="8.9" fill="#111" text-anchor="middle">***</text>
<text x="77.6375" y="593.057" font-size="8.9" fill="#111" text-anchor="middle">0.34</text>
<text x="77.6375" y="601.057" font-size="8.9" fill="#111" text-anchor="middle">***</text>
<text x="120.912" y="593.057" font-size="8.9" fill="#111" text-anchor="middle">0.33</text>
<text x="120.912" y="601.057" font-size="8.9" fill="#111" text-anchor="middle">***</text>
<text x="164.188" y="593.057" font-size="8.9" fill="#111" text-anchor="middle">0.32</text>
<text x="164.188" y="601.057" font-size="8.9" fill="#111" text-anchor="middle">***</text>
<text x="207.463" y="593.057" font-size="8.9" fill="#111" text-anchor="middle">0.36</text>
<text x="207.463" y="601.057" font-size="8.9" fill="#111" text-anchor="middle">***</text>
<text x="77.6375" y="609.043" font-size="8.9" fill="#111" text-anchor="middle">0.6</text>
<text x="77.6375" y="617.043" font-size="8.9" fill="#111" text-anchor="middle">***</text>
<text x="120.912" y="609.043" font-size="8.9" fill="#111" text-anchor="middle">0.62</text>
<text x="120.912" y="617.043" font-size="8.9" fill="#111" text-anchor="middle">***</text>
<text x="164.188" y="609.043" font-size="8.9" fill="#111" text-anchor="middle">0.65</text>
<text x="164.188" y="617.043" font-size="8.9" fill="#111" text-anchor="middle">***</text>
<text x="207.463" y="609.043" font-size="8.9" fill="#111" text-anchor="middle">0.6</text>
<text x="207.463" y="617.043" font-size="8.9" fill="#111" text-anchor="middle">***</text>
<text x="77.6375" y="625.029" font-size="8.9" fill="#111" text-anchor="middle">0.33</text>
<text x="77.6375" y="633.029" font-size="8.9" fill="#111" text-anchor="middle">***</text>
<text x="120.912" y="625.029" font-size="8.9" fill="#111" text-anchor="middle">0.33</text>
<text x="120.912" y="633.029" font-size="8.9" fill="#111" text-anchor="middle">***</text>
<text x="164.188" y="625.029" font-size="8.9" fill="#111" text-anchor="middle">0.3</text>
<text x="164.188" y="633.029" font-size="8.9" fill="#111" text-anchor="middle">***</text>
<text x="207.463" y="625.029" font-size="8.9" fill="#111" text-anchor="middle">0.29</text>
<text x="207.463" y="633.029" font-size="8.9" fill="#111" text-anchor="middle">***</text>
<text x="77.6375" y="641.014" font-size="8.9" fill="#111" text-anchor="middle">0.27</text>
<text x="77.6375" y="649.014" font-size="8.9" fill="#111" text-anchor="middle">***</text>
<text x="120.912" y="641.014" font-size="8.9" fill="#111" text-anchor="middle">0.21</text>
<text x="120.912" y="649.014" font-size="8.9" fill="#111" text-anchor="middle">**</text>
<text x="164.188" y="641.014" font-size="8.9" fill="#111" text-anchor="middle">0.31</text>
<text x="164.188" y="649.014" font-size="8.9" fill="#111" text-anchor="middle">***</text>
<text x="207.463" y="641.014" font-size="8.9" fill="#111" text-anchor="middle">0.25</text>
<text x="207.463" y="649.014" font-size="8.9" fill="#111" text-anchor="middle">***</text>
<rect x="52.5" y="425.5" width="181" height="225" fill="none" stroke="#7a7a7a" stroke-width="1"/>
<line x1="52" y1="650.6" x2="234" y2="650.6" stroke="#b3b3b3" stroke-width="1.3"/>
<text x="69.0375" y="662.2" font-size="9.4" fill="#4d4d4d" text-anchor="start" font-style="italic" transform="rotate(13 69.0375 662.2)">SSP1−2.6</text>
<text x="112.312" y="662.2" font-size="9.4" fill="#4d4d4d" text-anchor="start" font-style="italic" transform="rotate(13 112.312 662.2)">SSP2−4.5</text>
<text x="155.588" y="662.2" font-size="9.4" fill="#4d4d4d" text-anchor="start" font-style="italic" transform="rotate(13 155.588 662.2)">SSP3−7.0</text>
<text x="198.863" y="662.2" font-size="9.4" fill="#4d4d4d" text-anchor="start" font-style="italic" transform="rotate(13 198.863 662.2)">SSP5−8.5</text>
<rect x="240.5" y="425.5" width="181" height="225" fill="#fff"/>
<rect x="244.00" y="426.00" width="43.58" height="16.29" fill="#f9f0eb"/>
<rect x="287.27" y="426.00" width="43.58" height="16.29" fill="#f9f0eb"/>
<rect x="330.55" y="426.00" width="43.58" height="16.29" fill="#faeae1"/>
<rect x="373.83" y="426.00" width="43.58" height="16.29" fill="#faede6"/>
<rect x="244.00" y="441.99" width="43.58" height="16.29" fill="#e6eff4"/>
<rect x="287.27" y="441.99" width="43.58" height="16.29" fill="#ddeaf2"/>
<rect x="330.55" y="441.99" width="43.58" height="16.29" fill="#c8e0ed"/>
<rect x="373.83" y="441.99" width="43.58" height="16.29" fill="#c2ddec"/>
<rect x="244.00" y="457.97" width="43.58" height="16.29" fill="#ed9474"/>
<rect x="287.27" y="457.97" width="43.58" height="16.29" fill="#de725a"/>
<rect x="330.55" y="457.97" width="43.58" height="16.29" fill="#e68367"/>
<rect x="373.83" y="457.97" width="43.58" height="16.29" fill="#ea8d6f"/>
<rect x="244.00" y="473.96" width="43.58" height="16.29" fill="#fac0a4"/>
<rect x="287.27" y="473.96" width="43.58" height="16.29" fill="#fdd8c3"/>
<rect x="330.55" y="473.96" width="43.58" height="16.29" fill="#fccdb5"/>
<rect x="373.83" y="473.96" width="43.58" height="16.29" fill="#fddbc7"/>
<rect x="244.00" y="489.94" width="43.58" height="16.29" fill="#fbc5ab"/>
<rect x="287.27" y="489.94" width="43.58" height="16.29" fill="#fddecc"/>
<rect x="330.55" y="489.94" width="43.58" height="16.29" fill="#fcd3bc"/>
<rect x="373.83" y="489.94" width="43.58" height="16.29" fill="#fbe9df"/>
<rect x="244.00" y="505.93" width="43.58" height="16.29" fill="#aa152a"/>
<rect x="287.27" y="505.93" width="43.58" height="16.29" fill="#b2182b"/>
<rect x="330.55" y="505.93" width="43.58" height="16.29" fill="#bd3335"/>
<rect x="373.83" y="505.93" width="43.58" height="16.29" fill="#b2182b"/>
<rect x="244.00" y="521.91" width="43.58" height="16.29" fill="#fbc5ab"/>
<rect x="287.27" y="521.91" width="43.58" height="16.29" fill="#f7b293"/>
<rect x="330.55" y="521.91" width="43.58" height="16.29" fill="#ef9777"/>
<rect x="373.83" y="521.91" width="43.58" height="16.29" fill="#f5a885"/>
<rect x="244.00" y="537.90" width="43.58" height="16.29" fill="#f9bda1"/>
<rect x="287.27" y="537.90" width="43.58" height="16.29" fill="#f9bda1"/>
<rect x="330.55" y="537.90" width="43.58" height="16.29" fill="#fbc8ae"/>
<rect x="373.83" y="537.90" width="43.58" height="16.29" fill="#fbc8ae"/>
<rect x="244.00" y="553.89" width="43.58" height="16.29" fill="#ec9172"/>
<rect x="287.27" y="553.89" width="43.58" height="16.29" fill="#e7866a"/>
<rect x="330.55" y="553.89" width="43.58" height="16.29" fill="#e1795f"/>
<rect x="373.83" y="553.89" width="43.58" height="16.29" fill="#f3a27f"/>
<rect x="244.00" y="569.87" width="43.58" height="16.29" fill="#f8b89a"/>
<rect x="287.27" y="569.87" width="43.58" height="16.29" fill="#e98a6c"/>
<rect x="330.55" y="569.87" width="43.58" height="16.29" fill="#e68367"/>
<rect x="373.83" y="569.87" width="43.58" height="16.29" fill="#f9bb9d"/>
<rect x="244.00" y="585.86" width="43.58" height="16.29" fill="#f8b596"/>
<rect x="287.27" y="585.86" width="43.58" height="16.29" fill="#f9bda1"/>
<rect x="330.55" y="585.86" width="43.58" height="16.29" fill="#f8b89a"/>
<rect x="373.83" y="585.86" width="43.58" height="16.29" fill="#fbcbb2"/>
<rect x="244.00" y="601.84" width="43.58" height="16.29" fill="#e0755c"/>
<rect x="287.27" y="601.84" width="43.58" height="16.29" fill="#d45d4b"/>
<rect x="330.55" y="601.84" width="43.58" height="16.29" fill="#c4413c"/>
<rect x="373.83" y="601.84" width="43.58" height="16.29" fill="#dc6e57"/>
<rect x="244.00" y="617.83" width="43.58" height="16.29" fill="#f9bb9d"/>
<rect x="287.27" y="617.83" width="43.58" height="16.29" fill="#fbc5ab"/>
<rect x="330.55" y="617.83" width="43.58" height="16.29" fill="#fbc8ae"/>
<rect x="373.83" y="617.83" width="43.58" height="16.29" fill="#f8b89a"/>
<rect x="244.00" y="633.81" width="43.58" height="16.29" fill="#f9bda1"/>
<rect x="287.27" y="633.81" width="43.58" height="16.29" fill="#fccdb5"/>
<rect x="330.55" y="633.81" width="43.58" height="16.29" fill="#f9bda1"/>
<rect x="373.83" y="633.81" width="43.58" height="16.29" fill="#f9bb9d"/>
<line x1="241" y1="433.99" x2="244" y2="433.99" stroke="#cfcfcf" stroke-width="0.8"/>
<line x1="417.6" y1="433.99" x2="420.5" y2="433.99" stroke="#cfcfcf" stroke-width="0.8"/>
<line x1="241" y1="449.98" x2="244" y2="449.98" stroke="#cfcfcf" stroke-width="0.8"/>
<line x1="417.6" y1="449.98" x2="420.5" y2="449.98" stroke="#cfcfcf" stroke-width="0.8"/>
<line x1="241" y1="465.96" x2="244" y2="465.96" stroke="#cfcfcf" stroke-width="0.8"/>
<line x1="417.6" y1="465.96" x2="420.5" y2="465.96" stroke="#cfcfcf" stroke-width="0.8"/>
<line x1="241" y1="481.95" x2="244" y2="481.95" stroke="#cfcfcf" stroke-width="0.8"/>
<line x1="417.6" y1="481.95" x2="420.5" y2="481.95" stroke="#cfcfcf" stroke-width="0.8"/>
<line x1="241" y1="497.94" x2="244" y2="497.94" stroke="#cfcfcf" stroke-width="0.8"/>
<line x1="417.6" y1="497.94" x2="420.5" y2="497.94" stroke="#cfcfcf" stroke-width="0.8"/>
<line x1="241" y1="513.92" x2="244" y2="513.92" stroke="#cfcfcf" stroke-width="0.8"/>
<line x1="417.6" y1="513.92" x2="420.5" y2="513.92" stroke="#cfcfcf" stroke-width="0.8"/>
<line x1="241" y1="529.91" x2="244" y2="529.91" stroke="#cfcfcf" stroke-width="0.8"/>
<line x1="417.6" y1="529.91" x2="420.5" y2="529.91" stroke="#cfcfcf" stroke-width="0.8"/>
<line x1="241" y1="545.89" x2="244" y2="545.89" stroke="#cfcfcf" stroke-width="0.8"/>
<line x1="417.6" y1="545.89" x2="420.5" y2="545.89" stroke="#cfcfcf" stroke-width="0.8"/>
<line x1="241" y1="561.88" x2="244" y2="561.88" stroke="#cfcfcf" stroke-width="0.8"/>
<line x1="417.6" y1="561.88" x2="420.5" y2="561.88" stroke="#cfcfcf" stroke-width="0.8"/>
<line x1="241" y1="577.86" x2="244" y2="577.86" stroke="#cfcfcf" stroke-width="0.8"/>
<line x1="417.6" y1="577.86" x2="420.5" y2="577.86" stroke="#cfcfcf" stroke-width="0.8"/>
<line x1="241" y1="593.85" x2="244" y2="593.85" stroke="#cfcfcf" stroke-width="0.8"/>
<line x1="417.6" y1="593.85" x2="420.5" y2="593.85" stroke="#cfcfcf" stroke-width="0.8"/>
<line x1="241" y1="609.84" x2="244" y2="609.84" stroke="#cfcfcf" stroke-width="0.8"/>
<line x1="417.6" y1="609.84" x2="420.5" y2="609.84" stroke="#cfcfcf" stroke-width="0.8"/>
<line x1="241" y1="625.82" x2="244" y2="625.82" stroke="#cfcfcf" stroke-width="0.8"/>
<line x1="417.6" y1="625.82" x2="420.5" y2="625.82" stroke="#cfcfcf" stroke-width="0.8"/>
<line x1="241" y1="641.81" x2="244" y2="641.81" stroke="#cfcfcf" stroke-width="0.8"/>
<line x1="417.6" y1="641.81" x2="420.5" y2="641.81" stroke="#cfcfcf" stroke-width="0.8"/>
<text x="265.637" y="433.2" font-size="8.9" fill="#111" text-anchor="middle">0.05</text>
<text x="308.913" y="433.2" font-size="8.9" fill="#111" text-anchor="middle">0.05</text>
<text x="352.188" y="433.2" font-size="8.9" fill="#111" text-anchor="middle">0.09</text>
<text x="395.463" y="433.2" font-size="8.9" fill="#111" text-anchor="middle">0.07</text>
<text x="265.637" y="449.186" font-size="8.9" fill="#111" text-anchor="middle">−0.09</text>
<text x="308.913" y="449.186" font-size="8.9" fill="#111" text-anchor="middle">−0.14</text>
<text x="352.188" y="449.186" font-size="8.9" fill="#111" text-anchor="middle">−0.23</text>
<text x="395.463" y="449.186" font-size="8.9" fill="#111" text-anchor="middle">−0.25</text>
<text x="265.637" y="465.171" font-size="8.9" fill="#111" text-anchor="middle">0.45</text>
<text x="265.637" y="473.171" font-size="8.9" fill="#111" text-anchor="middle">***</text>
<text x="308.913" y="465.171" font-size="8.9" fill="#111" text-anchor="middle">0.55</text>
<text x="308.913" y="473.171" font-size="8.9" fill="#111" text-anchor="middle">***</text>
<text x="352.188" y="465.171" font-size="8.9" fill="#111" text-anchor="middle">0.5</text>
<text x="352.188" y="473.171" font-size="8.9" fill="#111" text-anchor="middle">***</text>
<text x="395.463" y="465.171" font-size="8.9" fill="#111" text-anchor="middle">0.47</text>
<text x="395.463" y="473.171" font-size="8.9" fill="#111" text-anchor="middle">***</text>
<text x="265.637" y="481.157" font-size="8.9" fill="#111" text-anchor="middle">0.3</text>
<text x="265.637" y="489.157" font-size="8.9" fill="#111" text-anchor="middle">*</text>
<text x="308.913" y="481.157" font-size="8.9" fill="#111" text-anchor="middle">0.21</text>
<text x="352.188" y="481.157" font-size="8.9" fill="#111" text-anchor="middle">0.25</text>
<text x="352.188" y="489.157" font-size="8.9" fill="#111" text-anchor="middle">*</text>
<text x="395.463" y="481.157" font-size="8.9" fill="#111" text-anchor="middle">0.2</text>
<text x="265.637" y="497.143" font-size="8.9" fill="#111" text-anchor="middle">0.28</text>
<text x="265.637" y="505.143" font-size="8.9" fill="#111" text-anchor="middle">***</text>
<text x="308.913" y="497.143" font-size="8.9" fill="#111" text-anchor="middle">0.18</text>
<text x="308.913" y="505.143" font-size="8.9" fill="#111" text-anchor="middle">*</text>
<text x="352.188" y="497.143" font-size="8.9" fill="#111" text-anchor="middle">0.23</text>
<text x="352.188" y="505.143" font-size="8.9" fill="#111" text-anchor="middle">**</text>
<text x="395.463" y="497.143" font-size="8.9" fill="#111" text-anchor="middle">0.1</text>
<text x="265.637" y="513.129" font-size="8.9" fill="#111" text-anchor="middle">0.82</text>
<text x="265.637" y="521.129" font-size="8.9" fill="#111" text-anchor="middle">***</text>
<text x="308.913" y="513.129" font-size="8.9" fill="#111" text-anchor="middle">0.8</text>
<text x="308.913" y="521.129" font-size="8.9" fill="#111" text-anchor="middle">***</text>
<text x="352.188" y="513.129" font-size="8.9" fill="#111" text-anchor="middle">0.74</text>
<text x="352.188" y="521.129" font-size="8.9" fill="#111" text-anchor="middle">***</text>
<text x="395.463" y="513.129" font-size="8.9" fill="#111" text-anchor="middle">0.8</text>
<text x="395.463" y="521.129" font-size="8.9" fill="#111" text-anchor="middle">***</text>
<text x="265.637" y="529.114" font-size="8.9" fill="#111" text-anchor="middle">0.28</text>
<text x="265.637" y="537.114" font-size="8.9" fill="#111" text-anchor="middle">**</text>
<text x="308.913" y="529.114" font-size="8.9" fill="#111" text-anchor="middle">0.35</text>
<text x="308.913" y="537.114" font-size="8.9" fill="#111" text-anchor="middle">***</text>
<text x="352.188" y="529.114" font-size="8.9" fill="#111" text-anchor="middle">0.44</text>
<text x="352.188" y="537.114" font-size="8.9" fill="#111" text-anchor="middle">***</text>
<text x="395.463" y="529.114" font-size="8.9" fill="#111" text-anchor="middle">0.39</text>
<text x="395.463" y="537.114" font-size="8.9" fill="#111" text-anchor="middle">***</text>
<text x="265.637" y="545.1" font-size="8.9" fill="#111" text-anchor="middle">0.31</text>
<text x="265.637" y="553.1" font-size="8.9" fill="#111" text-anchor="middle">***</text>
<text x="308.913" y="545.1" font-size="8.9" fill="#111" text-anchor="middle">0.31</text>
<text x="308.913" y="553.1" font-size="8.9" fill="#111" text-anchor="middle">***</text>
<text x="352.188" y="545.1" font-size="8.9" fill="#111" text-anchor="middle">0.27</text>
<text x="352.188" y="553.1" font-size="8.9" fill="#111" text-anchor="middle">***</text>
<text x="395.463" y="545.1" font-size="8.9" fill="#111" text-anchor="middle">0.27</text>
<text x="395.463" y="553.1" font-size="8.9" fill="#111" text-anchor="middle">***</text>
<text x="265.637" y="561.086" font-size="8.9" fill="#111" text-anchor="middle">0.46</text>
<text x="265.637" y="569.086" font-size="8.9" fill="#111" text-anchor="middle">***</text>
<text x="308.913" y="561.086" font-size="8.9" fill="#111" text-anchor="middle">0.49</text>
<text x="308.913" y="569.086" font-size="8.9" fill="#111" text-anchor="middle">***</text>
<text x="352.188" y="561.086" font-size="8.9" fill="#111" text-anchor="middle">0.53</text>
<text x="352.188" y="569.086" font-size="8.9" fill="#111" text-anchor="middle">***</text>
<text x="395.463" y="561.086" font-size="8.9" fill="#111" text-anchor="middle">0.41</text>
<text x="395.463" y="569.086" font-size="8.9" fill="#111" text-anchor="middle">***</text>
<text x="265.637" y="577.071" font-size="8.9" fill="#111" text-anchor="middle">0.33</text>
<text x="265.637" y="585.071" font-size="8.9" fill="#111" text-anchor="middle">***</text>
<text x="308.913" y="577.071" font-size="8.9" fill="#111" text-anchor="middle">0.48</text>
<text x="308.913" y="585.071" font-size="8.9" fill="#111" text-anchor="middle">***</text>
<text x="352.188" y="577.071" font-size="8.9" fill="#111" text-anchor="middle">0.5</text>
<text x="352.188" y="585.071" font-size="8.9" fill="#111" text-anchor="middle">***</text>
<text x="395.463" y="577.071" font-size="8.9" fill="#111" text-anchor="middle">0.32</text>
<text x="395.463" y="585.071" font-size="8.9" fill="#111" text-anchor="middle">**</text>
<text x="265.637" y="593.057" font-size="8.9" fill="#111" text-anchor="middle">0.34</text>
<text x="265.637" y="601.057" font-size="8.9" fill="#111" text-anchor="middle">***</text>
<text x="308.913" y="593.057" font-size="8.9" fill="#111" text-anchor="middle">0.31</text>
<text x="308.913" y="601.057" font-size="8.9" fill="#111" text-anchor="middle">***</text>
<text x="352.188" y="593.057" font-size="8.9" fill="#111" text-anchor="middle">0.33</text>
<text x="352.188" y="601.057" font-size="8.9" fill="#111" text-anchor="middle">***</text>
<text x="395.463" y="593.057" font-size="8.9" fill="#111" text-anchor="middle">0.26</text>
<text x="395.463" y="601.057" font-size="8.9" fill="#111" text-anchor="middle">***</text>
<text x="265.637" y="609.043" font-size="8.9" fill="#111" text-anchor="middle">0.54</text>
<text x="265.637" y="617.043" font-size="8.9" fill="#111" text-anchor="middle">***</text>
<text x="308.913" y="609.043" font-size="8.9" fill="#111" text-anchor="middle">0.61</text>
<text x="308.913" y="617.043" font-size="8.9" fill="#111" text-anchor="middle">***</text>
<text x="352.188" y="609.043" font-size="8.9" fill="#111" text-anchor="middle">0.7</text>
<text x="352.188" y="617.043" font-size="8.9" fill="#111" text-anchor="middle">***</text>
<text x="395.463" y="609.043" font-size="8.9" fill="#111" text-anchor="middle">0.56</text>
<text x="395.463" y="617.043" font-size="8.9" fill="#111" text-anchor="middle">***</text>
<text x="265.637" y="625.029" font-size="8.9" fill="#111" text-anchor="middle">0.32</text>
<text x="265.637" y="633.029" font-size="8.9" fill="#111" text-anchor="middle">***</text>
<text x="308.913" y="625.029" font-size="8.9" fill="#111" text-anchor="middle">0.28</text>
<text x="308.913" y="633.029" font-size="8.9" fill="#111" text-anchor="middle">***</text>
<text x="352.188" y="625.029" font-size="8.9" fill="#111" text-anchor="middle">0.27</text>
<text x="352.188" y="633.029" font-size="8.9" fill="#111" text-anchor="middle">***</text>
<text x="395.463" y="625.029" font-size="8.9" fill="#111" text-anchor="middle">0.33</text>
<text x="395.463" y="633.029" font-size="8.9" fill="#111" text-anchor="middle">***</text>
<text x="265.637" y="641.014" font-size="8.9" fill="#111" text-anchor="middle">0.31</text>
<text x="265.637" y="649.014" font-size="8.9" fill="#111" text-anchor="middle">***</text>
<text x="308.913" y="641.014" font-size="8.9" fill="#111" text-anchor="middle">0.25</text>
<text x="308.913" y="649.014" font-size="8.9" fill="#111" text-anchor="middle">***</text>
<text x="352.188" y="641.014" font-size="8.9" fill="#111" text-anchor="middle">0.31</text>
<text x="352.188" y="649.014" font-size="8.9" fill="#111" text-anchor="middle">***</text>
<text x="395.463" y="641.014" font-size="8.9" fill="#111" text-anchor="middle">0.32</text>
<text x="395.463" y="649.014" font-size="8.9" fill="#111" text-anchor="middle">***</text>
<rect x="240.5" y="425.5" width="181" height="225" fill="none" stroke="#7a7a7a" stroke-width="1"/>
<line x1="240" y1="650.6" x2="422" y2="650.6" stroke="#b3b3b3" stroke-width="1.3"/>
<text x="257.037" y="662.2" font-size="9.4" fill="#4d4d4d" text-anchor="start" font-style="italic" transform="rotate(13 257.037 662.2)">SSP1−2.6</text>
<text x="300.312" y="662.2" font-size="9.4" fill="#4d4d4d" text-anchor="start" font-style="italic" transform="rotate(13 300.312 662.2)">SSP2−4.5</text>
<text x="343.587" y="662.2" font-size="9.4" fill="#4d4d4d" text-anchor="start" font-style="italic" transform="rotate(13 343.587 662.2)">SSP3−7.0</text>
<text x="386.863" y="662.2" font-size="9.4" fill="#4d4d4d" text-anchor="start" font-style="italic" transform="rotate(13 386.863 662.2)">SSP5−8.5</text>
<rect x="428.5" y="425.5" width="181" height="225" fill="#fff"/>
<rect x="432.00" y="426.00" width="43.58" height="16.29" fill="#f1f4f6"/>
<rect x="475.27" y="426.00" width="43.58" height="16.29" fill="#fce5d8"/>
<rect x="518.55" y="426.00" width="43.58" height="16.29" fill="#f7f7f7"/>
<rect x="561.83" y="426.00" width="43.58" height="16.29" fill="#eff3f6"/>
<rect x="432.00" y="441.99" width="43.58" height="16.29" fill="#e8f0f4"/>
<rect x="475.27" y="441.99" width="43.58" height="16.29" fill="#e2edf3"/>
<rect x="518.55" y="441.99" width="43.58" height="16.29" fill="#e6eff4"/>
<rect x="561.83" y="441.99" width="43.58" height="16.29" fill="#e2edf3"/>
<rect x="432.00" y="457.97" width="43.58" height="16.29" fill="#e68367"/>
<rect x="475.27" y="457.97" width="43.58" height="16.29" fill="#ed9474"/>
<rect x="518.55" y="457.97" width="43.58" height="16.29" fill="#ea8d6f"/>
<rect x="561.83" y="457.97" width="43.58" height="16.29" fill="#f5a885"/>
<rect x="432.00" y="473.96" width="43.58" height="16.29" fill="#f5a885"/>
<rect x="475.27" y="473.96" width="43.58" height="16.29" fill="#fac3a7"/>
<rect x="518.55" y="473.96" width="43.58" height="16.29" fill="#fac3a7"/>
<rect x="561.83" y="473.96" width="43.58" height="16.29" fill="#f9bda1"/>
<rect x="432.00" y="489.94" width="43.58" height="16.29" fill="#fdd8c3"/>
<rect x="475.27" y="489.94" width="43.58" height="16.29" fill="#fce5d8"/>
<rect x="518.55" y="489.94" width="43.58" height="16.29" fill="#fce3d5"/>
<rect x="561.83" y="489.94" width="43.58" height="16.29" fill="#fce5d8"/>
<rect x="432.00" y="505.93" width="43.58" height="16.29" fill="#aa152a"/>
<rect x="475.27" y="505.93" width="43.58" height="16.29" fill="#c4413c"/>
<rect x="518.55" y="505.93" width="43.58" height="16.29" fill="#c4413c"/>
<rect x="561.83" y="505.93" width="43.58" height="16.29" fill="#ca4b41"/>
<rect x="432.00" y="521.91" width="43.58" height="16.29" fill="#f8b596"/>
<rect x="475.27" y="521.91" width="43.58" height="16.29" fill="#f8b596"/>
<rect x="518.55" y="521.91" width="43.58" height="16.29" fill="#f09b7a"/>
<rect x="561.83" y="521.91" width="43.58" height="16.29" fill="#f7b293"/>
<rect x="432.00" y="537.90" width="43.58" height="16.29" fill="#f9bb9d"/>
<rect x="475.27" y="537.90" width="43.58" height="16.29" fill="#fac3a7"/>
<rect x="518.55" y="537.90" width="43.58" height="16.29" fill="#fac3a7"/>
<rect x="561.83" y="537.90" width="43.58" height="16.29" fill="#f9bda1"/>
<rect x="432.00" y="553.89" width="43.58" height="16.29" fill="#f3a27f"/>
<rect x="475.27" y="553.89" width="43.58" height="16.29" fill="#e98a6c"/>
<rect x="518.55" y="553.89" width="43.58" height="16.29" fill="#ed9474"/>
<rect x="561.83" y="553.89" width="43.58" height="16.29" fill="#fac0a4"/>
<rect x="432.00" y="569.87" width="43.58" height="16.29" fill="#f19e7c"/>
<rect x="475.27" y="569.87" width="43.58" height="16.29" fill="#f5aa89"/>
<rect x="518.55" y="569.87" width="43.58" height="16.29" fill="#f8b596"/>
<rect x="561.83" y="569.87" width="43.58" height="16.29" fill="#f5aa89"/>
<rect x="432.00" y="585.86" width="43.58" height="16.29" fill="#fbc5ab"/>
<rect x="475.27" y="585.86" width="43.58" height="16.29" fill="#f9bb9d"/>
<rect x="518.55" y="585.86" width="43.58" height="16.29" fill="#fac3a7"/>
<rect x="561.83" y="585.86" width="43.58" height="16.29" fill="#fdd6c0"/>
<rect x="432.00" y="601.84" width="43.58" height="16.29" fill="#e37c62"/>
<rect x="475.27" y="601.84" width="43.58" height="16.29" fill="#d35a49"/>
<rect x="518.55" y="601.84" width="43.58" height="16.29" fill="#c33e3a"/>
<rect x="561.83" y="601.84" width="43.58" height="16.29" fill="#e1795f"/>
<rect x="432.00" y="617.83" width="43.58" height="16.29" fill="#f8b89a"/>
<rect x="475.27" y="617.83" width="43.58" height="16.29" fill="#fcd0b9"/>
<rect x="518.55" y="617.83" width="43.58" height="16.29" fill="#fcd0b9"/>
<rect x="561.83" y="617.83" width="43.58" height="16.29" fill="#fccdb5"/>
<rect x="432.00" y="633.81" width="43.58" height="16.29" fill="#fbc8ae"/>
<rect x="475.27" y="633.81" width="43.58" height="16.29" fill="#fccdb5"/>
<rect x="518.55" y="633.81" width="43.58" height="16.29" fill="#fbc8ae"/>
<rect x="561.83" y="633.81" width="43.58" height="16.29" fill="#fddecc"/>
<line x1="429" y1="433.99" x2="432" y2="433.99" stroke="#cfcfcf" stroke-width="0.8"/>
<line x1="605.6" y1="433.99" x2="608.5" y2="433.99" stroke="#cfcfcf" stroke-width="0.8"/>
<line x1="429" y1="449.98" x2="432" y2="449.98" stroke="#cfcfcf" stroke-width="0.8"/>
<line x1="605.6" y1="449.98" x2="608.5" y2="449.98" stroke="#cfcfcf" stroke-width="0.8"/>
<line x1="429" y1="465.96" x2="432" y2="465.96" stroke="#cfcfcf" stroke-width="0.8"/>
<line x1="605.6" y1="465.96" x2="608.5" y2="465.96" stroke="#cfcfcf" stroke-width="0.8"/>
<line x1="429" y1="481.95" x2="432" y2="481.95" stroke="#cfcfcf" stroke-width="0.8"/>
<line x1="605.6" y1="481.95" x2="608.5" y2="481.95" stroke="#cfcfcf" stroke-width="0.8"/>
<line x1="429" y1="497.94" x2="432" y2="497.94" stroke="#cfcfcf" stroke-width="0.8"/>
<line x1="605.6" y1="497.94" x2="608.5" y2="497.94" stroke="#cfcfcf" stroke-width="0.8"/>
<line x1="429" y1="513.92" x2="432" y2="513.92" stroke="#cfcfcf" stroke-width="0.8"/>
<line x1="605.6" y1="513.92" x2="608.5" y2="513.92" stroke="#cfcfcf" stroke-width="0.8"/>
<line x1="429" y1="529.91" x2="432" y2="529.91" stroke="#cfcfcf" stroke-width="0.8"/>
<line x1="605.6" y1="529.91" x2="608.5" y2="529.91" stroke="#cfcfcf" stroke-width="0.8"/>
<line x1="429" y1="545.89" x2="432" y2="545.89" stroke="#cfcfcf" stroke-width="0.8"/>
<line x1="605.6" y1="545.89" x2="608.5" y2="545.89" stroke="#cfcfcf" stroke-width="0.8"/>
<line x1="429" y1="561.88" x2="432" y2="561.88" stroke="#cfcfcf" stroke-width="0.8"/>
<line x1="605.6" y1="561.88" x2="608.5" y2="561.88" stroke="#cfcfcf" stroke-width="0.8"/>
<line x1="429" y1="577.86" x2="432" y2="577.86" stroke="#cfcfcf" stroke-width="0.8"/>
<line x1="605.6" y1="577.86" x2="608.5" y2="577.86" stroke="#cfcfcf" stroke-width="0.8"/>
<line x1="429" y1="593.85" x2="432" y2="593.85" stroke="#cfcfcf" stroke-width="0.8"/>
<line x1="605.6" y1="593.85" x2="608.5" y2="593.85" stroke="#cfcfcf" stroke-width="0.8"/>
<line x1="429" y1="609.84" x2="432" y2="609.84" stroke="#cfcfcf" stroke-width="0.8"/>
<line x1="605.6" y1="609.84" x2="608.5" y2="609.84" stroke="#cfcfcf" stroke-width="0.8"/>
<line x1="429" y1="625.82" x2="432" y2="625.82" stroke="#cfcfcf" stroke-width="0.8"/>
<line x1="605.6" y1="625.82" x2="608.5" y2="625.82" stroke="#cfcfcf" stroke-width="0.8"/>
<line x1="429" y1="641.81" x2="432" y2="641.81" stroke="#cfcfcf" stroke-width="0.8"/>
<line x1="605.6" y1="641.81" x2="608.5" y2="641.81" stroke="#cfcfcf" stroke-width="0.8"/>
<text x="453.637" y="433.2" font-size="8.9" fill="#111" text-anchor="middle">−0.03</text>
<text x="496.913" y="433.2" font-size="8.9" fill="#111" text-anchor="middle">0.13</text>
<text x="540.188" y="433.2" font-size="8.9" fill="#111" text-anchor="middle">0</text>
<text x="583.463" y="433.2" font-size="8.9" fill="#111" text-anchor="middle">−0.04</text>
<text x="453.637" y="449.186" font-size="8.9" fill="#111" text-anchor="middle">−0.08</text>
<text x="496.913" y="449.186" font-size="8.9" fill="#111" text-anchor="middle">−0.11</text>
<text x="540.188" y="449.186" font-size="8.9" fill="#111" text-anchor="middle">−0.09</text>
<text x="583.463" y="449.186" font-size="8.9" fill="#111" text-anchor="middle">−0.11</text>
<text x="453.637" y="465.171" font-size="8.9" fill="#111" text-anchor="middle">0.5</text>
<text x="453.637" y="473.171" font-size="8.9" fill="#111" text-anchor="middle">***</text>
<text x="496.913" y="465.171" font-size="8.9" fill="#111" text-anchor="middle">0.45</text>
<text x="496.913" y="473.171" font-size="8.9" fill="#111" text-anchor="middle">***</text>
<text x="540.188" y="465.171" font-size="8.9" fill="#111" text-anchor="middle">0.47</text>
<text x="540.188" y="473.171" font-size="8.9" fill="#111" text-anchor="middle">***</text>
<text x="583.463" y="465.171" font-size="8.9" fill="#111" text-anchor="middle">0.39</text>
<text x="583.463" y="473.171" font-size="8.9" fill="#111" text-anchor="middle">***</text>
<text x="453.637" y="481.157" font-size="8.9" fill="#111" text-anchor="middle">0.39</text>
<text x="453.637" y="489.157" font-size="8.9" fill="#111" text-anchor="middle">**</text>
<text x="496.913" y="481.157" font-size="8.9" fill="#111" text-anchor="middle">0.29</text>
<text x="496.913" y="489.157" font-size="8.9" fill="#111" text-anchor="middle">*</text>
<text x="540.188" y="481.157" font-size="8.9" fill="#111" text-anchor="middle">0.29</text>
<text x="540.188" y="489.157" font-size="8.9" fill="#111" text-anchor="middle">*</text>
<text x="583.463" y="481.157" font-size="8.9" fill="#111" text-anchor="middle">0.31</text>
<text x="583.463" y="489.157" font-size="8.9" fill="#111" text-anchor="middle">**</text>
<text x="453.637" y="497.143" font-size="8.9" fill="#111" text-anchor="middle">0.21</text>
<text x="453.637" y="505.143" font-size="8.9" fill="#111" text-anchor="middle">**</text>
<text x="496.913" y="497.143" font-size="8.9" fill="#111" text-anchor="middle">0.13</text>
<text x="540.188" y="497.143" font-size="8.9" fill="#111" text-anchor="middle">0.14</text>
<text x="583.463" y="497.143" font-size="8.9" fill="#111" text-anchor="middle">0.13</text>
<text x="453.637" y="513.129" font-size="8.9" fill="#111" text-anchor="middle">0.82</text>
<text x="453.637" y="521.129" font-size="8.9" fill="#111" text-anchor="middle">***</text>
<text x="496.913" y="513.129" font-size="8.9" fill="#111" text-anchor="middle">0.7</text>
<text x="496.913" y="521.129" font-size="8.9" fill="#111" text-anchor="middle">***</text>
<text x="540.188" y="513.129" font-size="8.9" fill="#111" text-anchor="middle">0.7</text>
<text x="540.188" y="521.129" font-size="8.9" fill="#111" text-anchor="middle">***</text>
<text x="583.463" y="513.129" font-size="8.9" fill="#111" text-anchor="middle">0.67</text>
<text x="583.463" y="521.129" font-size="8.9" fill="#111" text-anchor="middle">***</text>
<text x="453.637" y="529.114" font-size="8.9" fill="#111" text-anchor="middle">0.34</text>
<text x="453.637" y="537.114" font-size="8.9" fill="#111" text-anchor="middle">***</text>
<text x="496.913" y="529.114" font-size="8.9" fill="#111" text-anchor="middle">0.34</text>
<text x="496.913" y="537.114" font-size="8.9" fill="#111" text-anchor="middle">***</text>
<text x="540.188" y="529.114" font-size="8.9" fill="#111" text-anchor="middle">0.43</text>
<text x="540.188" y="537.114" font-size="8.9" fill="#111" text-anchor="middle">***</text>
<text x="583.463" y="529.114" font-size="8.9" fill="#111" text-anchor="middle">0.35</text>
<text x="583.463" y="537.114" font-size="8.9" fill="#111" text-anchor="middle">***</text>
<text x="453.637" y="545.1" font-size="8.9" fill="#111" text-anchor="middle">0.32</text>
<text x="453.637" y="553.1" font-size="8.9" fill="#111" text-anchor="middle">***</text>
<text x="496.913" y="545.1" font-size="8.9" fill="#111" text-anchor="middle">0.29</text>
<text x="496.913" y="553.1" font-size="8.9" fill="#111" text-anchor="middle">***</text>
<text x="540.188" y="545.1" font-size="8.9" fill="#111" text-anchor="middle">0.29</text>
<text x="540.188" y="553.1" font-size="8.9" fill="#111" text-anchor="middle">***</text>
<text x="583.463" y="545.1" font-size="8.9" fill="#111" text-anchor="middle">0.31</text>
<text x="583.463" y="553.1" font-size="8.9" fill="#111" text-anchor="middle">***</text>
<text x="453.637" y="561.086" font-size="8.9" fill="#111" text-anchor="middle">0.41</text>
<text x="453.637" y="569.086" font-size="8.9" fill="#111" text-anchor="middle">***</text>
<text x="496.913" y="561.086" font-size="8.9" fill="#111" text-anchor="middle">0.48</text>
<text x="496.913" y="569.086" font-size="8.9" fill="#111" text-anchor="middle">***</text>
<text x="540.188" y="561.086" font-size="8.9" fill="#111" text-anchor="middle">0.45</text>
<text x="540.188" y="569.086" font-size="8.9" fill="#111" text-anchor="middle">***</text>
<text x="583.463" y="561.086" font-size="8.9" fill="#111" text-anchor="middle">0.3</text>
<text x="583.463" y="569.086" font-size="8.9" fill="#111" text-anchor="middle">***</text>
<text x="453.637" y="577.071" font-size="8.9" fill="#111" text-anchor="middle">0.42</text>
<text x="453.637" y="585.071" font-size="8.9" fill="#111" text-anchor="middle">***</text>
<text x="496.913" y="577.071" font-size="8.9" fill="#111" text-anchor="middle">0.38</text>
<text x="496.913" y="585.071" font-size="8.9" fill="#111" text-anchor="middle">***</text>
<text x="540.188" y="577.071" font-size="8.9" fill="#111" text-anchor="middle">0.34</text>
<text x="540.188" y="585.071" font-size="8.9" fill="#111" text-anchor="middle">***</text>
<text x="583.463" y="577.071" font-size="8.9" fill="#111" text-anchor="middle">0.38</text>
<text x="583.463" y="585.071" font-size="8.9" fill="#111" text-anchor="middle">***</text>
<text x="453.637" y="593.057" font-size="8.9" fill="#111" text-anchor="middle">0.28</text>
<text x="453.637" y="601.057" font-size="8.9" fill="#111" text-anchor="middle">***</text>
<text x="496.913" y="593.057" font-size="8.9" fill="#111" text-anchor="middle">0.32</text>
<text x="496.913" y="601.057" font-size="8.9" fill="#111" text-anchor="middle">***</text>
<text x="540.188" y="593.057" font-size="8.9" fill="#111" text-anchor="middle">0.29</text>
<text x="540.188" y="601.057" font-size="8.9" fill="#111" text-anchor="middle">***</text>
<text x="583.463" y="593.057" font-size="8.9" fill="#111" text-anchor="middle">0.22</text>
<text x="583.463" y="601.057" font-size="8.9" fill="#111" text-anchor="middle">***</text>
<text x="453.637" y="609.043" font-size="8.9" fill="#111" text-anchor="middle">0.52</text>
<text x="453.637" y="617.043" font-size="8.9" fill="#111" text-anchor="middle">***</text>
<text x="496.913" y="609.043" font-size="8.9" fill="#111" text-anchor="middle">0.62</text>
<text x="496.913" y="617.043" font-size="8.9" fill="#111" text-anchor="middle">***</text>
<text x="540.188" y="609.043" font-size="8.9" fill="#111" text-anchor="middle">0.71</text>
<text x="540.188" y="617.043" font-size="8.9" fill="#111" text-anchor="middle">***</text>
<text x="583.463" y="609.043" font-size="8.9" fill="#111" text-anchor="middle">0.53</text>
<text x="583.463" y="617.043" font-size="8.9" fill="#111" text-anchor="middle">***</text>
<text x="453.637" y="625.029" font-size="8.9" fill="#111" text-anchor="middle">0.33</text>
<text x="453.637" y="633.029" font-size="8.9" fill="#111" text-anchor="middle">***</text>
<text x="496.913" y="625.029" font-size="8.9" fill="#111" text-anchor="middle">0.24</text>
<text x="496.913" y="633.029" font-size="8.9" fill="#111" text-anchor="middle">**</text>
<text x="540.188" y="625.029" font-size="8.9" fill="#111" text-anchor="middle">0.24</text>
<text x="540.188" y="633.029" font-size="8.9" fill="#111" text-anchor="middle">***</text>
<text x="583.463" y="625.029" font-size="8.9" fill="#111" text-anchor="middle">0.25</text>
<text x="583.463" y="633.029" font-size="8.9" fill="#111" text-anchor="middle">***</text>
<text x="453.637" y="641.014" font-size="8.9" fill="#111" text-anchor="middle">0.27</text>
<text x="453.637" y="649.014" font-size="8.9" fill="#111" text-anchor="middle">***</text>
<text x="496.913" y="641.014" font-size="8.9" fill="#111" text-anchor="middle">0.25</text>
<text x="496.913" y="649.014" font-size="8.9" fill="#111" text-anchor="middle">***</text>
<text x="540.188" y="641.014" font-size="8.9" fill="#111" text-anchor="middle">0.27</text>
<text x="540.188" y="649.014" font-size="8.9" fill="#111" text-anchor="middle">***</text>
<text x="583.463" y="641.014" font-size="8.9" fill="#111" text-anchor="middle">0.18</text>
<text x="583.463" y="649.014" font-size="8.9" fill="#111" text-anchor="middle">**</text>
<rect x="428.5" y="425.5" width="181" height="225" fill="none" stroke="#7a7a7a" stroke-width="1"/>
<line x1="428" y1="650.6" x2="610" y2="650.6" stroke="#b3b3b3" stroke-width="1.3"/>
<text x="445.037" y="662.2" font-size="9.4" fill="#4d4d4d" text-anchor="start" font-style="italic" transform="rotate(13 445.037 662.2)">SSP1−2.6</text>
<text x="488.312" y="662.2" font-size="9.4" fill="#4d4d4d" text-anchor="start" font-style="italic" transform="rotate(13 488.312 662.2)">SSP2−4.5</text>
<text x="531.587" y="662.2" font-size="9.4" fill="#4d4d4d" text-anchor="start" font-style="italic" transform="rotate(13 531.587 662.2)">SSP3−7.0</text>
<text x="574.863" y="662.2" font-size="9.4" fill="#4d4d4d" text-anchor="start" font-style="italic" transform="rotate(13 574.863 662.2)">SSP5−8.5</text>
<text x="45.8" y="437.693" font-size="9" fill="#555555" text-anchor="end">Polar</text>
<text x="45.8" y="453.679" font-size="9" fill="#555555" text-anchor="end">BRCF</text>
<text x="45.8" y="469.664" font-size="9" fill="#555555" text-anchor="end">BRMS</text>
<text x="45.8" y="485.65" font-size="9" fill="#555555" text-anchor="end">BRTW</text>
<text x="45.8" y="501.636" font-size="9" fill="#555555" text-anchor="end">TPCF</text>
<text x="45.8" y="517.621" font-size="9" fill="#555555" text-anchor="end">TPDT</text>
<text x="45.8" y="533.607" font-size="9" fill="#555555" text-anchor="end">TPMS</text>
<text x="45.8" y="549.593" font-size="9" fill="#555555" text-anchor="end">TPOF</text>
<text x="45.8" y="565.579" font-size="9" fill="#555555" text-anchor="end">TPST</text>
<text x="45.8" y="581.564" font-size="9" fill="#555555" text-anchor="end">STDT</text>
<text x="45.8" y="597.55" font-size="9" fill="#555555" text-anchor="end">STDF</text>
<text x="45.8" y="613.536" font-size="9" fill="#555555" text-anchor="end">STHF</text>
<text x="45.8" y="629.521" font-size="9" fill="#555555" text-anchor="end">STMS</text>
<text x="45.8" y="645.507" font-size="9" fill="#555555" text-anchor="end">STST</text>
<text x="9.8" y="537.8" font-size="12.1" fill="#1a1a1a" text-anchor="middle" transform="rotate(-90 9.8 537.8)">Ecoregions</text>
<text x="29.6" y="425" font-size="12.4" fill="#262626" text-anchor="start">(g)</text>
<defs><linearGradient id="slope" x1="0" y1="0" x2="0" y2="1">
<stop offset="0.0000" stop-color="#67001f"/>
<stop offset="0.0250" stop-color="#790422"/>
<stop offset="0.0500" stop-color="#8c0a25"/>
<stop offset="0.0750" stop-color="#9f1128"/>
<stop offset="0.1000" stop-color="#b2182b"/>
<stop offset="0.1250" stop-color="#bb2f33"/>
<stop offset="0.1500" stop-color="#c4413c"/>
<stop offset="0.1750" stop-color="#cd5144"/>
<stop offset="0.2000" stop-color="#d6604d"/>
<stop offset="0.2250" stop-color="#de725a"/>
<stop offset="0.2500" stop-color="#e68367"/>
<stop offset="0.2750" stop-color="#ed9474"/>
<stop offset="0.3000" stop-color="#f4a582"/>
<stop offset="0.3250" stop-color="#f7b293"/>
<stop offset="0.3500" stop-color="#fac0a4"/>
<stop offset="0.3750" stop-color="#fccdb5"/>
<stop offset="0.4000" stop-color="#fddbc7"/>
<stop offset="0.4250" stop-color="#fce2d3"/>
<stop offset="0.4500" stop-color="#fbe9df"/>
<stop offset="0.4750" stop-color="#f9f0eb"/>
<stop offset="0.5000" stop-color="#f7f7f7"/>
<stop offset="0.5250" stop-color="#eef2f5"/>
<stop offset="0.5500" stop-color="#e4eef4"/>
<stop offset="0.5750" stop-color="#dbe9f2"/>
<stop offset="0.6000" stop-color="#d1e5f0"/>
<stop offset="0.6250" stop-color="#c2ddec"/>
<stop offset="0.6500" stop-color="#b2d5e7"/>
<stop offset="0.6750" stop-color="#a2cde3"/>
<stop offset="0.7000" stop-color="#92c5de"/>
<stop offset="0.7250" stop-color="#80b8d7"/>
<stop offset="0.7500" stop-color="#6eacd1"/>
<stop offset="0.7750" stop-color="#5a9fca"/>
<stop offset="0.8000" stop-color="#4393c3"/>
<stop offset="0.8250" stop-color="#3c88bd"/>
<stop offset="0.8500" stop-color="#347cb8"/>
<stop offset="0.8750" stop-color="#2b71b2"/>
<stop offset="0.9000" stop-color="#2166ac"/>
<stop offset="0.9250" stop-color="#1a5899"/>
<stop offset="0.9500" stop-color="#134a86"/>
<stop offset="0.9750" stop-color="#0c3d73"/>
<stop offset="1.0000" stop-color="#053061"/>
</linearGradient></defs>
<rect x="629" y="431.3" width="9" height="173.1" fill="url(#slope)"/>
<text x="643.6" y="434.8" font-size="9" fill="#1a1a1a" text-anchor="start">1.0</text>
<line x1="629" y1="448.90" x2="631.4" y2="448.90" stroke="#fff" stroke-width="0.8" opacity="0.85"/>
<line x1="635.6" y1="448.90" x2="638" y2="448.90" stroke="#fff" stroke-width="0.8" opacity="0.85"/>
<text x="643.6" y="452.1" font-size="9" fill="#1a1a1a" text-anchor="start">0.8</text>
<line x1="629" y1="466.20" x2="631.4" y2="466.20" stroke="#fff" stroke-width="0.8" opacity="0.85"/>
<line x1="635.6" y1="466.20" x2="638" y2="466.20" stroke="#fff" stroke-width="0.8" opacity="0.85"/>
<text x="643.6" y="469.4" font-size="9" fill="#1a1a1a" text-anchor="start">0.6</text>
<line x1="629" y1="483.50" x2="631.4" y2="483.50" stroke="#fff" stroke-width="0.8" opacity="0.85"/>
<line x1="635.6" y1="483.50" x2="638" y2="483.50" stroke="#fff" stroke-width="0.8" opacity="0.85"/>
<text x="643.6" y="486.7" font-size="9" fill="#1a1a1a" text-anchor="start">0.4</text>
<line x1="629" y1="500.80" x2="631.4" y2="500.80" stroke="#fff" stroke-width="0.8" opacity="0.85"/>
<line x1="635.6" y1="500.80" x2="638" y2="500.80" stroke="#fff" stroke-width="0.8" opacity="0.85"/>
<text x="643.6" y="504" font-size="9" fill="#1a1a1a" text-anchor="start">0.2</text>
<line x1="629" y1="518.10" x2="631.4" y2="518.10" stroke="#fff" stroke-width="0.8" opacity="0.85"/>
<line x1="635.6" y1="518.10" x2="638" y2="518.10" stroke="#fff" stroke-width="0.8" opacity="0.85"/>
<text x="643.6" y="521.3" font-size="9" fill="#1a1a1a" text-anchor="start">0.0</text>
<line x1="629" y1="535.40" x2="631.4" y2="535.40" stroke="#fff" stroke-width="0.8" opacity="0.85"/>
<line x1="635.6" y1="535.40" x2="638" y2="535.40" stroke="#fff" stroke-width="0.8" opacity="0.85"/>
<text x="643.6" y="538.6" font-size="9" fill="#1a1a1a" text-anchor="start">−0.2</text>
<line x1="629" y1="552.70" x2="631.4" y2="552.70" stroke="#fff" stroke-width="0.8" opacity="0.85"/>
<line x1="635.6" y1="552.70" x2="638" y2="552.70" stroke="#fff" stroke-width="0.8" opacity="0.85"/>
<text x="643.6" y="555.9" font-size="9" fill="#1a1a1a" text-anchor="start">−0.4</text>
<line x1="629" y1="570.00" x2="631.4" y2="570.00" stroke="#fff" stroke-width="0.8" opacity="0.85"/>
<line x1="635.6" y1="570.00" x2="638" y2="570.00" stroke="#fff" stroke-width="0.8" opacity="0.85"/>
<text x="643.6" y="573.2" font-size="9" fill="#1a1a1a" text-anchor="start">−0.6</text>
<line x1="629" y1="587.30" x2="631.4" y2="587.30" stroke="#fff" stroke-width="0.8" opacity="0.85"/>
<line x1="635.6" y1="587.30" x2="638" y2="587.30" stroke="#fff" stroke-width="0.8" opacity="0.85"/>
<text x="643.6" y="590.5" font-size="9" fill="#1a1a1a" text-anchor="start">−0.8</text>
<text x="643.6" y="607.8" font-size="9" fill="#1a1a1a" text-anchor="start">−1.0</text>
<text x="670.6" y="485.6" font-size="12.1" fill="#1a1a1a" text-anchor="start" transform="rotate(90 670.6 485.6)">Linear slope</text>
<text x="624" y="621.5" font-size="10.4" fill="#1a1a1a" text-anchor="start" font-weight="bold">p-value</text>
<text x="630" y="639.4" font-size="11" fill="#1a1a1a" text-anchor="middle">*</text>
<text x="649.6" y="639.3" font-size="10" fill="#1a1a1a" text-anchor="start">p&lt;0.05</text>
<text x="630" y="650.9" font-size="11" fill="#1a1a1a" text-anchor="middle">**</text>
<text x="649.6" y="652.3" font-size="10" fill="#1a1a1a" text-anchor="start">p&lt;0.01</text>
<text x="630" y="663.9" font-size="11" fill="#1a1a1a" text-anchor="middle">***</text>
<text x="649.6" y="665.3" font-size="10" fill="#1a1a1a" text-anchor="start">p&lt;0.001</text>
</svg>
</body></html>
